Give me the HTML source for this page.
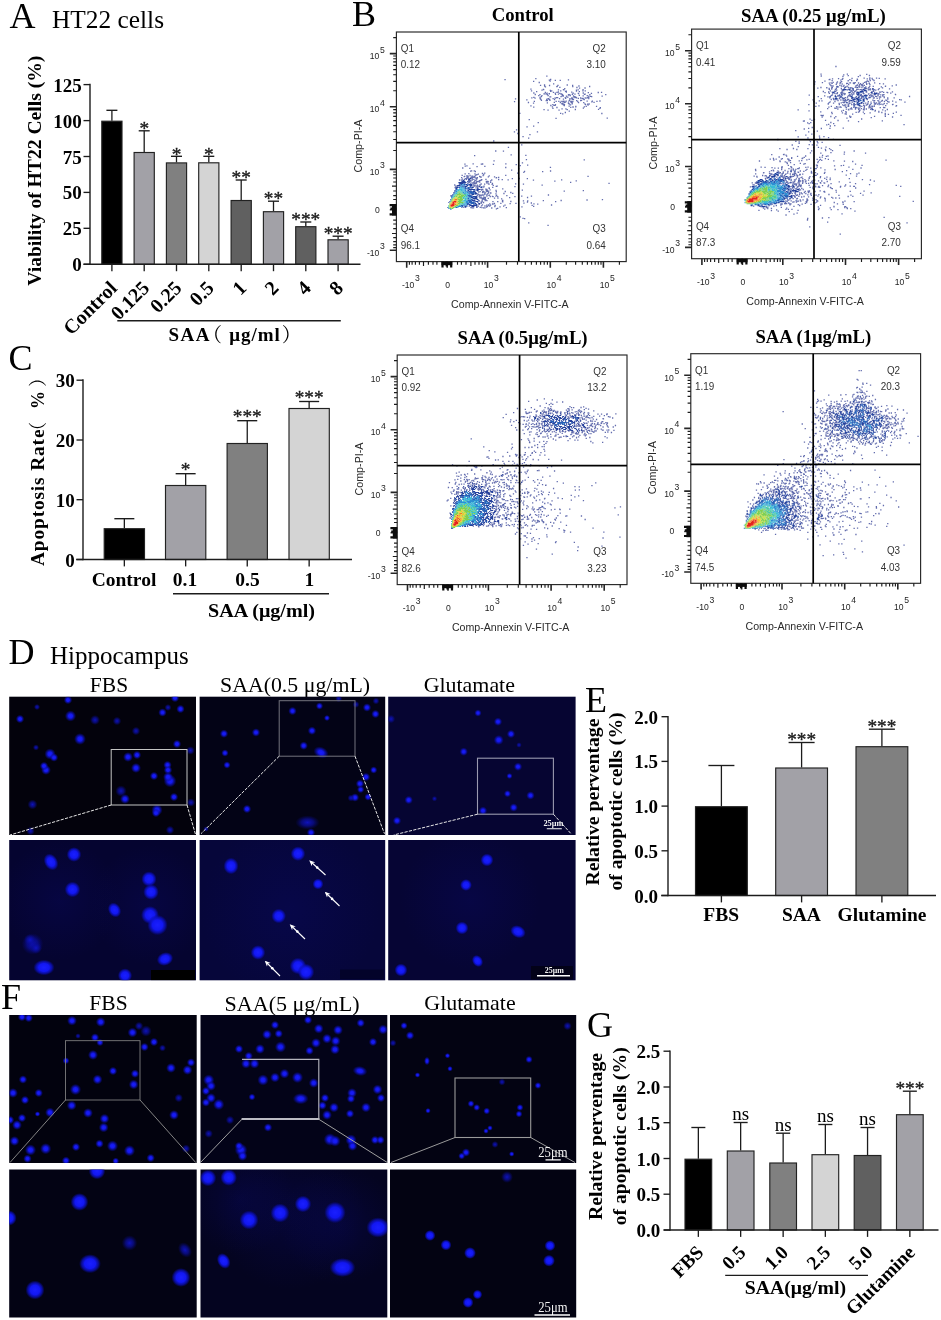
<!DOCTYPE html>
<html lang="en"><head><meta charset="utf-8"><title>Figure</title>
<style>
html,body{margin:0;padding:0;background:#fff;}
svg{display:block}
text{white-space:pre}
.r{font-family:'Liberation Serif','Noto Serif CJK SC','DejaVu Serif',serif;}
.b{font-family:'Liberation Serif','Noto Serif CJK SC','DejaVu Serif',serif;font-weight:bold;}
.a{font-family:'Liberation Sans','DejaVu Sans',sans-serif;}
</style></head><body>
<svg width="941" height="1320" viewBox="0 0 941 1320">
<defs>
<radialGradient id="cg"><stop offset="0" stop-color="#1a1fff"/><stop offset="0.5" stop-color="#1217f2"/><stop offset="0.76" stop-color="#0c10c4" stop-opacity="0.72"/><stop offset="1" stop-color="#0808a0" stop-opacity="0"/></radialGradient>
<radialGradient id="cs"><stop offset="0" stop-color="#1a1efc"/><stop offset="0.36" stop-color="#1418ea"/><stop offset="0.68" stop-color="#0c0fb4" stop-opacity="0.62"/><stop offset="1" stop-color="#070788" stop-opacity="0"/></radialGradient>
<radialGradient id="cd"><stop offset="0" stop-color="#0f13c4" stop-opacity="0.95"/><stop offset="0.5" stop-color="#0b0ea0" stop-opacity="0.7"/><stop offset="1" stop-color="#080880" stop-opacity="0"/></radialGradient>
<radialGradient id="hz"><stop offset="0" stop-color="#0a0a70" stop-opacity="0.28"/><stop offset="1" stop-color="#0a0a70" stop-opacity="0"/></radialGradient>
<marker id="ah" viewBox="0 0 10 10" refX="7" refY="5" markerWidth="5.4" markerHeight="5.4" orient="auto"><path d="M10 5L0 0.5L3.2 5L0 9.5z" fill="#fff"/></marker>
</defs>
<rect width="941" height="1320" fill="#fff"/>
<text class="r" font-size="36" x="9.5" y="27.5">A</text>
<text class="r" font-size="25" textLength="112" lengthAdjust="spacingAndGlyphs" x="52" y="27.5">HT22 cells</text>
<line x1="111.89999999999999" y1="120.7" x2="111.89999999999999" y2="110.3" stroke="#1c1c1c" stroke-width="1.3"/>
<line x1="106.39999999999999" y1="110.3" x2="117.39999999999999" y2="110.3" stroke="#1c1c1c" stroke-width="1.35"/>
<rect x="101.8" y="121.2" width="20.2" height="143.10000000000002" fill="#000000" stroke="#222" stroke-width="1.15"/>
<line x1="111.89999999999999" y1="264.3" x2="111.89999999999999" y2="271.2" stroke="#1c1c1c" stroke-width="1.35"/>
<line x1="144.2" y1="152" x2="144.2" y2="130.8" stroke="#1c1c1c" stroke-width="1.3"/>
<line x1="138.7" y1="130.8" x2="149.7" y2="130.8" stroke="#1c1c1c" stroke-width="1.35"/>
<rect x="134.1" y="152.5" width="20.2" height="111.80000000000001" fill="#a2a1a7" stroke="#222" stroke-width="1.15"/>
<line x1="144.2" y1="264.3" x2="144.2" y2="271.2" stroke="#1c1c1c" stroke-width="1.35"/>
<text class="r" font-size="19.3" text-anchor="middle" fill="#1c1c1c" x="144.2" y="135.0" stroke="#1c1c1c" stroke-width="0.35">*</text>
<line x1="176.5" y1="162.4" x2="176.5" y2="156.3" stroke="#1c1c1c" stroke-width="1.3"/>
<line x1="171.0" y1="156.3" x2="182.0" y2="156.3" stroke="#1c1c1c" stroke-width="1.35"/>
<rect x="166.4" y="162.9" width="20.2" height="101.4" fill="#808080" stroke="#222" stroke-width="1.15"/>
<line x1="176.5" y1="264.3" x2="176.5" y2="271.2" stroke="#1c1c1c" stroke-width="1.35"/>
<text class="r" font-size="19.3" text-anchor="middle" fill="#1c1c1c" x="176.5" y="160.5" stroke="#1c1c1c" stroke-width="0.35">*</text>
<line x1="208.79999999999998" y1="162.3" x2="208.79999999999998" y2="156.3" stroke="#1c1c1c" stroke-width="1.3"/>
<line x1="203.29999999999998" y1="156.3" x2="214.29999999999998" y2="156.3" stroke="#1c1c1c" stroke-width="1.35"/>
<rect x="198.7" y="162.8" width="20.2" height="101.5" fill="#d4d4d4" stroke="#222" stroke-width="1.15"/>
<line x1="208.79999999999998" y1="264.3" x2="208.79999999999998" y2="271.2" stroke="#1c1c1c" stroke-width="1.35"/>
<text class="r" font-size="19.3" text-anchor="middle" fill="#1c1c1c" x="208.79999999999998" y="160.5" stroke="#1c1c1c" stroke-width="0.35">*</text>
<line x1="241.2" y1="200" x2="241.2" y2="180" stroke="#1c1c1c" stroke-width="1.3"/>
<line x1="235.7" y1="180" x2="246.7" y2="180" stroke="#1c1c1c" stroke-width="1.35"/>
<rect x="231.1" y="200.5" width="20.2" height="63.80000000000001" fill="#606060" stroke="#222" stroke-width="1.15"/>
<line x1="241.2" y1="264.3" x2="241.2" y2="271.2" stroke="#1c1c1c" stroke-width="1.35"/>
<text class="r" font-size="19.3" text-anchor="middle" fill="#1c1c1c" x="241.2" y="184.2" stroke="#1c1c1c" stroke-width="0.35">**</text>
<line x1="273.5" y1="211.2" x2="273.5" y2="201.2" stroke="#1c1c1c" stroke-width="1.3"/>
<line x1="268.0" y1="201.2" x2="279.0" y2="201.2" stroke="#1c1c1c" stroke-width="1.35"/>
<rect x="263.4" y="211.7" width="20.2" height="52.60000000000002" fill="#a2a1a7" stroke="#222" stroke-width="1.15"/>
<line x1="273.5" y1="264.3" x2="273.5" y2="271.2" stroke="#1c1c1c" stroke-width="1.35"/>
<text class="r" font-size="19.3" text-anchor="middle" fill="#1c1c1c" x="273.5" y="205.39999999999998" stroke="#1c1c1c" stroke-width="0.35">**</text>
<line x1="305.8" y1="226.2" x2="305.8" y2="222" stroke="#1c1c1c" stroke-width="1.3"/>
<line x1="300.3" y1="222" x2="311.3" y2="222" stroke="#1c1c1c" stroke-width="1.35"/>
<rect x="295.7" y="226.7" width="20.2" height="37.60000000000002" fill="#606060" stroke="#222" stroke-width="1.15"/>
<line x1="305.8" y1="264.3" x2="305.8" y2="271.2" stroke="#1c1c1c" stroke-width="1.35"/>
<text class="r" font-size="19.3" text-anchor="middle" fill="#1c1c1c" x="305.8" y="226.2" stroke="#1c1c1c" stroke-width="0.35">***</text>
<line x1="338.1" y1="239.3" x2="338.1" y2="236.2" stroke="#1c1c1c" stroke-width="1.3"/>
<line x1="332.6" y1="236.2" x2="343.6" y2="236.2" stroke="#1c1c1c" stroke-width="1.35"/>
<rect x="328.0" y="239.8" width="20.2" height="24.5" fill="#a2a1a7" stroke="#222" stroke-width="1.15"/>
<line x1="338.1" y1="264.3" x2="338.1" y2="271.2" stroke="#1c1c1c" stroke-width="1.35"/>
<text class="r" font-size="19.3" text-anchor="middle" fill="#1c1c1c" x="338.1" y="240.39999999999998" stroke="#1c1c1c" stroke-width="0.35">***</text>
<line x1="90" y1="83.8" x2="90" y2="265.0" stroke="#1c1c1c" stroke-width="1.4"/>
<line x1="83.5" y1="264.3" x2="360.5" y2="264.3" stroke="#1c1c1c" stroke-width="1.4"/>
<line x1="83.5" y1="264.3" x2="90" y2="264.3" stroke="#1c1c1c" stroke-width="1.35"/>
<text class="b" font-size="19" text-anchor="end" x="81.8" y="271.3">0</text>
<line x1="83.5" y1="228.3" x2="90" y2="228.3" stroke="#1c1c1c" stroke-width="1.35"/>
<text class="b" font-size="19" text-anchor="end" x="81.8" y="235.3">25</text>
<line x1="83.5" y1="192.4" x2="90" y2="192.4" stroke="#1c1c1c" stroke-width="1.35"/>
<text class="b" font-size="19" text-anchor="end" x="81.8" y="199.4">50</text>
<line x1="83.5" y1="156.5" x2="90" y2="156.5" stroke="#1c1c1c" stroke-width="1.35"/>
<text class="b" font-size="19" text-anchor="end" x="81.8" y="163.5">75</text>
<line x1="83.5" y1="120.6" x2="90" y2="120.6" stroke="#1c1c1c" stroke-width="1.35"/>
<text class="b" font-size="19" text-anchor="end" x="81.8" y="127.6">100</text>
<line x1="83.5" y1="84.6" x2="90" y2="84.6" stroke="#1c1c1c" stroke-width="1.35"/>
<text class="b" font-size="19" text-anchor="end" x="81.8" y="91.6">125</text>
<text class="b" font-size="19.5" text-anchor="middle" textLength="230" lengthAdjust="spacingAndGlyphs" transform="translate(41.2 170.7) rotate(-90)">Viability of HT22 Cells (%)</text>
<text class="b" font-size="20" text-anchor="end" transform="translate(118.19999999999999 289.2) rotate(-45)">Control</text>
<text class="b" font-size="20" text-anchor="end" transform="translate(150.5 289.2) rotate(-45)">0.125</text>
<text class="b" font-size="20" text-anchor="end" transform="translate(182.8 289.2) rotate(-45)">0.25</text>
<text class="b" font-size="20" text-anchor="end" transform="translate(215.1 289.2) rotate(-45)">0.5</text>
<text class="b" font-size="20" text-anchor="end" transform="translate(247.5 289.2) rotate(-45)">1</text>
<text class="b" font-size="20" text-anchor="end" transform="translate(279.8 289.2) rotate(-45)">2</text>
<text class="b" font-size="20" text-anchor="end" transform="translate(312.1 289.2) rotate(-45)">4</text>
<text class="b" font-size="20" text-anchor="end" transform="translate(344.40000000000003 289.2) rotate(-45)">8</text>
<line x1="117.3" y1="320.7" x2="340.8" y2="320.7" stroke="#1c1c1c" stroke-width="1.35"/>
<text class="b" font-size="19" textLength="41.2" lengthAdjust="spacing" x="168.4" y="341.2">SAA</text>
<text class="r" font-size="19.5" x="202.4" y="341.8">（</text>
<text class="b" font-size="19" textLength="50.6" lengthAdjust="spacing" x="229.2" y="341.2">μg/ml</text>
<text class="r" font-size="19.5" x="281.8" y="341.8">）</text>
<text class="r" font-size="36" x="8.5" y="370">C</text>
<line x1="124.35" y1="528.2" x2="124.35" y2="518.7" stroke="#1c1c1c" stroke-width="1.3"/>
<line x1="114.35" y1="518.7" x2="134.35" y2="518.7" stroke="#1c1c1c" stroke-width="1.35"/>
<rect x="104.2" y="528.7" width="40.3" height="30.799999999999955" fill="#000000" stroke="#222" stroke-width="1.15"/>
<line x1="124.35" y1="559.5" x2="124.35" y2="566.4" stroke="#1c1c1c" stroke-width="1.35"/>
<line x1="185.65" y1="485" x2="185.65" y2="473.7" stroke="#1c1c1c" stroke-width="1.3"/>
<line x1="175.65" y1="473.7" x2="195.65" y2="473.7" stroke="#1c1c1c" stroke-width="1.35"/>
<rect x="165.5" y="485.5" width="40.3" height="74.0" fill="#a2a1a7" stroke="#222" stroke-width="1.15"/>
<line x1="185.65" y1="559.5" x2="185.65" y2="566.4" stroke="#1c1c1c" stroke-width="1.35"/>
<text class="r" font-size="19.3" text-anchor="middle" fill="#1c1c1c" x="185.65" y="476.3" stroke="#1c1c1c" stroke-width="0.35">*</text>
<line x1="247.25" y1="443" x2="247.25" y2="420.7" stroke="#1c1c1c" stroke-width="1.3"/>
<line x1="237.25" y1="420.7" x2="257.25" y2="420.7" stroke="#1c1c1c" stroke-width="1.35"/>
<rect x="227.1" y="443.5" width="40.3" height="116.0" fill="#808080" stroke="#222" stroke-width="1.15"/>
<line x1="247.25" y1="559.5" x2="247.25" y2="566.4" stroke="#1c1c1c" stroke-width="1.35"/>
<text class="r" font-size="19.3" text-anchor="middle" fill="#1c1c1c" x="247.25" y="423.3" stroke="#1c1c1c" stroke-width="0.35">***</text>
<line x1="309.15" y1="408" x2="309.15" y2="401.5" stroke="#1c1c1c" stroke-width="1.3"/>
<line x1="299.15" y1="401.5" x2="319.15" y2="401.5" stroke="#1c1c1c" stroke-width="1.35"/>
<rect x="289.0" y="408.5" width="40.3" height="151.0" fill="#d4d4d4" stroke="#222" stroke-width="1.15"/>
<line x1="309.15" y1="559.5" x2="309.15" y2="566.4" stroke="#1c1c1c" stroke-width="1.35"/>
<text class="r" font-size="19.3" text-anchor="middle" fill="#1c1c1c" x="309.15" y="404.1" stroke="#1c1c1c" stroke-width="0.35">***</text>
<line x1="83" y1="379.3" x2="83" y2="560.2" stroke="#1c1c1c" stroke-width="1.4"/>
<line x1="76.2" y1="559.5" x2="352" y2="559.5" stroke="#1c1c1c" stroke-width="1.4"/>
<line x1="76.5" y1="559.5" x2="83" y2="559.5" stroke="#1c1c1c" stroke-width="1.35"/>
<text class="b" font-size="19" text-anchor="end" x="74.8" y="566.5">0</text>
<line x1="76.5" y1="499.7" x2="83" y2="499.7" stroke="#1c1c1c" stroke-width="1.35"/>
<text class="b" font-size="19" text-anchor="end" x="74.8" y="506.7">10</text>
<line x1="76.5" y1="440" x2="83" y2="440" stroke="#1c1c1c" stroke-width="1.35"/>
<text class="b" font-size="19" text-anchor="end" x="74.8" y="447.0">20</text>
<line x1="76.5" y1="380.2" x2="83" y2="380.2" stroke="#1c1c1c" stroke-width="1.35"/>
<text class="b" font-size="19" text-anchor="end" x="74.8" y="387.2">30</text>
<text class="b" font-size="19.4" textLength="136.5" lengthAdjust="spacing" transform="translate(43.5 566) rotate(-90)">Apoptosis Rate</text>
<text class="r" font-size="18.5" transform="translate(43.6 440.2) rotate(-90)">（</text>
<text class="b" font-size="19.5" textLength="18" lengthAdjust="spacingAndGlyphs" transform="translate(43.5 409) rotate(-90)">%</text>
<text class="r" font-size="18.5" transform="translate(43.6 387.0) rotate(-90)">）</text>
<text class="b" font-size="19.5" text-anchor="middle" x="124" y="586.2">Control</text>
<text class="b" font-size="19.5" text-anchor="middle" x="185" y="586.2">0.1</text>
<text class="b" font-size="19.5" text-anchor="middle" x="247.5" y="586.2">0.5</text>
<text class="b" font-size="19.5" text-anchor="middle" x="309.3" y="586.2">1</text>
<line x1="173" y1="593.7" x2="329" y2="593.7" stroke="#1c1c1c" stroke-width="1.35"/>
<text class="b" font-size="19.5" text-anchor="middle" textLength="107" lengthAdjust="spacingAndGlyphs" x="261.5" y="617">SAA (μg/ml)</text>
<text class="r" font-size="36" x="8.5" y="663.7">D</text>
<text class="r" font-size="25" textLength="138.7" lengthAdjust="spacingAndGlyphs" x="50" y="663.7">Hippocampus</text>
<text class="r" font-size="21.5" text-anchor="middle" x="109" y="692.3">FBS</text>
<text class="r" font-size="21.5" text-anchor="middle" textLength="150" lengthAdjust="spacingAndGlyphs" x="295" y="692.3">SAA(0.5 μg/mL)</text>
<text class="r" font-size="21.5" text-anchor="middle" textLength="91.3" lengthAdjust="spacingAndGlyphs" x="469.3" y="692.3">Glutamate</text>
<text class="r" font-size="36" x="1" y="1008.7">F</text>
<text class="r" font-size="21.5" text-anchor="middle" x="108.5" y="1010">FBS</text>
<text class="r" font-size="21.5" text-anchor="middle" textLength="135" lengthAdjust="spacingAndGlyphs" x="292" y="1010.5">SAA(5 μg/mL)</text>
<text class="r" font-size="21.5" text-anchor="middle" textLength="91.3" lengthAdjust="spacingAndGlyphs" x="470" y="1010">Glutamate</text>
<text class="r" font-size="36" x="585" y="712">E</text>
<line x1="721.4" y1="806.2" x2="721.4" y2="765.5" stroke="#1c1c1c" stroke-width="1.3"/>
<line x1="708.4" y1="765.5" x2="734.4" y2="765.5" stroke="#1c1c1c" stroke-width="1.35"/>
<rect x="695.5" y="806.7" width="51.8" height="88.79999999999995" fill="#000000" stroke="#222" stroke-width="1.15"/>
<line x1="721.4" y1="895.5" x2="721.4" y2="902.4" stroke="#1c1c1c" stroke-width="1.35"/>
<line x1="801.6" y1="767.5" x2="801.6" y2="742.5" stroke="#1c1c1c" stroke-width="1.3"/>
<line x1="788.6" y1="742.5" x2="814.6" y2="742.5" stroke="#1c1c1c" stroke-width="1.35"/>
<rect x="775.7" y="768.0" width="51.8" height="127.5" fill="#a2a1a7" stroke="#222" stroke-width="1.15"/>
<line x1="801.6" y1="895.5" x2="801.6" y2="902.4" stroke="#1c1c1c" stroke-width="1.35"/>
<text class="r" font-size="19.3" text-anchor="middle" fill="#1c1c1c" x="801.6" y="746.0" stroke="#1c1c1c" stroke-width="0.35">***</text>
<line x1="881.9" y1="746.2" x2="881.9" y2="729.2" stroke="#1c1c1c" stroke-width="1.3"/>
<line x1="868.9" y1="729.2" x2="894.9" y2="729.2" stroke="#1c1c1c" stroke-width="1.35"/>
<rect x="856.0" y="746.7" width="51.8" height="148.79999999999995" fill="#808080" stroke="#222" stroke-width="1.15"/>
<line x1="881.9" y1="895.5" x2="881.9" y2="902.4" stroke="#1c1c1c" stroke-width="1.35"/>
<text class="r" font-size="19.3" text-anchor="middle" fill="#1c1c1c" x="881.9" y="732.7" stroke="#1c1c1c" stroke-width="0.35">***</text>
<line x1="668" y1="716.0" x2="668" y2="896.2" stroke="#1c1c1c" stroke-width="1.4"/>
<line x1="661.2" y1="895.5" x2="936" y2="895.5" stroke="#1c1c1c" stroke-width="1.4"/>
<line x1="661.5" y1="895.5" x2="668" y2="895.5" stroke="#1c1c1c" stroke-width="1.35"/>
<text class="b" font-size="19" text-anchor="end" x="658.0" y="902.5">0.0</text>
<line x1="661.5" y1="850.8" x2="668" y2="850.8" stroke="#1c1c1c" stroke-width="1.35"/>
<text class="b" font-size="19" text-anchor="end" x="658.0" y="857.8">0.5</text>
<line x1="661.5" y1="806.1" x2="668" y2="806.1" stroke="#1c1c1c" stroke-width="1.35"/>
<text class="b" font-size="19" text-anchor="end" x="658.0" y="813.1">1.0</text>
<line x1="661.5" y1="761.4" x2="668" y2="761.4" stroke="#1c1c1c" stroke-width="1.35"/>
<text class="b" font-size="19" text-anchor="end" x="658.0" y="768.4">1.5</text>
<line x1="661.5" y1="716.7" x2="668" y2="716.7" stroke="#1c1c1c" stroke-width="1.35"/>
<text class="b" font-size="19" text-anchor="end" x="658.0" y="723.7">2.0</text>
<text class="b" font-size="19.5" text-anchor="middle" textLength="166.8" lengthAdjust="spacingAndGlyphs" transform="translate(599.3 802) rotate(-90)">Relative perventage</text>
<text class="b" font-size="19.5" text-anchor="middle" textLength="178" lengthAdjust="spacingAndGlyphs" transform="translate(622 801.5) rotate(-90)">of apoptotic cells (%)</text>
<text class="b" font-size="19.5" text-anchor="middle" x="721.2" y="921.2">FBS</text>
<text class="b" font-size="19.5" text-anchor="middle" x="801.4" y="921.2">SAA</text>
<text class="b" font-size="19.5" text-anchor="middle" textLength="88.8" lengthAdjust="spacingAndGlyphs" x="882" y="921.2">Glutamine</text>
<text class="r" font-size="36" x="587" y="1037">G</text>
<line x1="698.35" y1="1158.7" x2="698.35" y2="1127.5" stroke="#1c1c1c" stroke-width="1.3"/>
<line x1="691.35" y1="1127.5" x2="705.35" y2="1127.5" stroke="#1c1c1c" stroke-width="1.35"/>
<rect x="685.0" y="1159.2" width="26.7" height="70.79999999999995" fill="#000000" stroke="#222" stroke-width="1.15"/>
<line x1="698.35" y1="1230" x2="698.35" y2="1236.9" stroke="#1c1c1c" stroke-width="1.35"/>
<line x1="740.65" y1="1150.5" x2="740.65" y2="1122.5" stroke="#1c1c1c" stroke-width="1.3"/>
<line x1="733.65" y1="1122.5" x2="747.65" y2="1122.5" stroke="#1c1c1c" stroke-width="1.35"/>
<rect x="727.3" y="1151.0" width="26.7" height="79.0" fill="#a2a1a7" stroke="#222" stroke-width="1.15"/>
<line x1="740.65" y1="1230" x2="740.65" y2="1236.9" stroke="#1c1c1c" stroke-width="1.35"/>
<text class="r" font-size="19" text-anchor="middle" x="740.65" y="1119.9">ns</text>
<line x1="783.15" y1="1162.5" x2="783.15" y2="1133.2" stroke="#1c1c1c" stroke-width="1.3"/>
<line x1="776.15" y1="1133.2" x2="790.15" y2="1133.2" stroke="#1c1c1c" stroke-width="1.35"/>
<rect x="769.8" y="1163.0" width="26.7" height="67.0" fill="#808080" stroke="#222" stroke-width="1.15"/>
<line x1="783.15" y1="1230" x2="783.15" y2="1236.9" stroke="#1c1c1c" stroke-width="1.35"/>
<text class="r" font-size="19" text-anchor="middle" x="783.15" y="1130.6000000000001">ns</text>
<line x1="825.35" y1="1154.2" x2="825.35" y2="1124.5" stroke="#1c1c1c" stroke-width="1.3"/>
<line x1="818.35" y1="1124.5" x2="832.35" y2="1124.5" stroke="#1c1c1c" stroke-width="1.35"/>
<rect x="812.0" y="1154.7" width="26.7" height="75.29999999999995" fill="#d4d4d4" stroke="#222" stroke-width="1.15"/>
<line x1="825.35" y1="1230" x2="825.35" y2="1236.9" stroke="#1c1c1c" stroke-width="1.35"/>
<text class="r" font-size="19" text-anchor="middle" x="825.35" y="1121.9">ns</text>
<line x1="867.5500000000001" y1="1155" x2="867.5500000000001" y2="1127.5" stroke="#1c1c1c" stroke-width="1.3"/>
<line x1="860.5500000000001" y1="1127.5" x2="874.5500000000001" y2="1127.5" stroke="#1c1c1c" stroke-width="1.35"/>
<rect x="854.2" y="1155.5" width="26.7" height="74.5" fill="#606060" stroke="#222" stroke-width="1.15"/>
<line x1="867.5500000000001" y1="1230" x2="867.5500000000001" y2="1236.9" stroke="#1c1c1c" stroke-width="1.35"/>
<text class="r" font-size="19" text-anchor="middle" x="867.5500000000001" y="1124.9">ns</text>
<line x1="909.85" y1="1114.2" x2="909.85" y2="1091.2" stroke="#1c1c1c" stroke-width="1.3"/>
<line x1="902.85" y1="1091.2" x2="916.85" y2="1091.2" stroke="#1c1c1c" stroke-width="1.35"/>
<rect x="896.5" y="1114.7" width="26.7" height="115.29999999999995" fill="#a2a1a7" stroke="#222" stroke-width="1.15"/>
<line x1="909.85" y1="1230" x2="909.85" y2="1236.9" stroke="#1c1c1c" stroke-width="1.35"/>
<text class="r" font-size="19.3" text-anchor="middle" fill="#1c1c1c" x="909.85" y="1094.7" stroke="#1c1c1c" stroke-width="0.35">***</text>
<line x1="670" y1="1050.5" x2="670" y2="1230.7" stroke="#1c1c1c" stroke-width="1.4"/>
<line x1="663.7" y1="1230" x2="938.5" y2="1230" stroke="#1c1c1c" stroke-width="1.4"/>
<line x1="663.5" y1="1230" x2="670" y2="1230" stroke="#1c1c1c" stroke-width="1.35"/>
<text class="b" font-size="19" text-anchor="end" x="660.3" y="1237.0">0.0</text>
<line x1="663.5" y1="1194.2" x2="670" y2="1194.2" stroke="#1c1c1c" stroke-width="1.35"/>
<text class="b" font-size="19" text-anchor="end" x="660.3" y="1201.2">0.5</text>
<line x1="663.5" y1="1158.5" x2="670" y2="1158.5" stroke="#1c1c1c" stroke-width="1.35"/>
<text class="b" font-size="19" text-anchor="end" x="660.3" y="1165.5">1.0</text>
<line x1="663.5" y1="1122.7" x2="670" y2="1122.7" stroke="#1c1c1c" stroke-width="1.35"/>
<text class="b" font-size="19" text-anchor="end" x="660.3" y="1129.7">1.5</text>
<line x1="663.5" y1="1087" x2="670" y2="1087" stroke="#1c1c1c" stroke-width="1.35"/>
<text class="b" font-size="19" text-anchor="end" x="660.3" y="1094.0">2.0</text>
<line x1="663.5" y1="1051.2" x2="670" y2="1051.2" stroke="#1c1c1c" stroke-width="1.35"/>
<text class="b" font-size="19" text-anchor="end" x="660.3" y="1058.2">2.5</text>
<text class="b" font-size="19.5" text-anchor="middle" textLength="167" lengthAdjust="spacingAndGlyphs" transform="translate(602 1136.5) rotate(-90)">Relative perventage</text>
<text class="b" font-size="19.5" text-anchor="middle" textLength="178" lengthAdjust="spacingAndGlyphs" transform="translate(625.6 1136.3) rotate(-90)">of apoptotic cells (%)</text>
<text class="b" font-size="19.4" text-anchor="end" transform="translate(704.5500000000001 1253.6) rotate(-45)">FBS</text>
<text class="b" font-size="19.4" text-anchor="end" transform="translate(746.85 1253.6) rotate(-45)">0.5</text>
<text class="b" font-size="19.4" text-anchor="end" transform="translate(789.35 1253.6) rotate(-45)">1.0</text>
<text class="b" font-size="19.4" text-anchor="end" transform="translate(831.5500000000001 1253.6) rotate(-45)">2.5</text>
<text class="b" font-size="19.4" text-anchor="end" transform="translate(873.7500000000001 1253.6) rotate(-45)">5.0</text>
<text class="b" font-size="19.4" text-anchor="end" transform="translate(916.0500000000001 1253.6) rotate(-45)">Glutamine</text>
<line x1="725.2" y1="1275.3" x2="868" y2="1275.3" stroke="#1c1c1c" stroke-width="1.35"/>
<text class="b" font-size="19.5" textLength="101.3" lengthAdjust="spacingAndGlyphs" x="744.7" y="1294.2">SAA(μg/ml)</text>
<text class="r" font-size="36" x="352" y="26.3">B</text>
<g transform="translate(396.4 32)" fill="none">
<path stroke="#27348f" stroke-width="1.3" opacity="0.72" d="M54.6 165.2h1.3M69.9 133.9h1.3M75.8 154.9h1.3M70.0 144.0h1.3M74.9 145.5h1.3M87.8 134.4h1.3M70.9 145.0h1.3M53.7 167.6h1.3M74.6 138.8h1.3M64.6 145.7h1.3M70.8 149.9h1.3M79.9 146.9h1.3M72.8 136.3h1.3M85.6 132.0h1.3M78.4 151.1h1.3M77.5 144.6h1.3M75.7 150.9h1.3M71.5 145.1h1.3M68.2 134.1h1.3M74.9 144.2h1.3M71.7 147.1h1.3M64.4 148.2h1.3M69.3 147.4h1.3M57.7 153.0h1.3M62.5 148.0h1.3M60.4 153.6h1.3M73.2 154.6h1.3M82.6 144.5h1.3M58.9 154.1h1.3M79.4 151.0h1.3M75.9 145.7h1.3M71.1 146.7h1.3M71.5 148.4h1.3M58.1 155.5h1.3M69.6 146.2h1.3M67.2 144.7h1.3M77.9 148.6h1.3M68.1 141.8h1.3M67.9 132.1h1.3M65.7 136.0h1.3M80.6 149.6h1.3M53.7 163.9h1.3M68.2 146.6h1.3M77.2 138.8h1.3M67.3 147.6h1.3M87.7 141.1h1.3M62.2 151.8h1.3M76.5 145.1h1.3M75.1 148.0h1.3M65.4 147.1h1.3M71.8 150.1h1.3M59.4 155.4h1.3M69.7 144.0h1.3M73.0 143.5h1.3M77.1 149.9h1.3M72.2 150.5h1.3M67.6 144.3h1.3M70.9 143.9h1.3M71.4 150.1h1.3M78.3 139.5h1.3M93.6 150.3h1.3M81.1 162.2h1.3M93.5 173.2h1.3M90.9 158.8h1.3M91.0 159.4h1.3M88.9 147.3h1.3M83.6 145.0h1.3M74.0 150.1h1.3M75.1 146.8h1.3M91.7 159.8h1.3M77.9 153.5h1.3M82.5 148.7h1.3M71.9 147.1h1.3M89.3 149.5h1.3M90.3 158.3h1.3M96.4 132.4h1.3M86.1 143.6h1.3M80.9 162.4h1.3M80.7 155.5h1.3M79.1 146.5h1.3M81.7 160.1h1.3M77.9 145.6h1.3M85.4 141.5h1.3M81.3 142.1h1.3M76.3 155.0h1.3M80.9 159.0h1.3M88.3 167.0h1.3M83.9 164.2h1.3M84.1 145.1h1.3M88.8 157.2h1.3M85.3 157.6h1.3M89.2 168.1h1.3M114.6 138.2h1.3M100.9 166.2h1.3M89.8 162.8h1.3M62.6 151.9h1.3M79.9 142.7h1.3M84.1 152.0h1.3M90.4 161.9h1.3M85.8 160.6h1.3M82.3 154.7h1.3M77.6 149.8h1.3M84.7 147.7h1.3M73.6 139.1h1.3M80.8 154.3h1.3M75.7 144.1h1.3M85.4 172.9h1.3M85.6 163.0h1.3M79.4 146.1h1.3M91.2 166.3h1.3M84.4 171.2h1.3M99.0 158.5h1.3M72.3 148.6h1.3M77.5 151.6h1.3M80.0 134.7h1.3M80.4 153.2h1.3M99.5 145.6h1.3M70.3 145.6h1.3M91.7 173.7h1.3M95.4 151.3h1.3M78.9 143.2h1.3M94.7 148.0h1.3M83.1 159.7h1.3M78.1 143.8h1.3M68.2 146.6h1.3M97.0 128.9h1.3M75.2 147.2h1.3M82.8 152.9h1.3M76.5 153.0h1.3M105.2 147.6h1.3M80.3 145.7h1.3M77.6 154.1h1.3M85.1 169.5h1.3M92.2 143.9h1.3M85.7 159.6h1.3M104.6 166.9h1.3M78.6 151.6h1.3M83.3 148.3h1.3M86.6 165.2h1.3M96.2 153.4h1.3M79.7 149.7h1.3M84.3 166.2h1.3M79.1 148.1h1.3M71.8 141.6h1.3M89.9 168.7h1.3M79.3 154.1h1.3M95.5 172.0h1.3M77.6 123.7h1.3M87.3 165.4h1.3M86.7 142.5h1.3M82.4 172.3h1.3M76.1 131.9h1.3M73.9 145.4h1.3M89.7 173.2h1.3M68.6 175.3h1.3M82.7 150.0h1.3M84.5 157.5h1.3M84.5 158.1h1.3M84.3 132.2h1.3M80.5 155.1h1.3M89.7 157.4h1.3M84.4 148.0h1.3M101.6 147.6h1.3M78.6 151.4h1.3M83.0 153.3h1.3M73.6 148.7h1.3M76.9 150.6h1.3M92.6 163.2h1.3M89.3 149.9h1.3M73.8 154.8h1.3M91.3 144.9h1.3M80.8 153.9h1.3M76.0 151.3h1.3M97.5 144.9h1.3M81.2 149.5h1.3M91.4 151.9h1.3M82.9 165.9h1.3M77.9 141.8h1.3M72.2 174.1h1.3M65.1 143.4h1.3M80.7 156.1h1.3M89.8 157.4h1.3M79.0 155.8h1.3M98.1 173.5h1.3M75.2 175.8h1.3M115.7 161.3h1.3M100.6 176.3h1.3M100.7 164.6h1.3M105.4 169.0h1.3M76.5 175.9h1.3M96.0 164.6h1.3M86.6 175.9h1.3M91.9 163.4h1.3M91.5 161.0h1.3M105.7 168.5h1.3M99.3 159.9h1.3M87.9 174.0h1.3M85.2 166.1h1.3M105.7 169.9h1.3M92.7 174.2h1.3M87.4 167.3h1.3M95.1 152.4h1.3M89.6 175.0h1.3M99.4 176.8h1.3M87.0 154.1h1.3M109.3 175.6h1.3M94.7 176.0h1.3M89.2 158.5h1.3M101.6 145.5h1.3M85.1 168.2h1.3M86.6 163.2h1.3M99.6 163.4h1.3M83.9 163.6h1.3M87.6 152.1h1.3M113.1 171.7h1.3M93.0 157.8h1.3M93.6 148.9h1.3M88.0 175.8h1.3M86.9 159.9h1.3M119.2 132.7h1.3M81.4 168.3h1.3M82.3 168.8h1.3M108.7 143.4h1.3M84.9 175.7h1.3M108.0 173.2h1.3M86.5 170.5h1.3M84.0 165.7h1.3M80.5 156.6h1.3M100.1 154.2h1.3M108.2 159.5h1.3M88.1 165.9h1.3M130.7 168.9h1.3M84.0 170.2h1.3M99.2 154.4h1.3M113.8 169.5h1.3M90.6 149.5h1.3M145.6 139.7h1.3M117.9 164.7h1.3M86.7 155.2h1.3M92.7 171.8h1.3M85.5 160.4h1.3M95.4 164.4h1.3M80.2 163.4h1.3M92.0 152.1h1.3M88.4 165.4h1.3M84.5 173.9h1.3M130.4 170.1h1.3M86.7 165.1h1.3M86.3 159.5h1.3M98.9 164.1h1.3M111.1 147.8h1.3M85.5 167.2h1.3M95.7 155.4h1.3M88.1 160.5h1.3M83.2 175.4h1.3M106.6 174.2h1.3M82.2 164.5h1.3M89.7 159.5h1.3M95.9 169.7h1.3M112.6 165.6h1.3M97.5 166.2h1.3M82.2 163.0h1.3M92.0 156.0h1.3M80.0 174.9h1.3M97.4 171.5h1.3M113.8 160.5h1.3M86.4 167.0h1.3M89.9 164.0h1.3M84.4 163.2h1.3M103.8 171.4h1.3M117.9 154.6h1.3M84.4 170.3h1.3M73.9 175.5h1.3M81.8 172.0h1.3M79.5 174.6h1.3M124.7 164.2h1.3M126.8 140.4h1.3M105.7 156.8h1.3M99.2 145.8h1.3M81.3 174.2h1.3M90.3 174.3h1.3M103.0 174.9h1.3M92.3 156.3h1.3M95.9 172.0h1.3M115.3 146.7h1.3M106.9 161.5h1.3M125.3 158.1h1.3M83.1 163.2h1.3M100.7 169.7h1.3M97.8 174.5h1.3M91.4 172.9h1.3M98.9 161.9h1.3M93.2 164.6h1.3M93.8 161.0h1.3M126.4 152.2h1.3M85.7 157.5h1.3M109.8 163.6h1.3M93.5 161.0h1.3M88.1 168.5h1.3M89.9 151.0h1.3M84.1 157.4h1.3M147.6 54.0h1.3M187.2 67.7h1.3M160.2 54.3h1.3M201.2 60.5h1.3M156.1 66.7h1.3M152.3 61.6h1.3M180.7 69.5h1.3M143.0 66.1h1.3M167.3 73.5h1.3M171.4 63.0h1.3M181.5 61.6h1.3M202.9 76.3h1.3M165.0 76.8h1.3M181.5 70.6h1.3M189.2 74.3h1.3M155.8 72.7h1.3M165.9 71.7h1.3M188.5 72.6h1.3M167.4 70.6h1.3M175.4 62.1h1.3M192.8 62.7h1.3M150.3 68.6h1.3M147.0 77.7h1.3M203.3 75.6h1.3M174.7 66.0h1.3M186.0 57.6h1.3M187.9 71.9h1.3M182.3 59.7h1.3M178.7 74.9h1.3M148.4 54.9h1.3M172.2 72.0h1.3M137.3 69.4h1.3M151.7 67.0h1.3M210.2 86.1h1.3M152.3 48.1h1.3M187.3 74.8h1.3M174.0 66.8h1.3M164.0 62.1h1.3M176.4 67.6h1.3M191.9 64.2h1.3M150.3 62.6h1.3M181.1 57.8h1.3M166.9 57.9h1.3M162.0 78.2h1.3M170.2 77.6h1.3M191.8 65.0h1.3M179.6 68.6h1.3M192.6 54.5h1.3M173.7 75.3h1.3M188.2 58.9h1.3M185.1 66.4h1.3M155.9 76.3h1.3M159.9 60.4h1.3M163.3 70.7h1.3M169.3 59.1h1.3M197.0 70.4h1.3M170.8 65.2h1.3M173.5 72.8h1.3M190.6 72.1h1.3M153.6 64.8h1.3M176.9 64.9h1.3M152.9 68.3h1.3M175.1 70.5h1.3M158.3 48.4h1.3M129.8 67.8h1.3M156.6 51.8h1.3M166.8 69.7h1.3M177.9 64.6h1.3M134.5 58.9h1.3M134.8 65.9h1.3M176.2 61.2h1.3M173.2 63.5h1.3M144.9 63.6h1.3M182.5 56.1h1.3M199.9 69.4h1.3M178.8 74.5h1.3M165.2 63.8h1.3M186.4 67.1h1.3M138.0 66.1h1.3M169.1 69.2h1.3M186.1 63.9h1.3M184.5 68.4h1.3M172.2 79.2h1.3M156.4 60.4h1.3M182.3 63.4h1.3M161.4 57.8h1.3M172.6 66.8h1.3M136.5 71.1h1.3M168.3 80.5h1.3M168.5 59.4h1.3M163.7 58.9h1.3M153.3 58.4h1.3M183.6 66.0h1.3M191.0 73.2h1.3M179.4 59.0h1.3M159.5 65.7h1.3M138.2 62.5h1.3M174.7 60.2h1.3M164.0 64.6h1.3M149.7 67.7h1.3M171.8 69.2h1.3M142.9 62.7h1.3M202.9 69.0h1.3M108.0 47.6h1.3M175.7 54.6h1.3M195.3 69.2h1.3M177.9 65.7h1.3M165.7 69.5h1.3M192.1 72.0h1.3M146.4 57.3h1.3M143.9 67.4h1.3M160.9 53.4h1.3M153.6 59.3h1.3M161.4 62.2h1.3M166.9 69.1h1.3M136.6 49.4h1.3M157.3 70.4h1.3M181.9 54.0h1.3M205.1 64.2h1.3M190.9 65.4h1.3M159.0 86.4h1.3M185.9 58.8h1.3M157.5 67.6h1.3M131.4 70.5h1.3M181.3 66.4h1.3M162.8 55.3h1.3M169.4 64.2h1.3M168.2 65.7h1.3M141.7 63.7h1.3M173.7 69.7h1.3M188.0 56.0h1.3M171.4 47.9h1.3M158.1 73.4h1.3M138.8 46.6h1.3M162.5 66.7h1.3M157.9 66.1h1.3M165.3 62.6h1.3M161.3 60.0h1.3M158.2 61.2h1.3M166.2 64.2h1.3M145.0 58.2h1.3M136.8 61.0h1.3M155.4 74.9h1.3M147.9 61.9h1.3M172.1 74.1h1.3M186.7 70.7h1.3M175.9 75.0h1.3M159.1 69.3h1.3M159.9 75.5h1.3M175.2 71.9h1.3M175.3 62.4h1.3M179.5 65.9h1.3M151.0 78.1h1.3M177.9 62.1h1.3M204.8 81.5h1.3M188.1 62.1h1.3M183.6 68.5h1.3M165.7 81.8h1.3M161.8 69.3h1.3M171.8 62.7h1.3M153.1 49.1h1.3M149.2 68.7h1.3M175.7 66.1h1.3M133.9 73.8h1.3M169.3 60.2h1.3M186.0 66.5h1.3M150.0 67.2h1.3M164.8 71.4h1.3M153.6 47.5h1.3M199.5 74.3h1.3M166.2 69.8h1.3M181.3 61.3h1.3M152.9 64.8h1.3M167.7 56.6h1.3M147.5 53.0h1.3M156.9 73.4h1.3M146.6 57.7h1.3M144.4 68.3h1.3M176.4 63.8h1.3M175.8 69.7h1.3M164.6 61.9h1.3M168.9 76.8h1.3M170.2 53.0h1.3M174.2 70.5h1.3M136.7 75.1h1.3M179.4 58.2h1.3M152.5 53.5h1.3M166.4 72.8h1.3M190.1 69.2h1.3M147.0 61.9h1.3M201.5 77.3h1.3M158.4 66.1h1.3M150.3 70.8h1.3M191.7 66.5h1.3M149.4 61.8h1.3M174.4 69.5h1.3M139.6 59.7h1.3M178.3 77.5h1.3M144.3 64.6h1.3M148.3 60.3h1.3M208.7 62.6h1.3M142.2 50.5h1.3M171.4 71.0h1.3M190.2 63.7h1.3M170.1 65.2h1.3M168.6 66.3h1.3M117.5 69.6h1.3M160.6 65.7h1.3M194.4 61.4h1.3M133.9 57.1h1.3M151.1 63.6h1.3M191.3 60.6h1.3M186.3 76.1h1.3M154.7 58.9h1.3M166.4 57.7h1.3M158.5 62.3h1.3M172.6 68.3h1.3M168.5 70.2h1.3M179.9 55.5h1.3M167.7 70.1h1.3M171.5 71.4h1.3M188.2 66.0h1.3M175.5 67.5h1.3M143.3 66.8h1.3M149.8 44.1h1.3M158.4 72.6h1.3M194.8 69.9h1.3M150.1 61.2h1.3M166.4 67.2h1.3M118.5 66.8h1.3M152.6 67.5h1.3M172.7 62.8h1.3M189.9 66.0h1.3M186.2 61.0h1.3M153.8 73.5h1.3M204.5 60.3h1.3M164.1 69.4h1.3M187.4 62.4h1.3M159.8 54.7h1.3M194.6 64.7h1.3M179.0 65.3h1.3M165.1 72.0h1.3M176.1 75.1h1.3M143.5 53.3h1.3M175.6 53.4h1.3M151.3 66.7h1.3M162.8 61.3h1.3M193.6 64.4h1.3M166.2 63.4h1.3M152.1 61.8h1.3M126.0 104.7h1.3M114.1 122.8h1.3M98.7 119.0h1.3M96.7 109.0h1.3M167.4 72.7h1.3M130.0 94.9h1.3M128.8 123.3h1.3M163.6 81.3h1.3M136.8 65.4h1.3M124.7 112.9h1.3M91.4 149.9h1.3M108.7 135.5h1.3M111.4 115.3h1.3M108.8 131.9h1.3M143.0 65.5h1.3M141.2 90.7h1.3M129.4 127.7h1.3M119.5 97.8h1.3M117.4 99.8h1.3M131.6 106.1h1.3M122.8 81.3h1.3M132.9 102.6h1.3M106.4 119.1h1.3M140.4 99.9h1.3M163.2 48.4h1.3M120.8 101.5h1.3M132.2 87.7h1.3M136.6 94.1h1.3M157.8 149.1h1.3M123.2 184.8h1.3M126.4 168.8h1.3M120.6 141.2h1.3M158.6 169.6h1.3M136.6 174.4h1.3M136.9 171.9h1.3M205.4 167.6h1.3M118.9 171.4h1.3M127.5 139.4h1.3M191.0 144.3h1.3M173.6 150.3h1.3M130.5 165.5h1.3M151.0 193.3h1.3M130.3 146.7h1.3M126.0 186.4h1.3M151.4 163.0h1.3M153.5 139.0h1.3M131.7 190.8h1.3M212.0 151.3h1.3M190.0 168.0h1.3M153.4 135.4h1.3M145.1 153.2h1.3M167.2 159.1h1.3M186.3 158.6h1.3M134.3 171.0h1.3M136.4 148.2h1.3M140.7 172.2h1.3M123.2 133.6h1.3M126.9 171.1h1.3M146.3 168.7h1.3M135.1 173.3h1.3M164.1 168.5h1.3M124.9 174.9h1.3M179.2 148.8h1.3M122.2 146.5h1.3M118.6 151.8h1.3M130.6 133.1h1.3M127.6 186.7h1.3M121.6 136.6h1.3M154.5 173.0h1.3M187.2 127.8h1.3M125.4 130.9h1.3M164.6 147.9h1.3M134.4 164.2h1.3"/>
<path stroke="#24409c" stroke-width="1.15" d="M73 146.5h2M72 147.5h2M77 147.5h1M66 148.5h2M65 149.5h4M71 149.5h1M73 149.5h1M62 150.5h8M63 151.5h4M68 151.5h1M71 151.5h1M74 151.5h1M63 152.5h1M69 152.5h2M72 152.5h4M61 153.5h3M70 153.5h2M73 153.5h3M61 154.5h1M66 154.5h1M68 154.5h3M83 154.5h1M85 154.5h1M60 155.5h2M73 155.5h1M75 155.5h2M84 155.5h2M59 156.5h2M70 156.5h1M73 156.5h1M75 156.5h1M81 156.5h1M72 157.5h7M80 157.5h4M58 158.5h1M71 158.5h2M74 158.5h1M78 158.5h1M80 158.5h2M58 159.5h1M71 159.5h1M76 159.5h3M57 160.5h1M72 160.5h1M78 160.5h2M73 161.5h1M78 161.5h3M88 161.5h1M56 162.5h1M73 162.5h1M75 162.5h3M79 162.5h1M88 162.5h1M55 163.5h1M75 163.5h1M76 164.5h5M74 165.5h3M78 165.5h3M76 166.5h5M87 166.5h1M76 167.5h1M78 167.5h1M80 167.5h2M75 168.5h4M53 169.5h1M77 169.5h1M79 169.5h3M52 170.5h1M78 170.5h1M81 170.5h1M78 171.5h2M82 171.5h2M72 172.5h2M77 172.5h1M79 172.5h2M70 173.5h1M73 173.5h8M68 174.5h2M75 174.5h3M51 175.5h1M65 175.5h1M67 175.5h1M80 175.5h1"/>
<path stroke="#2860b8" stroke-width="1.15" d="M67 151.5h1M64 152.5h2M67 152.5h2M71 152.5h1M64 153.5h1M66 153.5h1M68 153.5h1M63 154.5h1M65 154.5h1M67 154.5h1M74 154.5h1M62 155.5h2M66 155.5h1M68 155.5h2M71 155.5h2M74 155.5h1M68 156.5h2M71 156.5h2M59 157.5h2M69 157.5h1M71 157.5h1M59 158.5h1M77 158.5h1M69 159.5h1M72 159.5h4M58 160.5h1M73 160.5h5M57 161.5h1M68 161.5h1M72 161.5h1M74 161.5h4M56 163.5h1M71 163.5h4M55 164.5h1M72 164.5h4M72 165.5h1M77 165.5h1M71 166.5h2M74 166.5h1M72 167.5h1M74 167.5h2M71 168.5h4M72 169.5h4M78 169.5h1M72 170.5h6M70 171.5h3M74 171.5h4M67 172.5h1M70 172.5h2M74 172.5h1M78 172.5h1M64 173.5h3M68 173.5h1M65 174.5h2M70 174.5h1M59 175.5h2M52 176.5h1M54 177.5h1"/>
<path stroke="#2c8fd2" stroke-width="1.15" d="M66 152.5h1M65 153.5h1M67 153.5h1M64 154.5h1M67 155.5h1M63 156.5h1M65 156.5h1M67 156.5h1M61 157.5h1M66 157.5h1M68 157.5h1M60 158.5h1M66 158.5h1M68 158.5h2M59 159.5h2M66 159.5h1M68 159.5h1M70 159.5h1M60 160.5h1M66 160.5h2M70 160.5h2M58 161.5h1M67 161.5h1M69 161.5h1M71 161.5h1M57 162.5h1M72 162.5h1M70 163.5h1M56 164.5h1M71 164.5h1M55 165.5h1M71 165.5h1M73 165.5h1M55 166.5h1M70 166.5h1M71 167.5h1M73 167.5h1M70 168.5h1M69 169.5h3M69 170.5h3M67 171.5h1M69 171.5h1M68 172.5h1M67 173.5h1M69 173.5h1M61 174.5h4M61 175.5h1"/>
<path stroke="#38bcd6" stroke-width="1.15" d="M64 155.5h2M64 156.5h1M66 156.5h1M62 157.5h4M67 157.5h1M61 158.5h2M64 158.5h2M67 158.5h1M61 159.5h1M64 159.5h1M67 159.5h1M59 160.5h1M64 160.5h1M68 160.5h2M59 161.5h2M66 161.5h1M70 161.5h1M59 162.5h1M70 162.5h2M57 163.5h1M69 164.5h2M56 165.5h1M66 165.5h2M69 165.5h1M68 166.5h2M73 166.5h1M68 167.5h2M54 168.5h1M67 168.5h3M66 169.5h1M68 169.5h1M68 170.5h1M64 171.5h1M68 171.5h1M64 172.5h1M66 172.5h1M69 172.5h1M62 173.5h2M60 174.5h1M52 175.5h1"/>
<path stroke="#4cc9a0" stroke-width="1.15" d="M63 158.5h1M63 159.5h1M65 159.5h1M62 160.5h1M65 160.5h1M61 161.5h1M64 161.5h1M58 162.5h1M65 162.5h1M67 162.5h3M58 163.5h1M60 163.5h1M68 163.5h2M57 164.5h2M67 164.5h2M57 165.5h1M68 165.5h1M70 165.5h1M66 166.5h2M55 167.5h1M70 167.5h1M66 168.5h1M54 169.5h1M65 169.5h1M67 169.5h1M67 170.5h1M65 171.5h2M63 172.5h1M65 172.5h1M52 173.5h1M52 174.5h1M58 175.5h1M53 176.5h2"/>
<path stroke="#7fcf52" stroke-width="1.15" d="M62 159.5h1M61 160.5h1M63 160.5h1M62 161.5h2M65 161.5h1M60 162.5h5M66 162.5h1M59 163.5h1M61 163.5h1M64 163.5h4M59 164.5h2M62 164.5h5M61 165.5h5M56 166.5h1M58 166.5h1M63 166.5h3M56 167.5h1M61 167.5h6M55 168.5h1M62 168.5h4M55 169.5h1M61 169.5h4M54 170.5h1M62 170.5h5M53 171.5h1M61 171.5h3M53 172.5h1M62 172.5h1M59 173.5h3M58 174.5h2M56 175.5h2M55 176.5h2"/>
<path stroke="#c4dc3a" stroke-width="1.15" d="M62 163.5h2M61 164.5h1M58 165.5h1M60 165.5h1M57 166.5h1M60 166.5h3M56 168.5h1M61 168.5h1M54 171.5h1M60 171.5h1M60 172.5h2M53 173.5h1M58 173.5h1M53 174.5h1M57 174.5h1M53 175.5h2"/>
<path stroke="#f5c42c" stroke-width="1.15" d="M59 165.5h1M59 166.5h1M57 167.5h1M57 168.5h2M60 168.5h1M60 169.5h1M55 170.5h1M60 170.5h2M59 171.5h1M55 175.5h1"/>
<path stroke="#f37a25" stroke-width="1.15" d="M58 167.5h3M59 168.5h1M56 169.5h1M58 170.5h2M55 171.5h1M58 171.5h1M54 172.5h1M58 172.5h2M54 174.5h1M56 174.5h1"/>
<path stroke="#e4241c" stroke-width="1.15" d="M57 169.5h3M56 170.5h2M56 171.5h2M55 172.5h3M54 173.5h4M55 174.5h1"/>
</g>
<rect x="396.4" y="32" width="229.8" height="229.6" fill="none" stroke="#262626" stroke-width="1.15"/>
<line x1="518.8" y1="32" x2="518.8" y2="261.6" stroke="#000" stroke-width="1.7"/>
<line x1="396.4" y1="142.6" x2="626.2" y2="142.6" stroke="#000" stroke-width="1.7"/>
<path d="M389.8 250.3H396.4M406.7 261.6V267.8" stroke="#262626" stroke-width="1.6" fill="none"/>
<path d="M389.8 209.8H396.4M447.2 261.6V267.8" stroke="#262626" stroke-width="1.6" fill="none"/>
<path d="M389.8 169.4H396.4M487.6 261.6V267.8" stroke="#262626" stroke-width="1.6" fill="none"/>
<path d="M389.8 106.7H396.4M550.3 261.6V267.8" stroke="#262626" stroke-width="1.6" fill="none"/>
<path d="M389.8 53.6H396.4M603.4 261.6V267.8" stroke="#262626" stroke-width="1.6" fill="none"/>
<path d="M393.2 150.5H396.4M506.5 261.6V264.8M393.2 139.5H396.4M517.5 261.6V264.8M393.2 131.7H396.4M525.3 261.6V264.8M393.2 125.6H396.4M531.4 261.6V264.8M393.2 120.6H396.4M536.4 261.6V264.8M393.2 116.4H396.4M540.6 261.6V264.8M393.2 112.8H396.4M544.2 261.6V264.8M393.2 109.6H396.4M547.4 261.6V264.8M393.2 90.7H396.4M566.3 261.6V264.8M393.2 81.4H396.4M575.6 261.6V264.8M393.2 74.7H396.4M582.3 261.6V264.8M393.2 69.6H396.4M587.4 261.6V264.8M393.2 65.4H396.4M591.6 261.6V264.8M393.2 61.8H396.4M595.2 261.6V264.8M393.2 58.7H396.4M598.3 261.6V264.8M393.2 56.0H396.4M601.0 261.6V264.8M393.2 37.6H396.4M619.4 261.6V264.8M393.2 199.5H396.4M457.5 261.6V264.8M393.2 220.1H396.4M436.9 261.6V264.8M393.2 195.6H396.4M461.4 261.6V264.8M393.2 224.0H396.4M433.0 261.6V264.8M393.2 191.0H396.4M466.0 261.6V264.8M393.2 228.6H396.4M428.4 261.6V264.8M392.0 186.1H396.4M470.9 261.6V266.0M392.0 233.5H396.4M423.5 261.6V266.0M393.2 182.0H396.4M475.0 261.6V264.8M393.2 237.6H396.4M419.4 261.6V264.8M393.2 178.0H396.4M479.0 261.6V264.8M393.2 241.6H396.4M415.4 261.6V264.8M393.2 174.7H396.4M482.3 261.6V264.8M393.2 244.9H396.4M412.1 261.6V264.8M393.2 172.0H396.4M485.0 261.6V264.8M393.2 247.6H396.4M409.4 261.6V264.8" stroke="#1c1c1c" stroke-width="1.15" fill="none"/>
<rect x="392.0" y="204.1" width="4.4" height="11.4" fill="#0c0c0c"/>
<path d="M389.6 205.2H396.4M390.4 208.6H396.4M389.6 214.3H396.4" stroke="#0c0c0c" stroke-width="2.2" fill="none"/>
<rect x="441.5" y="261.6" width="10.8" height="3.6" fill="#0c0c0c"/>
<path d="M442.5 261.6V267.4M446.7 261.6V266.6M451.2 261.6V267.4" stroke="#0c0c0c" stroke-width="2.2" fill="none"/>
<text class="a" font-size="8.6" text-anchor="end" fill="#1e1e1e" x="379.4" y="255.7">-10</text>
<text class="a" font-size="8.6" fill="#1e1e1e" x="380.1" y="249.3">3</text>
<text class="a" font-size="8.6" text-anchor="end" fill="#1e1e1e" x="414.3" y="288.2">-10</text>
<text class="a" font-size="8.6" fill="#1e1e1e" x="415.0" y="281.4">3</text>
<text class="a" font-size="8.6" text-anchor="end" fill="#1e1e1e" x="379.8" y="212.7">0</text>
<text class="a" font-size="8.6" text-anchor="middle" fill="#1e1e1e" x="447.6" y="288.2">0</text>
<text class="a" font-size="8.6" text-anchor="end" fill="#1e1e1e" x="379.4" y="174.8">10</text>
<text class="a" font-size="8.6" fill="#1e1e1e" x="380.1" y="168.4">3</text>
<text class="a" font-size="8.6" text-anchor="end" fill="#1e1e1e" x="493.4" y="288.2">10</text>
<text class="a" font-size="8.6" fill="#1e1e1e" x="494.1" y="281.4">3</text>
<text class="a" font-size="8.6" text-anchor="end" fill="#1e1e1e" x="379.4" y="112.1">10</text>
<text class="a" font-size="8.6" fill="#1e1e1e" x="380.1" y="105.7">4</text>
<text class="a" font-size="8.6" text-anchor="end" fill="#1e1e1e" x="556.1" y="288.2">10</text>
<text class="a" font-size="8.6" fill="#1e1e1e" x="556.8" y="281.4">4</text>
<text class="a" font-size="8.6" text-anchor="end" fill="#1e1e1e" x="379.4" y="59.0">10</text>
<text class="a" font-size="8.6" fill="#1e1e1e" x="380.1" y="52.6">5</text>
<text class="a" font-size="8.6" text-anchor="end" fill="#1e1e1e" x="609.2" y="288.2">10</text>
<text class="a" font-size="8.6" fill="#1e1e1e" x="609.9" y="281.4">5</text>
<text class="a" font-size="10.5" fill="#2a2a2a" textLength="117.5" lengthAdjust="spacingAndGlyphs" x="451.1" y="307.8">Comp-Annexin V-FITC-A</text>
<text class="a" font-size="10.5" text-anchor="middle" fill="#2a2a2a" textLength="53" lengthAdjust="spacingAndGlyphs" transform="translate(361.8 146) rotate(-90)">Comp-PI-A</text>
<text class="a" font-size="11.2" fill="#333" textLength="13.2" lengthAdjust="spacingAndGlyphs" x="400.7" y="51.8">Q1</text>
<text class="a" font-size="11.2" fill="#333" textLength="19.3" lengthAdjust="spacingAndGlyphs" x="400.7" y="68.4">0.12</text>
<text class="a" font-size="11.2" text-anchor="end" fill="#333" textLength="13.2" lengthAdjust="spacingAndGlyphs" x="605.7" y="51.8">Q2</text>
<text class="a" font-size="11.2" text-anchor="end" fill="#333" textLength="19.3" lengthAdjust="spacingAndGlyphs" x="605.7" y="68.4">3.10</text>
<text class="a" font-size="11.2" text-anchor="end" fill="#333" textLength="13.2" lengthAdjust="spacingAndGlyphs" x="605.7" y="232.4">Q3</text>
<text class="a" font-size="11.2" text-anchor="end" fill="#333" textLength="19.3" lengthAdjust="spacingAndGlyphs" x="605.7" y="248.8">0.64</text>
<text class="a" font-size="11.2" fill="#333" textLength="13.2" lengthAdjust="spacingAndGlyphs" x="400.7" y="232.4">Q4</text>
<text class="a" font-size="11.2" fill="#333" textLength="19.3" lengthAdjust="spacingAndGlyphs" x="400.7" y="248.8">96.1</text>
<text class="b" font-size="19" textLength="62.0" lengthAdjust="spacingAndGlyphs" x="491.7" y="21.2">Control</text>
<g transform="translate(691.6 29.1)" fill="none">
<path stroke="#27348f" stroke-width="1.3" opacity="0.72" d="M101.2 119.4h1.3M75.3 149.0h1.3M79.2 181.6h1.3M79.2 141.6h1.3M74.5 147.8h1.3M99.4 129.3h1.3M72.5 180.1h1.3M79.8 138.6h1.3M68.9 138.0h1.3M84.1 176.5h1.3M93.8 185.9h1.3M63.3 140.3h1.3M93.2 148.1h1.3M103.9 156.4h1.3M105.5 146.6h1.3M74.2 178.6h1.3M58.2 157.7h1.3M63.2 153.9h1.3M77.3 142.8h1.3M106.9 155.5h1.3M64.3 152.7h1.3M99.7 180.2h1.3M86.0 182.1h1.3M67.5 177.3h1.3M85.6 110.4h1.3M94.6 133.4h1.3M100.0 115.9h1.3M98.2 148.1h1.3M101.7 177.2h1.3M95.4 143.7h1.3M88.6 146.3h1.3M81.6 130.9h1.3M96.1 180.2h1.3M72.8 138.2h1.3M66.7 181.2h1.3M101.1 141.0h1.3M94.8 120.4h1.3M71.3 143.7h1.3M109.1 163.9h1.3M91.3 125.5h1.3M79.2 179.4h1.3M75.5 179.4h1.3M79.5 125.6h1.3M64.8 148.1h1.3M61.9 155.9h1.3M61.9 147.1h1.3M105.3 157.8h1.3M116.3 151.1h1.3M98.7 174.8h1.3M87.9 132.6h1.3M95.6 153.6h1.3M88.6 176.0h1.3M63.5 141.4h1.3M81.0 141.1h1.3M71.6 143.5h1.3M70.4 146.4h1.3M92.8 141.4h1.3M101.7 185.0h1.3M64.6 147.2h1.3M67.2 131.9h1.3M72.8 146.7h1.3M97.6 169.8h1.3M81.2 141.7h1.3M90.1 129.6h1.3M100.0 164.6h1.3M85.6 146.3h1.3M77.4 146.6h1.3M81.2 129.4h1.3M94.4 127.1h1.3M94.5 179.1h1.3M71.2 178.9h1.3M88.1 143.7h1.3M89.4 140.6h1.3M64.5 154.3h1.3M89.1 178.2h1.3M106.0 157.6h1.3M98.7 142.4h1.3M97.0 182.6h1.3M107.4 176.4h1.3M64.7 153.5h1.3M91.8 125.4h1.3M93.7 180.2h1.3M63.4 144.7h1.3M103.2 144.1h1.3M99.7 147.5h1.3M73.8 146.6h1.3M79.3 147.6h1.3M104.9 184.1h1.3M75.6 178.1h1.3M82.6 139.0h1.3M120.4 158.8h1.3M73.2 149.3h1.3M60.0 153.8h1.3M106.7 149.2h1.3M114.9 170.1h1.3M95.7 148.4h1.3M94.4 174.6h1.3M81.8 145.7h1.3M89.4 147.6h1.3M83.9 130.0h1.3M84.4 180.8h1.3M74.1 177.3h1.3M104.3 166.3h1.3M68.8 177.4h1.3M61.4 177.0h1.3M73.4 149.9h1.3M65.7 152.7h1.3M84.9 143.2h1.3M105.8 181.2h1.3M93.8 126.0h1.3M60.7 155.7h1.3M81.4 141.8h1.3M89.6 138.9h1.3M78.9 144.8h1.3M78.0 130.1h1.3M107.4 145.7h1.3M81.6 177.0h1.3M90.1 137.7h1.3M80.1 175.0h1.3M93.0 132.8h1.3M86.9 127.9h1.3M95.5 144.1h1.3M91.0 142.9h1.3M93.3 173.4h1.3M77.3 144.5h1.3M87.6 119.5h1.3M79.5 144.9h1.3M110.6 153.4h1.3M101.4 166.5h1.3M90.9 143.9h1.3M97.6 174.9h1.3M90.5 147.9h1.3M100.8 145.1h1.3M117.2 161.8h1.3M86.1 139.0h1.3M78.3 144.9h1.3M118.5 139.0h1.3M105.5 139.5h1.3M100.9 152.7h1.3M118.2 123.8h1.3M79.8 145.7h1.3M98.9 142.0h1.3M93.7 171.7h1.3M108.0 170.8h1.3M108.8 148.6h1.3M115.9 162.0h1.3M124.4 173.0h1.3M107.2 154.9h1.3M113.9 172.6h1.3M103.3 165.0h1.3M106.0 117.5h1.3M114.1 154.2h1.3M105.3 166.1h1.3M100.9 139.8h1.3M104.0 154.9h1.3M107.3 152.9h1.3M94.3 152.8h1.3M109.9 175.1h1.3M102.9 150.9h1.3M102.8 164.2h1.3M100.4 145.4h1.3M105.3 127.3h1.3M102.4 167.8h1.3M98.3 153.4h1.3M93.1 145.6h1.3M103.6 140.3h1.3M86.5 142.7h1.3M117.0 149.2h1.3M127.5 158.3h1.3M119.5 143.9h1.3M116.9 162.7h1.3M122.5 151.1h1.3M102.0 135.5h1.3M106.5 151.3h1.3M98.1 144.9h1.3M99.0 140.1h1.3M100.7 154.0h1.3M96.7 139.6h1.3M114.7 171.3h1.3M101.8 172.8h1.3M137.9 150.5h1.3M113.7 151.9h1.3M101.7 154.0h1.3M110.0 164.8h1.3M104.5 145.9h1.3M102.2 150.9h1.3M121.0 157.3h1.3M87.1 144.1h1.3M102.4 146.4h1.3M93.8 144.8h1.3M98.4 147.0h1.3M143.6 168.9h1.3M91.1 144.1h1.3M102.2 144.4h1.3M100.6 173.1h1.3M120.8 151.6h1.3M89.6 137.7h1.3M118.3 153.7h1.3M85.8 149.6h1.3M84.6 148.1h1.3M102.4 152.6h1.3M85.7 141.7h1.3M99.1 138.0h1.3M89.4 138.9h1.3M129.5 151.9h1.3M108.5 172.0h1.3M103.0 154.9h1.3M92.1 146.6h1.3M105.8 143.0h1.3M110.8 151.9h1.3M87.7 131.9h1.3M109.0 156.1h1.3M122.6 146.3h1.3M115.7 119.5h1.3M103.1 168.0h1.3M109.9 129.4h1.3M105.0 147.9h1.3M79.3 147.8h1.3M103.0 159.7h1.3M108.1 134.2h1.3M95.7 142.2h1.3M114.4 173.4h1.3M110.5 151.3h1.3M98.2 163.7h1.3M96.8 131.8h1.3M119.1 143.8h1.3M118.7 164.4h1.3M95.5 149.3h1.3M117.7 147.6h1.3M91.2 149.3h1.3M133.0 171.8h1.3M111.6 142.2h1.3M108.1 141.9h1.3M95.4 170.9h1.3M99.6 157.2h1.3M106.5 139.5h1.3M113.6 138.2h1.3M115.4 171.2h1.3M127.9 161.8h1.3M151.3 136.2h1.3M104.8 158.7h1.3M110.5 145.1h1.3M99.5 128.6h1.3M113.6 164.4h1.3M99.8 159.2h1.3M118.3 165.1h1.3M110.3 151.8h1.3M108.3 151.9h1.3M95.3 152.8h1.3M75.1 148.9h1.3M106.0 175.5h1.3M96.7 130.4h1.3M121.7 160.2h1.3M104.6 120.4h1.3M104.1 149.8h1.3M121.7 147.7h1.3M101.1 147.2h1.3M113.6 141.2h1.3M106.3 143.2h1.3M96.1 136.2h1.3M105.3 165.9h1.3M98.3 133.6h1.3M88.1 143.6h1.3M126.0 132.2h1.3M110.5 129.0h1.3M91.9 148.1h1.3M101.1 160.3h1.3M108.7 157.4h1.3M96.7 131.8h1.3M98.5 148.7h1.3M106.6 167.3h1.3M123.9 146.2h1.3M104.3 159.7h1.3M101.3 140.7h1.3M102.1 142.8h1.3M100.9 169.5h1.3M106.3 152.5h1.3M107.4 165.4h1.3M106.7 156.4h1.3M95.1 134.4h1.3M121.0 159.8h1.3M123.9 166.1h1.3M88.7 174.9h1.3M113.1 174.3h1.3M96.7 150.1h1.3M97.8 175.7h1.3M129.5 131.3h1.3M104.2 172.9h1.3M109.8 148.1h1.3M133.0 169.9h1.3M104.0 155.4h1.3M110.8 170.8h1.3M138.0 149.0h1.3M105.8 153.9h1.3M112.1 163.4h1.3M126.6 165.6h1.3M126.3 151.8h1.3M111.6 135.1h1.3M107.0 149.2h1.3M147.2 169.0h1.3M107.0 156.2h1.3M98.9 171.8h1.3M119.5 152.2h1.3M104.4 155.7h1.3M107.4 163.8h1.3M96.5 173.9h1.3M92.6 174.4h1.3M100.4 158.3h1.3M111.8 167.4h1.3M110.3 154.2h1.3M119.1 166.2h1.3M124.9 130.2h1.3M108.0 157.2h1.3M100.4 155.9h1.3M109.5 159.3h1.3M96.4 174.1h1.3M128.6 138.8h1.3M97.6 153.8h1.3M123.3 157.0h1.3M89.9 174.9h1.3M115.8 138.0h1.3M114.8 171.9h1.3M106.3 172.1h1.3M108.4 156.4h1.3M111.0 160.4h1.3M123.3 143.5h1.3M108.0 145.4h1.3M96.6 148.2h1.3M115.8 162.0h1.3M122.3 141.2h1.3M117.9 158.2h1.3M96.5 171.1h1.3M109.4 167.9h1.3M108.3 160.8h1.3M127.5 128.2h1.3M115.6 165.7h1.3M110.5 149.5h1.3M115.4 170.7h1.3M105.5 172.0h1.3M104.3 169.8h1.3M112.7 150.5h1.3M113.0 162.2h1.3M104.3 172.7h1.3M103.5 144.6h1.3M114.8 169.9h1.3M120.7 153.4h1.3M170.8 166.1h1.3M107.6 145.3h1.3M105.2 169.4h1.3M113.2 152.7h1.3M140.3 121.6h1.3M102.4 167.8h1.3M136.1 130.3h1.3M102.5 166.9h1.3M116.2 163.4h1.3M176.7 64.7h1.3M144.6 70.5h1.3M192.0 74.6h1.3M187.3 69.7h1.3M175.0 70.5h1.3M177.9 83.8h1.3M166.3 92.5h1.3M195.3 72.4h1.3M169.1 79.5h1.3M193.1 81.8h1.3M180.3 59.6h1.3M190.4 65.7h1.3M139.4 58.7h1.3M148.8 78.2h1.3M166.4 80.4h1.3M154.4 73.4h1.3M150.0 50.2h1.3M173.6 65.7h1.3M189.1 57.7h1.3M172.1 77.7h1.3M139.9 51.5h1.3M152.4 73.4h1.3M186.7 64.9h1.3M138.6 87.4h1.3M186.7 73.8h1.3M117.0 66.0h1.3M149.1 59.4h1.3M187.2 67.9h1.3M169.6 60.7h1.3M186.9 59.6h1.3M161.8 76.0h1.3M171.9 58.9h1.3M197.3 59.8h1.3M203.3 65.6h1.3M187.3 63.0h1.3M175.0 49.7h1.3M149.4 52.6h1.3M164.1 67.5h1.3M208.8 86.3h1.3M141.3 74.0h1.3M131.1 62.4h1.3M201.1 84.2h1.3M194.7 74.5h1.3M188.6 75.3h1.3M142.5 79.0h1.3M171.9 79.0h1.3M176.7 78.8h1.3M180.0 79.3h1.3M122.8 52.7h1.3M190.7 75.4h1.3M187.0 49.3h1.3M186.5 64.6h1.3M170.9 57.0h1.3M158.5 71.6h1.3M169.4 74.2h1.3M156.4 77.3h1.3M204.0 55.9h1.3M152.7 58.1h1.3M156.3 76.2h1.3M170.2 55.8h1.3M123.6 77.3h1.3M156.5 66.2h1.3M173.6 57.7h1.3M158.2 53.7h1.3M181.0 57.3h1.3M203.2 65.3h1.3M165.2 50.5h1.3M140.8 56.9h1.3M194.3 71.3h1.3M168.3 60.6h1.3M128.7 58.4h1.3M200.0 56.8h1.3M171.4 74.6h1.3M195.4 63.6h1.3M155.2 60.8h1.3M178.5 80.2h1.3M143.7 37.4h1.3M132.8 63.5h1.3M194.8 63.3h1.3M171.9 49.1h1.3M156.9 72.9h1.3M203.8 77.0h1.3M174.5 54.6h1.3M158.3 79.7h1.3M183.1 74.9h1.3M180.3 77.4h1.3M128.8 45.0h1.3M159.5 61.2h1.3M157.9 67.2h1.3M157.5 65.5h1.3M173.5 74.0h1.3M161.7 74.7h1.3M183.5 61.0h1.3M144.1 59.4h1.3M185.1 75.1h1.3M135.7 67.7h1.3M145.2 63.5h1.3M169.6 56.5h1.3M160.4 85.1h1.3M137.6 50.4h1.3M212.7 73.1h1.3M151.7 56.3h1.3M188.3 63.1h1.3M149.7 62.8h1.3M149.9 60.8h1.3M204.3 76.6h1.3M151.4 73.4h1.3M137.5 68.8h1.3M164.5 60.4h1.3M144.6 64.6h1.3M151.2 81.3h1.3M190.1 71.4h1.3M167.7 81.1h1.3M184.4 67.5h1.3M132.7 52.0h1.3M164.4 72.1h1.3M193.4 76.6h1.3M156.4 60.0h1.3M182.6 65.1h1.3M171.0 54.4h1.3M187.5 54.5h1.3M136.9 59.2h1.3M185.7 71.5h1.3M137.2 60.2h1.3M177.7 55.5h1.3M158.4 71.3h1.3M152.1 69.5h1.3M164.6 63.9h1.3M179.7 77.1h1.3M155.1 45.0h1.3M161.0 70.6h1.3M144.6 53.9h1.3M174.2 75.7h1.3M155.7 77.1h1.3M141.1 69.3h1.3M138.7 56.4h1.3M139.6 57.1h1.3M179.9 49.4h1.3M152.0 65.6h1.3M165.7 78.7h1.3M128.5 82.7h1.3M182.1 68.8h1.3M184.9 69.2h1.3M166.3 53.9h1.3M176.5 64.8h1.3M153.2 70.5h1.3M169.5 77.2h1.3M148.0 53.4h1.3M173.9 53.6h1.3M171.9 80.2h1.3M157.2 71.4h1.3M177.9 60.8h1.3M182.3 87.2h1.3M167.2 55.9h1.3M132.4 66.7h1.3M159.2 78.7h1.3M177.3 66.5h1.3M136.6 78.0h1.3M166.7 57.1h1.3M159.5 75.6h1.3M179.0 88.5h1.3M169.4 89.9h1.3M176.2 58.8h1.3M158.1 79.7h1.3M174.4 55.2h1.3M164.0 67.9h1.3M188.4 67.9h1.3M142.7 61.9h1.3M140.3 49.8h1.3M177.2 77.9h1.3M144.3 77.5h1.3M176.1 60.8h1.3M153.2 77.7h1.3M165.9 60.3h1.3M145.8 66.9h1.3M138.8 53.8h1.3M174.5 45.2h1.3M179.7 66.6h1.3M189.3 72.1h1.3M105.9 80.7h1.3M182.2 74.9h1.3M174.1 75.9h1.3M162.9 62.1h1.3M159.1 58.7h1.3M137.9 72.8h1.3M167.9 46.4h1.3M171.1 64.2h1.3M156.0 51.5h1.3M196.2 85.2h1.3M148.5 53.1h1.3M169.7 58.4h1.3M147.2 65.9h1.3M160.3 59.0h1.3M207.4 70.5h1.3M189.9 62.5h1.3M193.3 57.1h1.3M160.3 62.9h1.3M121.6 72.6h1.3M143.6 87.6h1.3M152.8 68.7h1.3M153.1 64.8h1.3M156.2 80.4h1.3M156.5 80.7h1.3M159.4 51.4h1.3M182.0 77.2h1.3M193.0 84.4h1.3M190.3 58.7h1.3M176.8 54.1h1.3M181.8 51.4h1.3M151.7 76.5h1.3M177.5 57.3h1.3M150.4 63.9h1.3M195.1 80.4h1.3M161.6 78.3h1.3M174.1 59.4h1.3M169.2 66.7h1.3M158.1 66.0h1.3M170.6 67.5h1.3M140.9 53.2h1.3M134.5 58.6h1.3M181.2 69.1h1.3M146.3 49.5h1.3M159.8 49.2h1.3M182.4 71.5h1.3M150.7 73.3h1.3M175.4 75.2h1.3M129.0 69.5h1.3M158.8 74.0h1.3M140.4 63.9h1.3M137.1 54.1h1.3M182.4 53.8h1.3M190.1 91.7h1.3M169.4 69.4h1.3M172.1 56.3h1.3M145.8 71.4h1.3M163.0 53.5h1.3M164.4 51.5h1.3M174.4 76.1h1.3M145.6 79.9h1.3M200.3 75.5h1.3M186.1 60.6h1.3M160.7 59.7h1.3M163.9 83.3h1.3M165.2 75.2h1.3M163.2 80.1h1.3M145.0 64.4h1.3M163.5 75.6h1.3M137.9 67.7h1.3M178.4 65.9h1.3M189.6 83.4h1.3M151.8 64.3h1.3M162.4 62.6h1.3M201.9 68.7h1.3M177.2 54.4h1.3M177.4 76.5h1.3M166.7 57.9h1.3M127.1 71.8h1.3M178.8 73.1h1.3M177.6 48.9h1.3M161.1 54.1h1.3M139.9 54.3h1.3M151.5 45.8h1.3M169.2 55.6h1.3M187.9 73.1h1.3M163.5 78.4h1.3M140.1 58.6h1.3M155.2 70.9h1.3M184.2 73.7h1.3M150.4 75.8h1.3M146.9 74.4h1.3M180.9 67.4h1.3M193.2 57.2h1.3M200.2 62.8h1.3M179.7 66.0h1.3M140.0 63.1h1.3M138.9 66.5h1.3M176.8 58.4h1.3M139.4 66.2h1.3M181.2 62.2h1.3M168.3 54.6h1.3M144.5 61.0h1.3M143.5 62.3h1.3M160.3 73.1h1.3M161.4 71.5h1.3M167.4 81.5h1.3M129.7 71.7h1.3M136.4 62.9h1.3M179.7 62.6h1.3M137.0 50.5h1.3M130.2 53.6h1.3M148.4 68.5h1.3M164.6 64.3h1.3M209.0 70.8h1.3M200.4 72.0h1.3M139.5 60.1h1.3M159.6 68.9h1.3M161.6 63.9h1.3M158.7 87.8h1.3M142.7 64.2h1.3M167.8 60.6h1.3M156.1 58.3h1.3M182.9 74.2h1.3M168.7 60.5h1.3M173.8 52.5h1.3M157.0 66.6h1.3M171.9 80.7h1.3M211.8 95.5h1.3M186.6 83.0h1.3M157.2 74.5h1.3M174.0 63.0h1.3M146.2 57.7h1.3M159.5 69.3h1.3M154.2 78.3h1.3M152.8 71.3h1.3M180.2 60.5h1.3M204.1 83.0h1.3M145.4 66.8h1.3M161.2 61.3h1.3M159.7 80.1h1.3M181.5 61.0h1.3M149.9 54.9h1.3M144.8 57.2h1.3M174.5 59.6h1.3M154.1 80.0h1.3M144.0 55.3h1.3M166.2 83.0h1.3M155.6 67.4h1.3M148.9 64.2h1.3M164.9 58.2h1.3M196.7 72.9h1.3M152.0 59.3h1.3M174.1 79.9h1.3M171.8 64.7h1.3M167.6 55.6h1.3M177.6 50.3h1.3M155.4 70.5h1.3M120.8 70.7h1.3M147.8 68.2h1.3M185.7 65.9h1.3M203.7 73.1h1.3M165.0 50.1h1.3M191.7 65.6h1.3M147.8 54.6h1.3M200.7 75.3h1.3M191.4 63.3h1.3M193.6 71.1h1.3M182.8 82.0h1.3M186.5 72.1h1.3M143.1 60.2h1.3M148.6 51.1h1.3M171.1 83.0h1.3M193.1 87.2h1.3M129.0 46.9h1.3M143.1 66.3h1.3M136.9 60.1h1.3M188.0 78.5h1.3M188.8 75.0h1.3M190.6 67.1h1.3M176.1 72.5h1.3M176.9 77.2h1.3M156.0 46.6h1.3M192.0 68.5h1.3M172.3 53.3h1.3M165.6 62.8h1.3M150.2 61.8h1.3M170.0 66.9h1.3M151.7 71.4h1.3M195.5 68.7h1.3M175.0 51.9h1.3M163.3 79.1h1.3M195.6 70.1h1.3M149.0 73.7h1.3M169.2 68.1h1.3M148.6 70.9h1.3M144.8 58.0h1.3M176.6 60.4h1.3M158.1 88.2h1.3M153.5 75.9h1.3M178.5 78.0h1.3M137.7 55.6h1.3M156.3 70.3h1.3M186.6 82.3h1.3M174.4 62.9h1.3M217.3 67.4h1.3M147.1 75.4h1.3M154.4 54.4h1.3M141.4 70.5h1.3M172.9 59.8h1.3M180.6 50.5h1.3M200.3 87.9h1.3M174.1 62.2h1.3M150.6 49.4h1.3M192.9 49.7h1.3M155.9 51.8h1.3M176.3 52.3h1.3M190.5 80.7h1.3M157.0 72.8h1.3M164.8 56.2h1.3M157.6 50.5h1.3M125.6 59.0h1.3M180.6 67.1h1.3M153.9 83.4h1.3M144.9 78.1h1.3M159.6 64.5h1.3M137.1 64.3h1.3M192.5 78.5h1.3M167.9 77.7h1.3M122.4 55.1h1.3M191.2 54.8h1.3M184.5 63.7h1.3M162.1 53.7h1.3M161.5 65.1h1.3M134.6 58.7h1.3M150.7 47.3h1.3M183.3 67.3h1.3M151.5 61.5h1.3M191.3 78.4h1.3M177.0 68.3h1.3M165.2 55.8h1.3M182.0 65.6h1.3M163.0 58.3h1.3M164.5 64.5h1.3M198.5 64.0h1.3M154.7 89.0h1.3M155.9 75.0h1.3M172.3 76.7h1.3M177.2 46.4h1.3M178.0 51.6h1.3M147.6 56.2h1.3M155.5 54.2h1.3M156.9 63.5h1.3M156.4 55.5h1.3M171.2 80.4h1.3M166.1 47.6h1.3M188.5 65.7h1.3M147.7 67.8h1.3M152.8 72.5h1.3M182.5 63.3h1.3M153.1 68.6h1.3M149.4 82.0h1.3M148.6 66.9h1.3M181.7 71.8h1.3M192.0 67.8h1.3M184.3 49.1h1.3M166.9 79.2h1.3M153.7 57.8h1.3M163.7 56.9h1.3M193.0 85.7h1.3M176.6 68.8h1.3M145.2 52.8h1.3M172.2 84.5h1.3M151.0 57.2h1.3M171.4 76.2h1.3M192.2 72.4h1.3M178.1 59.9h1.3M176.2 65.0h1.3M149.2 56.9h1.3M185.8 66.5h1.3M182.1 76.8h1.3M179.8 64.2h1.3M149.2 65.2h1.3M157.6 53.7h1.3M150.2 83.8h1.3M175.7 74.0h1.3M179.0 79.2h1.3M183.1 81.2h1.3M181.9 73.3h1.3M180.6 71.0h1.3M168.7 65.9h1.3M126.0 67.6h1.3M155.0 57.1h1.3M167.1 82.6h1.3M140.2 65.8h1.3M163.7 61.9h1.3M167.5 57.9h1.3M138.1 61.7h1.3M165.8 76.1h1.3M161.5 53.8h1.3M145.8 91.4h1.3M118.2 112.6h1.3M155.0 68.7h1.3M126.7 76.7h1.3M112.0 128.2h1.3M125.1 102.1h1.3M139.9 84.5h1.3M106.9 112.8h1.3M137.7 99.2h1.3M124.7 116.1h1.3M138.1 96.9h1.3M121.7 109.3h1.3M146.8 78.1h1.3M121.9 102.5h1.3M157.4 87.1h1.3M95.6 129.9h1.3M142.3 88.9h1.3M141.2 110.3h1.3M129.1 99.4h1.3M121.4 118.5h1.3M112.9 134.5h1.3M125.6 113.8h1.3M124.0 74.0h1.3M129.7 86.6h1.3M115.4 93.7h1.3M129.9 113.3h1.3M112.0 91.9h1.3M150.8 70.9h1.3M126.2 118.2h1.3M129.9 88.0h1.3M151.0 99.1h1.3M142.5 96.5h1.3M128.9 86.2h1.3M118.5 93.5h1.3M135.4 79.6h1.3M105.9 107.7h1.3M113.4 126.9h1.3M116.4 102.8h1.3M107.1 138.8h1.3M117.3 110.7h1.3M139.5 83.3h1.3M115.7 108.9h1.3M116.4 99.2h1.3M143.8 79.3h1.3M139.1 77.3h1.3M114.6 130.8h1.3M119.6 105.1h1.3M131.7 107.5h1.3M120.1 115.7h1.3M116.6 75.6h1.3M116.9 94.5h1.3M142.7 72.4h1.3M112.0 99.9h1.3M141.4 94.6h1.3M111.2 92.0h1.3M153.6 82.6h1.3M106.0 107.7h1.3M150.8 69.1h1.3M117.8 90.0h1.3M120.0 98.4h1.3M103.6 112.2h1.3M107.0 131.7h1.3M113.6 106.0h1.3M136.0 74.5h1.3M122.2 90.2h1.3M138.7 120.5h1.3M117.0 115.5h1.3M125.0 112.6h1.3M139.0 70.4h1.3M109.5 131.6h1.3M103.5 101.6h1.3M99.4 138.2h1.3M136.4 95.3h1.3M154.0 85.1h1.3M127.4 108.9h1.3M98.2 131.5h1.3M130.3 126.2h1.3M119.7 91.2h1.3M138.6 93.4h1.3M116.8 81.8h1.3M89.1 130.0h1.3M152.6 75.9h1.3M127.2 107.0h1.3M148.3 77.7h1.3M98.6 137.5h1.3M134.5 95.8h1.3M136.0 74.9h1.3M106.9 114.2h1.3M133.3 91.2h1.3M152.9 84.7h1.3M156.2 91.7h1.3M114.7 140.3h1.3M130.9 86.4h1.3M147.1 69.4h1.3M122.3 166.0h1.3M128.3 176.2h1.3M131.7 162.5h1.3M132.2 162.2h1.3M169.8 136.3h1.3M126.3 180.6h1.3M136.3 156.0h1.3M178.9 163.7h1.3M130.3 156.6h1.3M142.0 173.4h1.3M120.3 154.2h1.3M138.9 159.0h1.3M123.4 154.8h1.3M136.7 165.4h1.3M136.6 188.6h1.3M173.3 124.1h1.3M125.0 154.8h1.3M193.8 131.0h1.3M120.4 169.1h1.3M153.4 155.8h1.3M161.5 157.2h1.3M145.7 180.5h1.3M154.0 146.0h1.3M135.7 126.9h1.3M138.0 178.8h1.3M122.9 173.8h1.3M128.5 154.1h1.3M124.9 171.6h1.3M164.7 144.9h1.3M133.8 118.1h1.3M144.1 163.1h1.3M117.5 197.8h1.3M158.0 157.1h1.3M122.8 162.4h1.3M121.4 173.2h1.3M221.0 172.2h1.3M150.1 142.5h1.3M128.5 167.7h1.3M152.6 157.1h1.3M147.8 116.3h1.3M132.6 143.2h1.3M124.9 137.9h1.3M160.6 140.3h1.3M160.6 167.3h1.3M128.3 147.6h1.3M161.9 121.9h1.3M128.1 148.5h1.3M118.8 175.2h1.3M133.4 121.6h1.3M132.4 154.0h1.3M142.9 140.4h1.3M132.7 140.8h1.3M207.5 167.2h1.3M139.5 168.3h1.3M204.0 156.2h1.3M152.7 172.1h1.3M123.8 170.6h1.3M132.5 149.3h1.3M140.6 169.0h1.3M126.1 177.7h1.3M130.2 188.9h1.3M149.8 184.7h1.3M162.7 182.1h1.3M156.7 138.0h1.3M158.7 166.0h1.3M136.3 108.6h1.3M155.1 179.4h1.3M128.2 130.3h1.3M121.6 170.1h1.3M138.8 154.6h1.3M164.3 147.0h1.3M135.0 152.4h1.3M170.2 150.6h1.3M151.0 175.2h1.3M152.2 132.0h1.3M177.3 155.5h1.3M166.7 144.1h1.3M168.3 164.3h1.3M115.5 189.4h1.3M182.0 152.1h1.3M142.3 136.7h1.3M157.1 149.6h1.3M149.0 136.5h1.3M163.4 158.9h1.3M125.1 136.3h1.3M135.4 193.1h1.3M152.5 178.4h1.3M121.3 167.3h1.3M157.8 153.2h1.3M148.2 157.9h1.3M116.9 148.9h1.3M163.3 135.1h1.3M121.0 151.4h1.3M123.5 157.8h1.3M158.0 162.3h1.3M148.4 157.2h1.3M141.6 131.7h1.3M120.4 171.1h1.3M163.3 154.5h1.3M162.2 157.3h1.3M125.7 167.1h1.3M128.1 153.6h1.3M152.0 125.1h1.3M119.9 153.6h1.3M134.1 127.3h1.3M146.7 166.3h1.3M154.6 178.6h1.3M158.5 179.5h1.3M214.8 193.7h1.3M150.6 172.9h1.3M132.2 144.2h1.3M145.2 174.7h1.3M124.2 136.0h1.3M140.1 159.6h1.3M153.4 177.5h1.3M125.5 172.0h1.3M152.6 177.6h1.3M152.2 123.0h1.3M115.2 190.9h1.3M148.0 205.1h1.3M134.7 148.1h1.3M119.2 142.4h1.3M131.8 153.7h1.3M120.9 147.6h1.3M126.1 158.1h1.3M171.8 162.0h1.3M127.3 131.0h1.3M129.2 119.1h1.3M132.4 169.1h1.3M155.9 167.4h1.3M124.0 139.5h1.3M121.7 146.0h1.3M119.4 121.8h1.3M125.6 133.5h1.3M139.0 180.6h1.3M116.9 130.2h1.3M178.2 150.9h1.3M133.2 129.6h1.3M141.8 177.8h1.3M161.9 172.6h1.3M134.3 150.2h1.3M191.9 188.3h1.3M135.8 157.4h1.3M126.5 157.8h1.3M116.3 154.2h1.3M128.1 168.8h1.3M122.5 154.8h1.3M143.8 161.3h1.3M141.7 177.4h1.3M125.2 144.9h1.3M208.5 157.2h1.3M132.5 163.1h1.3M158.3 144.5h1.3M147.0 152.7h1.3M138.2 158.3h1.3M168.8 138.9h1.3M128.6 124.1h1.3M160.5 132.4h1.3M126.7 157.2h1.3M137.3 119.5h1.3M126.8 179.4h1.3M116.9 156.3h1.3M133.2 120.2h1.3M116.3 167.8h1.3M138.7 123.5h1.3M130.0 128.1h1.3M154.4 141.6h1.3M150.8 173.5h1.3"/>
<path stroke="#24409c" stroke-width="1.15" d="M162 54.5h1M145 57.5h1M153 58.5h1M158 58.5h1M165 58.5h1M173 58.5h1M158 59.5h1M161 59.5h1M173 59.5h1M181 59.5h1M151 60.5h4M157 60.5h2M161 60.5h1M171 60.5h2M182 60.5h1M158 61.5h1M170 61.5h1M172 61.5h3M142 62.5h1M159 62.5h1M168 62.5h4M141 63.5h2M149 63.5h1M157 63.5h2M165 63.5h3M169 63.5h1M171 63.5h1M179 63.5h2M166 64.5h2M182 64.5h4M150 65.5h1M160 65.5h1M165 65.5h3M169 65.5h1M183 65.5h1M147 66.5h1M150 66.5h1M160 66.5h1M166 66.5h1M168 66.5h1M172 66.5h4M138 67.5h1M143 67.5h2M149 67.5h1M159 67.5h2M167 67.5h1M171 67.5h1M174 67.5h1M179 67.5h1M144 68.5h1M150 68.5h1M160 68.5h2M163 68.5h1M166 68.5h2M171 68.5h1M174 68.5h1M178 68.5h1M143 69.5h3M151 69.5h1M160 69.5h1M162 69.5h1M164 69.5h3M168 69.5h1M172 69.5h1M174 69.5h2M143 70.5h1M161 70.5h3M165 70.5h3M171 70.5h2M154 71.5h1M159 71.5h2M166 71.5h2M171 71.5h2M162 72.5h2M166 72.5h2M172 72.5h1M137 73.5h1M155 73.5h1M165 73.5h2M169 73.5h2M162 74.5h1M165 74.5h1M167 74.5h2M179 74.5h1M187 74.5h1M162 75.5h1M166 75.5h2M178 75.5h1M187 75.5h1M162 76.5h1M167 76.5h2M162 77.5h1M164 78.5h1M180 80.5h2M123 139.5h1M99 141.5h1M103 141.5h1M99 142.5h1M103 142.5h1M85 143.5h2M83 144.5h2M90 144.5h1M82 145.5h1M84 145.5h3M90 145.5h1M102 145.5h1M78 146.5h1M82 146.5h2M86 146.5h1M90 146.5h1M77 147.5h1M80 147.5h4M88 147.5h1M94 147.5h2M98 147.5h1M76 148.5h2M80 148.5h1M78 149.5h2M83 149.5h1M93 149.5h2M97 149.5h1M68 150.5h3M80 150.5h1M84 150.5h2M88 150.5h4M93 150.5h1M97 150.5h1M99 150.5h1M107 150.5h1M66 151.5h3M70 151.5h2M74 151.5h2M80 151.5h2M91 151.5h2M94 151.5h1M99 151.5h1M107 151.5h1M68 152.5h3M73 152.5h2M76 152.5h1M87 152.5h1M92 152.5h1M65 153.5h3M70 153.5h1M76 153.5h1M81 153.5h1M88 153.5h1M94 153.5h1M99 153.5h1M66 154.5h1M68 154.5h1M85 154.5h1M89 154.5h1M91 154.5h1M93 154.5h1M96 154.5h1M66 155.5h2M94 155.5h2M102 155.5h1M64 156.5h1M92 156.5h1M96 156.5h2M101 156.5h1M60 157.5h3M96 157.5h3M101 157.5h2M61 158.5h1M93 158.5h1M96 158.5h1M102 158.5h1M95 159.5h2M98 159.5h1M107 159.5h1M60 160.5h2M96 160.5h2M99 160.5h1M105 160.5h3M59 161.5h1M96 161.5h1M98 161.5h1M100 161.5h5M107 161.5h1M58 162.5h1M94 162.5h2M98 162.5h2M101 162.5h1M103 162.5h4M93 163.5h1M97 163.5h1M99 163.5h1M103 163.5h1M57 164.5h1M97 164.5h2M97 165.5h1M99 166.5h2M97 167.5h4M94 168.5h1M99 168.5h2M92 169.5h2M95 169.5h1M98 169.5h1M92 170.5h1M104 171.5h1M88 172.5h5M95 172.5h1M86 173.5h2M79 174.5h1M82 174.5h3M93 174.5h1M65 175.5h1M70 175.5h1M72 175.5h1M76 175.5h2M79 175.5h1M59 176.5h2M66 176.5h2M70 176.5h1M77 176.5h1M70 177.5h4"/>
<path stroke="#2860b8" stroke-width="1.15" d="M168 63.5h1M173 67.5h1M173 68.5h1M168 70.5h1M168 71.5h2M171 72.5h1M166 74.5h1M86 144.5h1M83 145.5h1M82 148.5h1M87 148.5h2M82 149.5h1M88 149.5h1M77 150.5h3M82 150.5h2M86 150.5h2M78 151.5h1M83 151.5h2M86 151.5h5M66 152.5h2M71 152.5h2M75 152.5h1M78 152.5h3M82 152.5h2M88 152.5h3M71 153.5h5M77 153.5h2M82 153.5h2M86 153.5h1M91 153.5h1M69 154.5h2M76 154.5h1M78 154.5h1M87 154.5h2M68 155.5h3M78 155.5h1M86 155.5h1M91 155.5h1M93 155.5h1M67 156.5h2M76 156.5h1M94 156.5h2M63 157.5h1M66 157.5h3M92 157.5h2M95 157.5h1M62 158.5h1M65 158.5h2M84 158.5h1M87 158.5h1M92 158.5h1M94 158.5h1M97 158.5h1M61 159.5h2M64 159.5h1M85 159.5h1M91 159.5h4M87 160.5h1M90 160.5h2M94 160.5h1M91 161.5h3M92 162.5h1M96 162.5h1M58 163.5h2M95 163.5h2M87 164.5h2M90 164.5h3M96 164.5h1M57 165.5h1M87 165.5h1M90 165.5h1M92 165.5h1M96 165.5h1M88 166.5h3M92 166.5h5M88 167.5h1M90 167.5h2M93 167.5h4M87 168.5h1M91 168.5h2M95 168.5h1M89 169.5h1M91 169.5h1M53 170.5h1M86 170.5h3M90 170.5h2M85 171.5h3M89 171.5h1M91 171.5h1M82 172.5h1M84 172.5h1M87 172.5h1M77 173.5h1M79 173.5h1M81 173.5h1M84 173.5h2M71 174.5h1M78 174.5h1M60 175.5h1M63 175.5h2M66 175.5h2M73 175.5h2M78 175.5h1M69 176.5h1"/>
<path stroke="#2c8fd2" stroke-width="1.15" d="M87 149.5h1M76 151.5h1M85 151.5h1M81 152.5h1M84 152.5h3M91 152.5h1M79 153.5h2M84 153.5h2M87 153.5h1M92 153.5h1M71 154.5h5M77 154.5h1M79 154.5h6M86 154.5h1M71 155.5h2M74 155.5h3M80 155.5h4M85 155.5h1M87 155.5h1M70 156.5h2M80 156.5h1M82 156.5h1M85 156.5h2M88 156.5h1M90 156.5h2M93 156.5h1M64 157.5h1M71 157.5h2M85 157.5h3M89 157.5h2M64 158.5h1M69 158.5h1M86 158.5h1M88 158.5h4M63 159.5h1M65 159.5h2M81 159.5h1M83 159.5h1M86 159.5h5M62 160.5h2M88 160.5h2M92 160.5h2M61 161.5h2M85 161.5h5M59 162.5h2M85 162.5h7M84 163.5h1M86 163.5h1M88 163.5h5M58 164.5h1M85 164.5h1M89 164.5h1M93 164.5h3M58 165.5h1M85 165.5h2M88 165.5h2M93 165.5h3M86 166.5h1M91 166.5h1M56 167.5h1M86 167.5h1M89 167.5h1M55 168.5h1M85 168.5h1M88 168.5h2M86 169.5h3M90 169.5h1M80 170.5h2M83 170.5h1M85 170.5h1M89 170.5h1M80 171.5h1M83 171.5h2M77 172.5h3M81 172.5h1M83 172.5h1M86 172.5h1M53 173.5h1M70 173.5h1M76 173.5h1M78 173.5h1M80 173.5h1M82 173.5h2M66 174.5h1M68 174.5h2M72 174.5h5M59 175.5h1M69 175.5h1M75 175.5h1"/>
<path stroke="#38bcd6" stroke-width="1.15" d="M73 155.5h1M77 155.5h1M79 155.5h1M84 155.5h1M69 156.5h1M73 156.5h2M78 156.5h2M81 156.5h1M83 156.5h2M87 156.5h1M69 157.5h1M76 157.5h1M78 157.5h6M88 157.5h1M68 158.5h1M79 158.5h5M85 158.5h1M67 159.5h1M78 159.5h1M80 159.5h1M82 159.5h1M84 159.5h1M64 160.5h3M76 160.5h3M80 160.5h2M84 160.5h2M76 161.5h1M80 161.5h4M61 162.5h1M83 162.5h2M85 163.5h1M82 164.5h3M86 164.5h1M84 165.5h1M57 166.5h1M82 166.5h1M85 166.5h1M87 166.5h1M85 167.5h1M81 168.5h1M86 168.5h1M75 169.5h1M83 169.5h1M85 169.5h1M82 170.5h1M53 171.5h1M78 171.5h1M81 171.5h2M70 172.5h7M65 173.5h1M67 173.5h2M72 173.5h4M61 174.5h1M63 174.5h2"/>
<path stroke="#4cc9a0" stroke-width="1.15" d="M72 156.5h1M75 156.5h1M70 157.5h1M73 157.5h1M75 157.5h1M77 157.5h1M84 157.5h1M70 158.5h1M72 158.5h2M76 158.5h3M70 159.5h2M76 159.5h2M79 159.5h1M68 160.5h1M70 160.5h1M79 160.5h1M82 160.5h2M63 161.5h1M65 161.5h2M70 161.5h1M72 161.5h1M77 161.5h2M84 161.5h1M62 162.5h2M76 162.5h1M82 162.5h1M60 163.5h2M74 163.5h1M77 163.5h1M80 163.5h1M82 163.5h2M59 164.5h2M80 164.5h1M59 165.5h1M77 165.5h2M80 165.5h1M82 165.5h2M58 166.5h1M81 166.5h1M84 166.5h1M57 167.5h1M80 167.5h5M56 168.5h1M77 168.5h4M82 168.5h3M77 169.5h5M84 169.5h1M75 170.5h1M77 170.5h1M79 170.5h1M70 171.5h2M74 171.5h1M76 171.5h2M79 171.5h1M66 173.5h1M69 173.5h1M71 173.5h1M55 174.5h1M57 174.5h1M59 174.5h1M62 174.5h1M65 174.5h1"/>
<path stroke="#7fcf52" stroke-width="1.15" d="M74 157.5h1M71 158.5h1M74 158.5h2M68 159.5h2M72 159.5h4M67 160.5h1M69 160.5h1M71 160.5h5M64 161.5h1M67 161.5h3M71 161.5h1M73 161.5h3M79 161.5h1M64 162.5h5M70 162.5h6M77 162.5h5M62 163.5h3M68 163.5h1M71 163.5h3M75 163.5h2M78 163.5h2M81 163.5h1M61 164.5h2M72 164.5h3M76 164.5h4M81 164.5h1M60 165.5h2M68 165.5h1M70 165.5h1M73 165.5h1M75 165.5h2M79 165.5h1M81 165.5h1M59 166.5h1M73 166.5h1M76 166.5h5M83 166.5h1M58 167.5h1M75 167.5h5M71 168.5h6M55 169.5h2M70 169.5h5M76 169.5h1M82 169.5h1M54 170.5h1M69 170.5h1M73 170.5h2M76 170.5h1M78 170.5h1M54 171.5h1M68 171.5h2M72 171.5h2M75 171.5h1M66 172.5h4M60 173.5h1M62 173.5h3M56 174.5h1M58 174.5h1M60 174.5h1"/>
<path stroke="#c4dc3a" stroke-width="1.15" d="M69 162.5h1M65 163.5h3M70 163.5h1M65 164.5h1M67 164.5h3M71 164.5h1M75 164.5h1M65 165.5h1M71 165.5h2M74 165.5h1M60 166.5h1M63 166.5h1M69 166.5h1M71 166.5h2M75 166.5h1M68 167.5h1M70 167.5h5M57 168.5h2M67 169.5h1M69 169.5h1M55 170.5h1M70 170.5h3M67 171.5h1M54 172.5h1M64 172.5h2M54 173.5h2M59 173.5h1M61 173.5h1"/>
<path stroke="#f5c42c" stroke-width="1.15" d="M69 163.5h1M63 164.5h2M66 164.5h1M70 164.5h1M62 165.5h1M64 165.5h1M66 165.5h1M61 166.5h2M65 166.5h2M68 166.5h1M70 166.5h1M74 166.5h1M59 167.5h2M67 167.5h1M69 167.5h1M59 168.5h1M66 168.5h2M69 168.5h2M66 169.5h1M66 170.5h1M68 170.5h1M63 171.5h1M65 171.5h1M62 172.5h2M56 173.5h1M58 173.5h1"/>
<path stroke="#f37a25" stroke-width="1.15" d="M63 165.5h1M67 165.5h1M69 165.5h1M64 166.5h1M67 166.5h1M61 167.5h5M60 168.5h1M62 168.5h2M68 168.5h1M57 169.5h1M59 169.5h1M68 169.5h1M56 170.5h1M62 170.5h1M64 170.5h2M67 170.5h1M55 171.5h2M62 171.5h1M64 171.5h1M66 171.5h1M55 172.5h1M57 173.5h1"/>
<path stroke="#e4241c" stroke-width="1.15" d="M66 167.5h1M61 168.5h1M64 168.5h2M58 169.5h1M60 169.5h6M57 170.5h5M63 170.5h1M57 171.5h5M56 172.5h6"/>
</g>
<rect x="691.6" y="29.1" width="229.8" height="229.6" fill="none" stroke="#262626" stroke-width="1.15"/>
<line x1="814.0" y1="29.1" x2="814.0" y2="258.7" stroke="#000" stroke-width="1.7"/>
<line x1="691.6" y1="139.7" x2="921.4000000000001" y2="139.7" stroke="#000" stroke-width="1.7"/>
<path d="M685.0 247.4H691.6M701.9 258.7V264.9" stroke="#262626" stroke-width="1.6" fill="none"/>
<path d="M685.0 206.9H691.6M742.4 258.7V264.9" stroke="#262626" stroke-width="1.6" fill="none"/>
<path d="M685.0 166.5H691.6M782.8 258.7V264.9" stroke="#262626" stroke-width="1.6" fill="none"/>
<path d="M685.0 103.8H691.6M845.5 258.7V264.9" stroke="#262626" stroke-width="1.6" fill="none"/>
<path d="M685.0 50.7H691.6M898.6 258.7V264.9" stroke="#262626" stroke-width="1.6" fill="none"/>
<path d="M688.4 147.6H691.6M801.7 258.7V261.9M688.4 136.6H691.6M812.7 258.7V261.9M688.4 128.8H691.6M820.5 258.7V261.9M688.4 122.7H691.6M826.6 258.7V261.9M688.4 117.7H691.6M831.6 258.7V261.9M688.4 113.5H691.6M835.8 258.7V261.9M688.4 109.9H691.6M839.4 258.7V261.9M688.4 106.7H691.6M842.6 258.7V261.9M688.4 87.8H691.6M861.5 258.7V261.9M688.4 78.5H691.6M870.8 258.7V261.9M688.4 71.8H691.6M877.5 258.7V261.9M688.4 66.7H691.6M882.6 258.7V261.9M688.4 62.5H691.6M886.8 258.7V261.9M688.4 58.9H691.6M890.4 258.7V261.9M688.4 55.8H691.6M893.5 258.7V261.9M688.4 53.1H691.6M896.2 258.7V261.9M688.4 34.7H691.6M914.6 258.7V261.9M688.4 196.6H691.6M752.7 258.7V261.9M688.4 217.2H691.6M732.1 258.7V261.9M688.4 192.7H691.6M756.6 258.7V261.9M688.4 221.1H691.6M728.2 258.7V261.9M688.4 188.1H691.6M761.2 258.7V261.9M688.4 225.7H691.6M723.6 258.7V261.9M687.2 183.2H691.6M766.1 258.7V263.1M687.2 230.6H691.6M718.7 258.7V263.1M688.4 179.1H691.6M770.2 258.7V261.9M688.4 234.7H691.6M714.6 258.7V261.9M688.4 175.1H691.6M774.2 258.7V261.9M688.4 238.7H691.6M710.6 258.7V261.9M688.4 171.8H691.6M777.5 258.7V261.9M688.4 242.0H691.6M707.3 258.7V261.9M688.4 169.1H691.6M780.2 258.7V261.9M688.4 244.7H691.6M704.6 258.7V261.9" stroke="#1c1c1c" stroke-width="1.15" fill="none"/>
<rect x="687.2" y="201.2" width="4.4" height="11.4" fill="#0c0c0c"/>
<path d="M684.8 202.3H691.6M685.6 205.7H691.6M684.8 211.4H691.6" stroke="#0c0c0c" stroke-width="2.2" fill="none"/>
<rect x="736.7" y="258.7" width="10.8" height="3.6" fill="#0c0c0c"/>
<path d="M737.7 258.7V264.5M741.9 258.7V263.7M746.4 258.7V264.5" stroke="#0c0c0c" stroke-width="2.2" fill="none"/>
<text class="a" font-size="8.6" text-anchor="end" fill="#1e1e1e" x="674.6" y="252.8">-10</text>
<text class="a" font-size="8.6" fill="#1e1e1e" x="675.3" y="246.4">3</text>
<text class="a" font-size="8.6" text-anchor="end" fill="#1e1e1e" x="709.5" y="285.3">-10</text>
<text class="a" font-size="8.6" fill="#1e1e1e" x="710.2" y="278.5">3</text>
<text class="a" font-size="8.6" text-anchor="end" fill="#1e1e1e" x="675.0" y="209.8">0</text>
<text class="a" font-size="8.6" text-anchor="middle" fill="#1e1e1e" x="742.8" y="285.3">0</text>
<text class="a" font-size="8.6" text-anchor="end" fill="#1e1e1e" x="674.6" y="171.9">10</text>
<text class="a" font-size="8.6" fill="#1e1e1e" x="675.3" y="165.5">3</text>
<text class="a" font-size="8.6" text-anchor="end" fill="#1e1e1e" x="788.6" y="285.3">10</text>
<text class="a" font-size="8.6" fill="#1e1e1e" x="789.3" y="278.5">3</text>
<text class="a" font-size="8.6" text-anchor="end" fill="#1e1e1e" x="674.6" y="109.2">10</text>
<text class="a" font-size="8.6" fill="#1e1e1e" x="675.3" y="102.8">4</text>
<text class="a" font-size="8.6" text-anchor="end" fill="#1e1e1e" x="851.3" y="285.3">10</text>
<text class="a" font-size="8.6" fill="#1e1e1e" x="852.0" y="278.5">4</text>
<text class="a" font-size="8.6" text-anchor="end" fill="#1e1e1e" x="674.6" y="56.1">10</text>
<text class="a" font-size="8.6" fill="#1e1e1e" x="675.3" y="49.7">5</text>
<text class="a" font-size="8.6" text-anchor="end" fill="#1e1e1e" x="904.4" y="285.3">10</text>
<text class="a" font-size="8.6" fill="#1e1e1e" x="905.1" y="278.5">5</text>
<text class="a" font-size="10.5" fill="#2a2a2a" textLength="117.5" lengthAdjust="spacingAndGlyphs" x="746.3" y="304.9">Comp-Annexin V-FITC-A</text>
<text class="a" font-size="10.5" text-anchor="middle" fill="#2a2a2a" textLength="53" lengthAdjust="spacingAndGlyphs" transform="translate(657.0 143.1) rotate(-90)">Comp-PI-A</text>
<text class="a" font-size="11.2" fill="#333" textLength="13.2" lengthAdjust="spacingAndGlyphs" x="695.9" y="48.9">Q1</text>
<text class="a" font-size="11.2" fill="#333" textLength="19.3" lengthAdjust="spacingAndGlyphs" x="695.9" y="65.5">0.41</text>
<text class="a" font-size="11.2" text-anchor="end" fill="#333" textLength="13.2" lengthAdjust="spacingAndGlyphs" x="900.9" y="48.9">Q2</text>
<text class="a" font-size="11.2" text-anchor="end" fill="#333" textLength="19.3" lengthAdjust="spacingAndGlyphs" x="900.9" y="65.5">9.59</text>
<text class="a" font-size="11.2" text-anchor="end" fill="#333" textLength="13.2" lengthAdjust="spacingAndGlyphs" x="900.9" y="229.5">Q3</text>
<text class="a" font-size="11.2" text-anchor="end" fill="#333" textLength="19.3" lengthAdjust="spacingAndGlyphs" x="900.9" y="245.9">2.70</text>
<text class="a" font-size="11.2" fill="#333" textLength="13.2" lengthAdjust="spacingAndGlyphs" x="695.9" y="229.5">Q4</text>
<text class="a" font-size="11.2" fill="#333" textLength="19.3" lengthAdjust="spacingAndGlyphs" x="695.9" y="245.9">87.3</text>
<text class="b" font-size="19" textLength="144.7" lengthAdjust="spacingAndGlyphs" x="741" y="21.5">SAA (0.25 μg/mL)</text>
<g transform="translate(397.2 355)" fill="none">
<path stroke="#27348f" stroke-width="1.3" opacity="0.72" d="M53.0 150.9h1.3M71.3 106.4h1.3M58.9 136.7h1.3M56.9 144.7h1.3M58.6 118.1h1.3M63.7 129.2h1.3M69.0 110.7h1.3M92.3 125.7h1.3M62.9 123.2h1.3M54.4 132.7h1.3M56.4 145.8h1.3M76.7 128.6h1.3M61.3 129.5h1.3M99.7 126.3h1.3M75.3 125.3h1.3M63.0 137.4h1.3M53.3 163.2h1.3M55.5 136.4h1.3M103.4 120.5h1.3M58.7 137.5h1.3M56.5 144.8h1.3M106.1 124.7h1.3M66.2 129.2h1.3M81.6 127.4h1.3M82.2 131.5h1.3M78.6 129.4h1.3M97.3 122.2h1.3M66.8 134.4h1.3M55.8 151.6h1.3M112.1 117.0h1.3M60.2 134.0h1.3M66.7 134.6h1.3M53.1 160.9h1.3M59.1 121.1h1.3M84.6 122.8h1.3M66.5 124.6h1.3M91.2 128.3h1.3M77.0 129.0h1.3M72.6 127.4h1.3M92.5 135.3h1.3M59.2 131.4h1.3M65.7 133.4h1.3M69.6 126.1h1.3M57.1 124.8h1.3M87.0 140.7h1.3M116.0 131.1h1.3M55.7 150.8h1.3M67.5 132.7h1.3M54.7 110.0h1.3M74.0 115.1h1.3M61.3 117.2h1.3M75.1 131.5h1.3M60.8 133.8h1.3M59.2 137.4h1.3M71.3 124.6h1.3M60.4 138.8h1.3M64.8 136.8h1.3M69.1 124.6h1.3M52.2 158.1h1.3M76.0 126.2h1.3M59.3 137.6h1.3M80.1 123.4h1.3M61.1 137.4h1.3M100.7 129.2h1.3M93.4 117.1h1.3M77.6 123.0h1.3M57.4 129.0h1.3M73.4 83.8h1.3M61.0 144.8h1.3M51.6 127.7h1.3M54.0 138.7h1.3M87.0 136.7h1.3M55.7 148.1h1.3M63.5 135.1h1.3M60.9 121.4h1.3M90.3 124.0h1.3M84.1 122.7h1.3M57.0 139.3h1.3M89.0 135.7h1.3M66.8 136.1h1.3M58.7 139.0h1.3M58.0 127.5h1.3M63.3 120.0h1.3M74.6 131.8h1.3M69.7 125.2h1.3M52.3 163.0h1.3M73.9 125.9h1.3M68.7 121.6h1.3M92.7 119.1h1.3M78.7 123.6h1.3M91.4 95.6h1.3M92.0 137.4h1.3M69.1 134.6h1.3M77.4 112.0h1.3M88.1 127.8h1.3M59.4 134.0h1.3M93.8 142.9h1.3M56.1 134.8h1.3M53.2 137.1h1.3M56.7 150.6h1.3M78.3 112.7h1.3M50.6 132.5h1.3M69.9 128.3h1.3M67.8 126.3h1.3M59.1 110.8h1.3M60.6 136.9h1.3M50.2 145.0h1.3M63.0 126.0h1.3M81.8 134.7h1.3M71.9 133.7h1.3M52.9 143.3h1.3M56.2 135.5h1.3M49.3 145.9h1.3M89.7 125.4h1.3M59.9 124.3h1.3M98.4 141.3h1.3M70.5 131.2h1.3M81.0 171.9h1.3M86.1 131.9h1.3M100.4 145.8h1.3M103.3 171.6h1.3M88.7 138.4h1.3M101.6 135.3h1.3M111.8 133.6h1.3M105.4 150.0h1.3M84.0 111.1h1.3M99.1 149.0h1.3M81.5 133.1h1.3M76.8 119.0h1.3M66.7 119.4h1.3M91.7 141.1h1.3M106.5 132.5h1.3M97.5 151.3h1.3M91.6 131.6h1.3M110.0 156.5h1.3M94.4 119.5h1.3M90.3 132.8h1.3M121.2 160.1h1.3M85.6 170.6h1.3M106.2 160.2h1.3M86.3 169.1h1.3M108.1 145.6h1.3M112.4 159.7h1.3M91.2 122.3h1.3M111.4 132.1h1.3M102.6 135.7h1.3M113.6 134.1h1.3M71.9 135.3h1.3M112.0 140.5h1.3M99.0 142.8h1.3M96.8 127.9h1.3M97.7 105.0h1.3M113.2 159.3h1.3M99.8 139.7h1.3M69.9 131.0h1.3M105.2 117.1h1.3M113.2 133.8h1.3M117.9 127.6h1.3M96.8 156.0h1.3M105.1 101.5h1.3M102.4 160.6h1.3M110.4 159.4h1.3M92.4 131.9h1.3M147.0 143.4h1.3M98.1 155.6h1.3M89.1 128.9h1.3M104.4 150.8h1.3M76.2 128.8h1.3M63.4 137.9h1.3M139.0 160.3h1.3M67.5 127.2h1.3M105.1 127.7h1.3M77.1 124.1h1.3M79.0 112.1h1.3M101.5 137.4h1.3M99.0 147.3h1.3M88.1 122.5h1.3M87.5 130.0h1.3M67.4 120.1h1.3M94.8 170.9h1.3M80.7 135.2h1.3M115.1 158.3h1.3M97.7 137.9h1.3M83.7 131.6h1.3M121.2 102.5h1.3M83.6 135.8h1.3M106.6 155.4h1.3M78.6 111.4h1.3M98.6 159.5h1.3M91.6 124.5h1.3M119.0 125.6h1.3M92.3 169.7h1.3M99.4 140.7h1.3M107.1 163.2h1.3M96.7 168.3h1.3M75.0 129.2h1.3M100.3 142.2h1.3M85.9 124.6h1.3M108.1 158.0h1.3M94.8 153.4h1.3M114.6 123.7h1.3M94.8 134.6h1.3M99.1 145.8h1.3M89.0 117.8h1.3M108.4 164.5h1.3M84.9 120.9h1.3M105.7 152.4h1.3M72.0 131.4h1.3M112.9 160.8h1.3M80.9 134.4h1.3M87.8 127.3h1.3M113.0 125.7h1.3M104.8 149.9h1.3M83.0 114.9h1.3M113.0 141.3h1.3M96.1 131.4h1.3M86.3 132.0h1.3M84.8 126.5h1.3M84.2 124.2h1.3M97.8 162.2h1.3M85.1 134.3h1.3M94.5 169.7h1.3M115.6 146.4h1.3M69.7 118.9h1.3M104.3 143.8h1.3M97.0 96.9h1.3M85.1 124.6h1.3M129.7 136.8h1.3M74.4 127.6h1.3M115.6 138.9h1.3M93.0 161.9h1.3M78.1 170.2h1.3M110.7 154.5h1.3M93.2 140.2h1.3M100.0 162.1h1.3M73.2 130.2h1.3M92.4 161.9h1.3M89.1 139.5h1.3M74.0 114.3h1.3M85.9 91.9h1.3M101.3 147.5h1.3M107.7 151.6h1.3M109.2 130.2h1.3M99.7 158.9h1.3M109.9 145.7h1.3M82.5 134.4h1.3M97.9 126.3h1.3M65.2 132.7h1.3M94.5 122.7h1.3M104.8 164.0h1.3M86.0 136.4h1.3M80.7 133.1h1.3M94.7 128.0h1.3M102.3 113.7h1.3M98.3 170.8h1.3M113.4 152.7h1.3M118.8 121.9h1.3M123.8 127.1h1.3M93.0 134.9h1.3M100.2 157.1h1.3M122.7 166.6h1.3M87.5 125.1h1.3M109.3 133.3h1.3M93.4 139.6h1.3M91.1 103.4h1.3M108.8 164.0h1.3M109.9 152.5h1.3M88.4 129.9h1.3M68.9 124.5h1.3M113.1 165.8h1.3M115.3 133.8h1.3M79.7 126.7h1.3M88.8 138.3h1.3M101.9 142.2h1.3M83.8 129.4h1.3M98.6 146.2h1.3M81.3 130.3h1.3M106.1 150.9h1.3M99.5 166.7h1.3M122.4 136.9h1.3M87.1 132.8h1.3M96.4 127.1h1.3M101.6 121.3h1.3M80.9 130.0h1.3M88.1 126.2h1.3M91.9 115.9h1.3M106.4 144.6h1.3M67.4 133.3h1.3M64.5 138.3h1.3M89.1 117.6h1.3M105.9 141.5h1.3M88.1 162.6h1.3M73.7 115.4h1.3M67.0 122.5h1.3M91.8 124.6h1.3M98.6 152.0h1.3M95.2 153.6h1.3M101.6 127.2h1.3M106.4 129.7h1.3M71.8 135.2h1.3M112.7 144.5h1.3M101.5 154.7h1.3M76.4 111.3h1.3M106.3 108.3h1.3M114.7 110.2h1.3M100.3 156.9h1.3M78.9 128.5h1.3M104.3 124.9h1.3M105.1 144.5h1.3M100.9 170.1h1.3M96.8 162.5h1.3M71.8 128.5h1.3M102.1 160.9h1.3M110.1 130.8h1.3M102.0 140.7h1.3M102.8 151.0h1.3M106.4 161.1h1.3M100.2 139.8h1.3M90.2 101.9h1.3M118.1 146.8h1.3M126.6 167.9h1.3M102.5 137.1h1.3M135.6 125.7h1.3M71.4 131.8h1.3M79.9 134.1h1.3M111.7 170.7h1.3M96.2 142.0h1.3M102.6 139.2h1.3M98.5 154.6h1.3M70.5 128.9h1.3M96.5 144.2h1.3M105.9 139.7h1.3M103.0 147.9h1.3M87.2 121.5h1.3M100.6 150.4h1.3M109.1 160.0h1.3M98.3 127.1h1.3M123.2 170.6h1.3M113.3 150.4h1.3M110.4 169.9h1.3M97.6 147.8h1.3M88.7 171.1h1.3M141.0 157.2h1.3M121.9 160.0h1.3M122.3 147.2h1.3M95.0 157.8h1.3M116.1 146.7h1.3M109.4 153.8h1.3M88.1 131.0h1.3M120.5 166.4h1.3M99.5 135.2h1.3M107.0 153.4h1.3M98.0 144.4h1.3M116.1 171.2h1.3M96.1 169.4h1.3M128.8 153.5h1.3M95.0 171.5h1.3M104.2 169.1h1.3M90.2 171.2h1.3M114.4 157.1h1.3M86.3 136.1h1.3M102.3 142.0h1.3M127.3 125.2h1.3M95.4 140.3h1.3M117.6 166.3h1.3M103.7 152.5h1.3M147.8 130.3h1.3M101.1 152.1h1.3M88.6 162.8h1.3M98.9 154.0h1.3M78.8 170.0h1.3M119.7 147.0h1.3M120.2 148.5h1.3M105.0 159.8h1.3M113.5 153.1h1.3M134.6 166.1h1.3M94.0 170.2h1.3M114.3 158.3h1.3M109.1 160.9h1.3M75.5 171.2h1.3M111.7 164.1h1.3M97.0 151.2h1.3M155.9 168.0h1.3M120.3 127.6h1.3M114.5 144.7h1.3M99.2 166.6h1.3M96.8 166.2h1.3M90.9 143.8h1.3M100.2 161.5h1.3M96.1 168.6h1.3M94.1 168.0h1.3M90.7 170.4h1.3M104.3 163.8h1.3M114.4 169.6h1.3M95.7 125.2h1.3M101.5 162.5h1.3M103.0 151.9h1.3M103.8 170.8h1.3M108.6 170.4h1.3M101.6 155.7h1.3M93.3 152.2h1.3M95.3 135.5h1.3M105.1 136.0h1.3M106.6 148.6h1.3M108.5 128.9h1.3M100.1 161.9h1.3M113.4 158.9h1.3M116.5 169.3h1.3M96.8 165.7h1.3M108.4 167.9h1.3M107.3 148.3h1.3M106.0 135.6h1.3M90.7 134.6h1.3M110.9 163.7h1.3M97.9 154.4h1.3M110.7 124.8h1.3M128.4 169.7h1.3M167.9 161.2h1.3M96.1 167.2h1.3M112.4 148.7h1.3M99.2 124.1h1.3M106.5 127.5h1.3M108.6 131.2h1.3M96.8 164.3h1.3M104.3 121.3h1.3M100.9 168.3h1.3M98.0 147.8h1.3M102.2 170.5h1.3M124.6 138.3h1.3M112.9 152.7h1.3M114.1 146.6h1.3M93.2 157.3h1.3M129.9 138.5h1.3M96.3 133.6h1.3M91.6 131.1h1.3M99.5 145.4h1.3M99.0 137.2h1.3M105.2 120.1h1.3M80.7 171.3h1.3M171.2 54.6h1.3M179.7 70.8h1.3M188.6 61.6h1.3M193.5 70.9h1.3M177.6 60.0h1.3M131.2 68.2h1.3M130.9 58.2h1.3M108.3 59.3h1.3M130.4 70.1h1.3M186.6 57.4h1.3M152.7 53.7h1.3M124.0 61.7h1.3M144.8 60.9h1.3M168.6 60.1h1.3M179.6 68.5h1.3M155.9 55.8h1.3M144.5 59.2h1.3M145.2 61.4h1.3M210.6 61.7h1.3M198.7 64.5h1.3M163.1 59.3h1.3M189.4 76.2h1.3M148.1 60.5h1.3M180.6 71.2h1.3M148.5 48.3h1.3M167.3 77.1h1.3M149.3 74.5h1.3M186.8 61.2h1.3M182.7 57.5h1.3M184.5 76.9h1.3M208.0 67.7h1.3M153.1 70.6h1.3M189.9 73.4h1.3M168.2 81.0h1.3M209.3 59.0h1.3M182.0 71.4h1.3M182.3 64.8h1.3M158.7 58.1h1.3M139.2 74.7h1.3M185.8 51.8h1.3M135.0 66.1h1.3M129.1 66.2h1.3M127.5 54.3h1.3M184.3 77.5h1.3M193.5 74.2h1.3M186.0 67.7h1.3M125.5 61.9h1.3M116.0 66.6h1.3M170.1 53.7h1.3M146.5 43.9h1.3M157.9 57.4h1.3M190.6 75.4h1.3M173.9 57.7h1.3M143.3 61.2h1.3M210.9 75.0h1.3M132.2 61.2h1.3M168.9 71.0h1.3M189.3 60.7h1.3M167.8 76.3h1.3M200.0 68.4h1.3M181.3 70.1h1.3M185.9 58.4h1.3M173.8 77.1h1.3M141.1 65.2h1.3M150.8 69.4h1.3M152.8 75.1h1.3M128.3 58.1h1.3M168.4 81.6h1.3M185.6 75.9h1.3M196.9 73.5h1.3M166.8 58.0h1.3M190.3 58.0h1.3M146.9 60.2h1.3M161.8 76.1h1.3M187.5 80.9h1.3M188.1 79.9h1.3M149.7 65.8h1.3M129.9 74.7h1.3M138.8 61.1h1.3M150.4 71.2h1.3M190.5 62.7h1.3M196.0 77.4h1.3M189.2 76.5h1.3M142.8 63.4h1.3M115.8 57.6h1.3M183.0 55.9h1.3M209.6 68.0h1.3M172.0 59.0h1.3M131.6 71.9h1.3M148.5 76.4h1.3M172.3 60.6h1.3M150.0 80.9h1.3M181.2 67.6h1.3M186.5 64.0h1.3M153.2 48.5h1.3M194.0 76.2h1.3M176.5 69.2h1.3M131.8 62.9h1.3M188.6 74.5h1.3M151.5 49.7h1.3M141.1 68.1h1.3M155.7 74.4h1.3M183.8 56.7h1.3M173.7 52.7h1.3M138.1 79.1h1.3M195.1 76.6h1.3M164.8 47.0h1.3M118.5 65.3h1.3M181.1 73.7h1.3M209.3 68.3h1.3M141.9 74.8h1.3M210.0 77.0h1.3M156.4 76.5h1.3M142.3 51.0h1.3M187.0 78.5h1.3M125.3 69.3h1.3M197.0 76.0h1.3M151.1 55.7h1.3M204.8 87.3h1.3M180.6 55.4h1.3M188.3 68.2h1.3M193.9 74.6h1.3M151.6 76.2h1.3M174.5 77.6h1.3M212.1 62.0h1.3M149.4 67.5h1.3M195.4 64.2h1.3M209.6 71.0h1.3M181.5 54.9h1.3M161.3 73.8h1.3M182.4 70.6h1.3M182.0 80.4h1.3M205.2 63.7h1.3M145.5 58.9h1.3M159.9 56.4h1.3M140.7 61.8h1.3M187.3 73.8h1.3M146.1 55.2h1.3M183.5 60.4h1.3M150.9 76.5h1.3M154.8 64.3h1.3M145.2 63.2h1.3M158.9 58.1h1.3M139.3 56.0h1.3M169.9 56.4h1.3M145.8 57.4h1.3M117.8 72.7h1.3M152.4 58.5h1.3M158.3 75.4h1.3M141.9 62.3h1.3M169.3 57.4h1.3M178.7 82.8h1.3M194.8 71.5h1.3M183.2 52.5h1.3M178.7 82.5h1.3M172.3 68.7h1.3M145.4 70.9h1.3M183.7 75.3h1.3M197.6 72.5h1.3M186.5 54.6h1.3M191.9 76.0h1.3M172.4 62.1h1.3M157.9 56.3h1.3M161.8 74.0h1.3M180.9 59.8h1.3M168.4 60.5h1.3M105.4 62.6h1.3M150.3 52.8h1.3M203.7 59.2h1.3M127.5 72.0h1.3M126.4 65.5h1.3M130.8 46.3h1.3M217.6 70.5h1.3M206.2 68.7h1.3M131.3 68.1h1.3M129.5 58.4h1.3M188.4 83.4h1.3M176.2 80.8h1.3M182.2 62.8h1.3M190.4 66.9h1.3M168.9 81.1h1.3M181.2 76.2h1.3M154.6 64.9h1.3M148.8 60.0h1.3M208.9 69.7h1.3M158.1 79.9h1.3M178.7 77.6h1.3M135.7 71.9h1.3M144.0 66.4h1.3M164.4 76.3h1.3M155.3 69.7h1.3M118.9 75.0h1.3M128.9 58.6h1.3M146.5 73.4h1.3M142.7 78.5h1.3M198.4 75.8h1.3M146.9 56.7h1.3M141.3 70.1h1.3M150.7 56.7h1.3M201.1 69.6h1.3M120.8 67.7h1.3M159.7 57.7h1.3M176.8 60.0h1.3M195.0 87.8h1.3M152.7 74.5h1.3M185.1 75.6h1.3M165.9 81.3h1.3M141.5 72.3h1.3M171.5 75.0h1.3M156.4 76.3h1.3M152.6 53.7h1.3M169.8 59.0h1.3M194.2 62.5h1.3M175.9 76.8h1.3M143.6 68.9h1.3M193.3 69.9h1.3M157.9 85.1h1.3M190.6 59.7h1.3M131.5 57.4h1.3M147.5 76.8h1.3M154.5 44.8h1.3M122.0 68.8h1.3M188.2 53.4h1.3M186.4 76.0h1.3M152.3 68.8h1.3M209.3 82.8h1.3M128.3 71.4h1.3M180.0 85.2h1.3M194.7 66.1h1.3M195.9 61.3h1.3M180.8 68.8h1.3M159.2 60.5h1.3M177.1 85.1h1.3M178.3 71.5h1.3M112.9 64.9h1.3M138.9 65.4h1.3M153.1 70.3h1.3M158.4 74.3h1.3M189.1 68.4h1.3M161.9 71.6h1.3M179.5 75.9h1.3M200.1 59.1h1.3M139.4 45.0h1.3M178.1 78.8h1.3M201.8 61.2h1.3M174.7 81.8h1.3M181.8 70.1h1.3M138.5 56.3h1.3M149.5 81.1h1.3M191.0 78.7h1.3M166.6 71.8h1.3M175.2 77.8h1.3M142.3 60.3h1.3M167.4 57.8h1.3M143.5 78.1h1.3M196.6 69.1h1.3M193.4 69.1h1.3M144.2 69.8h1.3M149.0 69.9h1.3M172.2 83.6h1.3M210.4 72.1h1.3M176.7 60.6h1.3M150.9 64.4h1.3M140.9 73.2h1.3M214.8 63.0h1.3M191.3 72.5h1.3M204.9 66.7h1.3M163.7 73.8h1.3M144.5 56.1h1.3M173.7 79.1h1.3M179.3 79.0h1.3M159.2 57.3h1.3M138.8 71.3h1.3M204.6 75.1h1.3M136.7 54.4h1.3M153.1 81.9h1.3M133.3 57.3h1.3M153.7 72.2h1.3M191.4 75.3h1.3M207.5 77.4h1.3M138.2 59.8h1.3M206.5 60.6h1.3M137.2 72.2h1.3M186.1 59.2h1.3M148.2 63.9h1.3M203.4 74.1h1.3M199.6 73.9h1.3M205.2 72.0h1.3M153.1 51.7h1.3M158.2 77.5h1.3M150.5 76.5h1.3M184.3 77.5h1.3M167.3 76.9h1.3M162.4 77.1h1.3M171.3 55.8h1.3M146.3 75.4h1.3M163.3 82.1h1.3M154.4 70.4h1.3M180.4 57.9h1.3M153.7 54.4h1.3M144.4 68.2h1.3M150.7 64.8h1.3M207.2 81.7h1.3M162.6 82.2h1.3M215.4 72.0h1.3M162.1 75.2h1.3M154.4 58.2h1.3M119.6 53.5h1.3M184.0 62.2h1.3M199.6 69.3h1.3M184.0 73.1h1.3M164.4 78.4h1.3M216.1 75.4h1.3M144.6 76.6h1.3M163.0 56.8h1.3M125.5 61.6h1.3M174.3 54.8h1.3M186.1 61.1h1.3M208.9 59.5h1.3M129.6 62.4h1.3M159.1 47.1h1.3M146.5 62.8h1.3M174.6 76.4h1.3M171.1 76.1h1.3M144.1 66.3h1.3M179.0 56.6h1.3M190.7 54.1h1.3M184.5 63.4h1.3M155.0 55.9h1.3M203.7 68.4h1.3M138.5 56.9h1.3M163.1 57.4h1.3M155.6 74.0h1.3M177.4 65.8h1.3M205.6 63.8h1.3M181.6 59.8h1.3M175.2 63.2h1.3M178.8 58.9h1.3M152.7 55.7h1.3M136.6 65.8h1.3M183.9 68.6h1.3M158.0 80.8h1.3M138.7 71.8h1.3M200.1 67.6h1.3M168.6 55.1h1.3M197.2 66.4h1.3M198.2 70.1h1.3M150.8 74.4h1.3M180.6 78.8h1.3M192.3 70.6h1.3M177.6 78.4h1.3M144.2 59.1h1.3M160.3 79.4h1.3M134.1 65.0h1.3M193.0 86.5h1.3M134.3 71.6h1.3M193.1 66.3h1.3M172.1 51.7h1.3M205.3 75.2h1.3M141.5 76.2h1.3M180.8 81.8h1.3M188.1 62.6h1.3M130.7 65.2h1.3M170.2 85.6h1.3M133.5 52.7h1.3M153.5 55.3h1.3M177.4 56.9h1.3M145.5 66.8h1.3M218.0 58.9h1.3M142.9 58.0h1.3M184.4 70.2h1.3M175.9 71.6h1.3M191.0 58.1h1.3M213.6 77.5h1.3M185.6 72.1h1.3M173.0 79.6h1.3M169.6 57.0h1.3M175.0 58.2h1.3M146.6 76.2h1.3M175.2 58.1h1.3M188.4 79.8h1.3M178.5 74.5h1.3M185.0 64.3h1.3M170.6 62.8h1.3M151.7 54.5h1.3M194.5 68.5h1.3M180.8 60.3h1.3M148.6 56.8h1.3M139.8 66.5h1.3M133.8 73.6h1.3M151.6 72.5h1.3M188.3 65.1h1.3M162.6 57.9h1.3M181.3 56.3h1.3M149.6 64.0h1.3M180.6 59.1h1.3M204.0 66.8h1.3M151.7 64.5h1.3M174.5 60.6h1.3M146.6 57.0h1.3M169.9 75.1h1.3M125.1 75.1h1.3M141.0 64.1h1.3M174.1 62.6h1.3M197.4 71.5h1.3M128.1 56.8h1.3M126.8 61.9h1.3M136.6 69.7h1.3M167.4 59.9h1.3M189.6 70.3h1.3M175.7 80.9h1.3M147.2 63.3h1.3M148.3 58.1h1.3M189.6 62.1h1.3M174.3 73.6h1.3M192.0 82.5h1.3M202.8 70.5h1.3M135.1 68.7h1.3M156.3 55.4h1.3M183.6 72.3h1.3M113.7 70.4h1.3M141.7 68.7h1.3M178.4 69.9h1.3M195.9 55.9h1.3M146.6 65.8h1.3M175.8 52.6h1.3M192.9 65.5h1.3M150.5 59.1h1.3M189.6 73.0h1.3M171.3 63.5h1.3M184.7 64.1h1.3M138.1 61.4h1.3M186.3 79.9h1.3M136.7 62.5h1.3M170.2 61.6h1.3M138.7 69.4h1.3M142.7 72.3h1.3M209.2 75.1h1.3M203.2 68.2h1.3M112.5 66.8h1.3M193.1 78.7h1.3M182.7 66.4h1.3M165.3 76.4h1.3M122.1 62.1h1.3M178.0 64.3h1.3M150.3 53.8h1.3M147.2 52.6h1.3M154.5 76.9h1.3M154.9 49.4h1.3M150.9 57.0h1.3M157.1 81.1h1.3M155.6 59.3h1.3M171.1 53.9h1.3M147.5 57.4h1.3M192.0 63.0h1.3M196.7 68.6h1.3M171.7 58.2h1.3M149.2 78.8h1.3M152.7 58.2h1.3M149.3 71.1h1.3M121.9 108.4h1.3M139.6 115.6h1.3M118.3 113.1h1.3M132.7 100.4h1.3M133.2 76.9h1.3M146.4 89.7h1.3M101.8 130.6h1.3M130.0 101.8h1.3M133.8 92.1h1.3M130.5 122.4h1.3M131.0 92.5h1.3M131.7 77.2h1.3M107.1 138.6h1.3M109.0 122.6h1.3M147.0 100.2h1.3M113.0 119.6h1.3M100.7 131.7h1.3M93.5 123.8h1.3M117.4 135.8h1.3M109.5 117.9h1.3M139.2 77.6h1.3M120.2 110.5h1.3M139.8 92.5h1.3M139.6 79.7h1.3M107.6 119.0h1.3M100.4 104.9h1.3M149.1 86.7h1.3M97.2 136.4h1.3M146.2 94.4h1.3M121.1 111.2h1.3M125.7 112.1h1.3M138.7 68.5h1.3M130.2 83.8h1.3M134.5 97.6h1.3M126.4 78.7h1.3M123.3 117.4h1.3M111.0 106.4h1.3M128.7 103.7h1.3M136.5 96.2h1.3M133.6 69.3h1.3M141.1 115.5h1.3M127.5 97.6h1.3M141.5 110.6h1.3M144.9 71.2h1.3M124.3 101.9h1.3M141.5 81.2h1.3M118.9 121.3h1.3M125.1 104.4h1.3M134.3 92.2h1.3M138.4 69.3h1.3M131.0 85.3h1.3M104.5 112.2h1.3M111.5 131.1h1.3M128.3 118.5h1.3M143.1 97.7h1.3M103.1 124.6h1.3M141.7 87.2h1.3M106.9 109.9h1.3M116.8 116.2h1.3M111.9 101.0h1.3M145.2 82.0h1.3M116.6 121.4h1.3M109.1 118.5h1.3M127.8 105.2h1.3M95.3 109.6h1.3M145.9 86.3h1.3M105.0 120.1h1.3M137.8 97.4h1.3M134.2 98.4h1.3M132.0 79.9h1.3M114.4 122.0h1.3M145.7 57.1h1.3M114.2 89.1h1.3M98.2 121.1h1.3M116.6 108.1h1.3M103.6 132.0h1.3M114.6 92.4h1.3M85.7 135.1h1.3M150.9 104.3h1.3M110.7 121.0h1.3M127.2 92.5h1.3M137.0 90.5h1.3M147.2 82.0h1.3M142.1 100.2h1.3M150.6 83.1h1.3M144.3 91.7h1.3M140.4 81.7h1.3M120.9 117.8h1.3M122.7 100.1h1.3M152.8 79.4h1.3M113.1 127.6h1.3M115.1 106.4h1.3M136.3 86.2h1.3M110.0 114.7h1.3M135.3 104.5h1.3M131.9 87.6h1.3M140.6 104.8h1.3M128.2 69.3h1.3M123.6 84.7h1.3M99.0 151.2h1.3M148.1 88.3h1.3M105.1 106.4h1.3M146.3 91.6h1.3M136.3 83.5h1.3M140.2 71.1h1.3M118.5 101.2h1.3M118.6 121.3h1.3M128.4 68.9h1.3M109.3 115.2h1.3M117.7 99.5h1.3M109.9 124.3h1.3M155.5 84.0h1.3M89.1 102.2h1.3M97.0 135.9h1.3M131.7 87.0h1.3M113.2 120.0h1.3M111.1 134.6h1.3M161.3 82.5h1.3M130.6 73.7h1.3M139.7 89.7h1.3M118.4 125.2h1.3M119.3 109.3h1.3M146.8 96.1h1.3M109.7 97.3h1.3M126.5 100.0h1.3M127.2 99.7h1.3M119.2 100.0h1.3M116.7 116.5h1.3M140.0 71.6h1.3M117.1 119.9h1.3M92.7 118.9h1.3M113.7 93.8h1.3M118.7 100.4h1.3M152.8 167.3h1.3M124.5 161.0h1.3M144.1 152.3h1.3M179.8 195.7h1.3M136.7 185.2h1.3M140.3 188.6h1.3M138.8 141.1h1.3M145.4 137.1h1.3M119.6 161.3h1.3M153.8 111.6h1.3M131.8 160.4h1.3M159.4 126.6h1.3M222.1 182.1h1.3M136.3 154.0h1.3M116.8 158.6h1.3M141.4 183.7h1.3M156.8 138.2h1.3M217.1 152.8h1.3M142.5 152.6h1.3M125.8 149.8h1.3M168.6 170.3h1.3M120.3 158.2h1.3M119.7 151.3h1.3M123.5 145.9h1.3M138.4 145.5h1.3M134.3 171.0h1.3M129.1 202.6h1.3M136.8 156.9h1.3M150.4 160.4h1.3M144.0 165.1h1.3M135.6 182.6h1.3M157.0 154.3h1.3M173.4 140.4h1.3M140.8 154.5h1.3M142.8 154.9h1.3M180.3 192.0h1.3M129.4 116.5h1.3M122.7 169.4h1.3M134.3 153.9h1.3M130.2 115.1h1.3M136.0 142.2h1.3M146.8 172.9h1.3M148.8 161.3h1.3M156.7 116.0h1.3M183.6 161.0h1.3M137.7 159.6h1.3M177.5 135.1h1.3M206.0 177.1h1.3M123.7 172.8h1.3M132.6 178.4h1.3M149.8 173.5h1.3M118.0 166.2h1.3M118.6 143.7h1.3M119.9 169.6h1.3M195.2 173.1h1.3M136.6 135.9h1.3M171.9 154.2h1.3M143.5 159.5h1.3M127.6 181.0h1.3M145.9 167.1h1.3M117.3 164.2h1.3M137.1 133.3h1.3M205.2 183.0h1.3M127.2 117.2h1.3M129.0 182.6h1.3M157.7 187.7h1.3M124.8 154.3h1.3M161.3 173.7h1.3M152.1 121.1h1.3M119.7 172.9h1.3M144.8 122.1h1.3M138.3 167.8h1.3M148.3 169.5h1.3M135.7 165.0h1.3M169.0 160.8h1.3M121.4 166.5h1.3M153.5 154.8h1.3M127.3 186.8h1.3M122.3 143.5h1.3M140.0 166.9h1.3M124.0 164.7h1.3M204.1 191.1h1.3M123.8 160.7h1.3M143.7 138.7h1.3M139.6 167.2h1.3M166.3 177.2h1.3M130.8 164.1h1.3M124.8 125.8h1.3M143.6 136.2h1.3M118.1 137.1h1.3M134.1 184.0h1.3M139.0 134.2h1.3M194.1 130.7h1.3M133.1 139.9h1.3M136.7 143.2h1.3M122.8 128.8h1.3M162.4 158.2h1.3M126.3 180.8h1.3M126.6 107.7h1.3M222.6 151.8h1.3M125.3 148.0h1.3M114.8 133.2h1.3M151.4 137.4h1.3M181.4 131.8h1.3M116.4 149.4h1.3M197.9 127.8h1.3M141.5 166.5h1.3M134.9 152.1h1.3M144.2 164.8h1.3M132.5 140.9h1.3M140.9 159.9h1.3M122.1 144.1h1.3M132.6 159.5h1.3M154.4 171.0h1.3M133.9 162.5h1.3M158.2 186.7h1.3M126.9 162.1h1.3M154.2 145.8h1.3M149.6 112.7h1.3M139.9 124.6h1.3M125.3 172.5h1.3M139.9 130.3h1.3M145.4 166.6h1.3M161.8 154.1h1.3M134.8 147.8h1.3M153.4 149.8h1.3M125.3 164.1h1.3M129.7 170.9h1.3M157.0 164.3h1.3M162.9 167.1h1.3M126.0 141.9h1.3M155.7 133.5h1.3M160.2 143.0h1.3M164.5 143.6h1.3M129.8 162.9h1.3M144.8 147.1h1.3M162.3 154.7h1.3M152.5 149.1h1.3M124.3 134.8h1.3M119.0 177.3h1.3M126.7 142.3h1.3M172.7 177.1h1.3M163.7 105.2h1.3M138.7 174.4h1.3M139.6 165.4h1.3M123.4 178.7h1.3M187.3 164.5h1.3M130.3 151.8h1.3M130.9 137.3h1.3M146.7 143.9h1.3M132.3 110.8h1.3M122.9 140.5h1.3M126.9 137.5h1.3M150.7 139.7h1.3M145.9 152.9h1.3M134.1 186.4h1.3M165.9 175.2h1.3M124.6 108.6h1.3M130.2 189.2h1.3M139.4 154.7h1.3M181.5 134.9h1.3M136.9 127.1h1.3M134.6 170.4h1.3M141.4 153.0h1.3M129.2 150.7h1.3M145.6 167.6h1.3M125.8 160.1h1.3M165.5 128.1h1.3M180.8 140.8h1.3M126.7 162.3h1.3M141.9 144.9h1.3M138.6 194.2h1.3M120.1 143.6h1.3M146.2 160.2h1.3M116.3 120.6h1.3M144.5 156.7h1.3M128.6 133.9h1.3M127.4 170.4h1.3M129.6 178.0h1.3M136.2 170.4h1.3M143.3 125.3h1.3M144.5 166.2h1.3M126.0 146.1h1.3M129.4 141.8h1.3M154.4 199.2h1.3M137.2 166.0h1.3M160.0 160.7h1.3M157.6 165.0h1.3M116.7 152.2h1.3M173.5 145.1h1.3M177.1 131.6h1.3M132.9 109.7h1.3M148.1 130.1h1.3M127.0 138.4h1.3M117.6 179.0h1.3M146.9 148.5h1.3M117.9 152.8h1.3M121.9 159.6h1.3M166.9 175.7h1.3M177.0 141.8h1.3M128.3 109.8h1.3M158.5 163.0h1.3M148.9 179.8h1.3M129.5 161.5h1.3M133.2 174.2h1.3M135.6 155.0h1.3M122.4 167.4h1.3M140.7 161.9h1.3M140.6 137.1h1.3M144.7 129.7h1.3M120.7 173.9h1.3M141.5 128.2h1.3M176.5 187.4h1.3M142.9 162.0h1.3M125.6 190.4h1.3M144.1 151.5h1.3M144.5 139.7h1.3M119.5 163.5h1.3M147.3 153.6h1.3M122.8 183.8h1.3M185.6 145.6h1.3M140.3 165.7h1.3M129.4 164.3h1.3M149.2 181.9h1.3M220.4 159.9h1.3M141.0 139.6h1.3M150.1 147.8h1.3"/>
<path stroke="#24409c" stroke-width="1.15" d="M156 56.5h1M170 56.5h1M143 57.5h1M143 58.5h1M151 58.5h1M163 58.5h1M170 58.5h1M149 60.5h4M155 60.5h1M158 60.5h1M160 60.5h1M162 60.5h2M178 60.5h1M192 60.5h1M136 61.5h1M146 61.5h2M151 61.5h1M153 61.5h3M157 61.5h1M160 61.5h2M165 61.5h2M168 61.5h1M174 61.5h3M178 61.5h1M137 62.5h2M147 62.5h1M152 62.5h1M154 62.5h1M156 62.5h4M161 62.5h3M165 62.5h1M167 62.5h2M176 62.5h1M179 62.5h3M137 63.5h2M140 63.5h1M153 63.5h2M157 63.5h1M159 63.5h2M162 63.5h3M166 63.5h2M170 63.5h1M176 63.5h1M178 63.5h1M180 63.5h2M137 64.5h1M140 64.5h1M145 64.5h1M152 64.5h1M158 64.5h3M162 64.5h1M165 64.5h2M168 64.5h2M180 64.5h1M148 65.5h1M150 65.5h1M153 65.5h1M156 65.5h1M159 65.5h1M161 65.5h2M164 65.5h1M166 65.5h1M168 65.5h1M171 65.5h4M179 65.5h2M183 65.5h1M146 66.5h4M151 66.5h1M159 66.5h1M162 66.5h1M165 66.5h1M168 66.5h1M172 66.5h4M177 66.5h1M179 66.5h1M181 66.5h1M147 67.5h1M152 67.5h3M157 67.5h2M169 67.5h1M171 67.5h1M175 67.5h3M147 68.5h1M150 68.5h1M155 68.5h3M163 68.5h1M167 68.5h1M169 68.5h1M171 68.5h1M175 68.5h1M177 68.5h1M187 68.5h1M147 69.5h1M149 69.5h1M159 69.5h1M161 69.5h1M165 69.5h1M169 69.5h1M171 69.5h3M181 69.5h1M185 69.5h2M147 70.5h2M150 70.5h1M159 70.5h1M161 70.5h1M167 70.5h2M172 70.5h1M175 70.5h1M177 70.5h1M185 70.5h2M147 71.5h1M157 71.5h1M160 71.5h1M162 71.5h3M170 71.5h5M177 71.5h1M186 71.5h2M145 72.5h1M157 72.5h2M163 72.5h1M165 72.5h4M170 72.5h3M174 72.5h1M176 72.5h1M187 72.5h2M145 73.5h1M152 73.5h1M158 73.5h3M162 73.5h1M164 73.5h2M168 73.5h2M171 73.5h2M177 73.5h2M147 74.5h1M154 74.5h1M159 74.5h2M162 74.5h1M166 74.5h3M172 74.5h2M179 74.5h1M181 74.5h1M184 74.5h1M150 75.5h1M159 75.5h1M165 75.5h1M171 75.5h1M173 75.5h3M180 75.5h1M182 75.5h1M184 75.5h1M180 76.5h1M181 77.5h1M190 77.5h1M170 81.5h1M105 119.5h1M104 120.5h1M124 127.5h1M75 128.5h1M71 130.5h1M75 130.5h1M77 130.5h1M66 131.5h1M73 131.5h1M77 131.5h3M81 131.5h1M84 131.5h2M61 132.5h1M71 132.5h1M74 132.5h1M76 132.5h2M79 132.5h1M82 132.5h1M84 132.5h1M74 133.5h3M78 133.5h1M83 133.5h1M90 133.5h1M74 134.5h4M84 134.5h1M69 135.5h1M75 135.5h1M84 135.5h1M90 135.5h1M67 136.5h1M71 136.5h1M75 136.5h3M84 136.5h1M88 136.5h3M93 136.5h3M64 137.5h2M67 137.5h1M72 137.5h1M75 137.5h1M77 137.5h5M83 137.5h4M88 137.5h4M94 137.5h2M100 137.5h1M65 138.5h2M72 138.5h1M74 138.5h1M77 138.5h2M81 138.5h5M87 138.5h1M90 138.5h3M100 138.5h1M64 139.5h1M75 139.5h2M78 139.5h3M85 139.5h1M91 139.5h2M60 140.5h1M62 140.5h5M75 140.5h1M77 140.5h2M84 140.5h2M89 140.5h1M96 140.5h2M59 141.5h3M63 141.5h1M65 141.5h1M82 141.5h3M88 141.5h3M92 141.5h1M57 142.5h1M59 142.5h1M61 142.5h1M63 142.5h1M87 142.5h1M94 142.5h1M57 143.5h2M61 143.5h2M84 143.5h2M87 143.5h2M91 143.5h2M94 143.5h2M59 144.5h1M61 144.5h1M81 144.5h1M87 144.5h1M89 144.5h2M94 144.5h1M58 145.5h1M84 145.5h1M86 145.5h1M91 145.5h4M97 145.5h1M57 146.5h1M59 146.5h1M90 146.5h1M92 146.5h4M56 147.5h1M58 147.5h1M84 147.5h3M92 147.5h1M94 147.5h1M96 147.5h1M57 148.5h1M85 148.5h1M93 148.5h1M86 149.5h1M92 149.5h1M95 149.5h1M106 149.5h1M57 150.5h1M88 150.5h4M95 150.5h2M87 151.5h1M92 151.5h2M95 151.5h2M145 151.5h1M86 152.5h1M95 152.5h1M55 153.5h2M88 153.5h1M92 153.5h2M97 153.5h1M101 153.5h1M55 154.5h1M90 154.5h2M93 154.5h1M102 154.5h1M56 155.5h1M93 155.5h3M82 156.5h2M92 156.5h1M97 156.5h2M55 157.5h1M87 157.5h1M89 157.5h1M91 157.5h1M96 157.5h2M53 158.5h1M87 158.5h4M92 158.5h2M96 158.5h1M53 159.5h2M87 159.5h2M90 159.5h1M93 159.5h2M96 159.5h1M87 160.5h1M90 160.5h1M93 160.5h1M95 160.5h1M54 161.5h1M90 161.5h2M94 161.5h2M84 162.5h3M89 162.5h2M93 162.5h3M108 162.5h2M86 163.5h1M88 163.5h1M90 163.5h2M93 163.5h3M108 163.5h1M84 164.5h1M86 164.5h3M92 164.5h2M95 164.5h1M109 164.5h1M85 165.5h2M88 165.5h2M92 165.5h1M100 165.5h2M86 166.5h1M91 166.5h2M97 166.5h2M100 166.5h2M80 167.5h1M84 167.5h1M86 167.5h2M89 167.5h1M93 167.5h1M101 167.5h1M75 168.5h1M81 168.5h1M83 168.5h2M86 168.5h1M92 168.5h1M75 169.5h2M83 169.5h3M103 169.5h1M70 170.5h1M72 170.5h4M79 170.5h1M83 170.5h1M65 171.5h1M67 171.5h2M70 171.5h1M54 173.5h1"/>
<path stroke="#2860b8" stroke-width="1.15" d="M152 61.5h1M177 62.5h2M168 63.5h1M179 63.5h1M155 64.5h2M167 64.5h1M171 64.5h1M179 64.5h1M154 65.5h1M153 66.5h4M158 66.5h1M164 66.5h1M171 66.5h1M155 67.5h2M160 67.5h9M170 67.5h1M174 67.5h1M160 68.5h3M164 68.5h2M174 68.5h1M157 69.5h2M160 69.5h1M163 69.5h1M166 69.5h2M157 70.5h2M159 71.5h1M68 136.5h2M68 137.5h1M73 137.5h1M76 137.5h1M68 138.5h1M70 138.5h2M73 138.5h1M76 138.5h1M65 139.5h1M68 139.5h2M72 139.5h3M84 139.5h1M67 140.5h6M74 140.5h1M80 140.5h4M64 141.5h1M66 141.5h1M71 141.5h2M74 141.5h1M76 141.5h2M80 141.5h1M96 141.5h1M64 142.5h3M70 142.5h1M76 142.5h1M78 142.5h1M81 142.5h2M84 142.5h1M75 143.5h1M77 143.5h3M82 143.5h2M58 144.5h1M63 144.5h1M75 144.5h3M79 144.5h1M82 144.5h3M86 144.5h1M91 144.5h1M61 145.5h2M82 145.5h2M87 145.5h3M60 146.5h1M81 146.5h2M84 146.5h1M87 146.5h3M59 147.5h1M80 147.5h1M82 147.5h2M87 147.5h2M90 147.5h2M58 148.5h3M77 148.5h1M86 148.5h7M58 149.5h1M79 149.5h1M84 149.5h2M87 149.5h1M89 149.5h1M91 149.5h1M84 150.5h1M86 150.5h2M58 151.5h1M84 151.5h2M89 151.5h2M58 152.5h1M82 152.5h1M87 152.5h1M89 152.5h3M82 153.5h6M90 153.5h2M56 154.5h1M79 154.5h1M81 154.5h7M89 154.5h1M85 155.5h5M55 156.5h1M84 156.5h1M86 156.5h4M80 157.5h2M83 157.5h2M81 158.5h3M85 158.5h2M82 159.5h1M85 159.5h2M55 160.5h1M80 160.5h2M83 160.5h1M85 160.5h2M77 161.5h2M81 161.5h1M83 161.5h2M86 161.5h1M89 161.5h1M77 162.5h2M81 162.5h3M77 163.5h1M79 163.5h2M82 163.5h3M89 163.5h1M54 164.5h1M77 164.5h1M79 164.5h2M85 164.5h1M91 164.5h1M80 165.5h2M83 165.5h1M74 166.5h3M79 166.5h1M81 166.5h3M85 166.5h1M88 166.5h2M73 167.5h1M75 167.5h1M81 167.5h2M85 167.5h1M91 167.5h1M69 168.5h1M71 168.5h1M73 168.5h1M77 168.5h2M80 168.5h1M70 169.5h5M77 169.5h2M80 169.5h3M65 170.5h1M81 170.5h2M55 173.5h1"/>
<path stroke="#2c8fd2" stroke-width="1.15" d="M166 68.5h1M69 137.5h2M71 139.5h1M73 140.5h1M67 141.5h4M79 141.5h1M81 141.5h1M67 142.5h1M71 142.5h2M77 142.5h1M79 142.5h2M66 143.5h1M69 143.5h2M74 143.5h1M76 143.5h1M80 143.5h2M65 144.5h2M68 144.5h1M74 144.5h1M78 144.5h1M80 144.5h1M63 145.5h2M70 145.5h1M72 145.5h10M61 146.5h4M67 146.5h1M69 146.5h8M78 146.5h2M83 146.5h1M60 147.5h9M70 147.5h4M75 147.5h1M77 147.5h3M81 147.5h1M89 147.5h1M72 148.5h1M74 148.5h1M78 148.5h1M81 148.5h2M59 149.5h1M64 149.5h1M70 149.5h1M73 149.5h1M75 149.5h1M77 149.5h2M80 149.5h1M82 149.5h1M59 150.5h1M78 150.5h3M59 151.5h1M77 151.5h7M79 152.5h1M81 152.5h1M83 152.5h2M57 153.5h1M59 153.5h1M77 153.5h1M79 153.5h3M57 154.5h2M80 154.5h1M88 154.5h1M81 155.5h2M56 156.5h1M80 156.5h2M56 157.5h1M80 158.5h1M56 159.5h1M75 159.5h1M80 159.5h1M83 159.5h2M56 160.5h1M75 160.5h3M80 161.5h1M85 161.5h1M55 162.5h1M79 162.5h2M78 163.5h1M81 163.5h1M75 164.5h2M78 164.5h1M81 164.5h3M74 165.5h5M54 166.5h1M71 166.5h1M78 166.5h1M71 167.5h1M76 167.5h1M78 167.5h2M68 168.5h1M70 168.5h1M72 168.5h1M79 168.5h1M66 169.5h4M64 170.5h1M66 170.5h3M62 171.5h2M54 172.5h1"/>
<path stroke="#38bcd6" stroke-width="1.15" d="M68 142.5h1M73 142.5h2M65 143.5h1M67 143.5h2M71 143.5h3M67 144.5h1M69 144.5h5M67 145.5h3M71 145.5h1M65 146.5h2M77 146.5h1M80 146.5h1M69 147.5h1M74 147.5h1M76 147.5h1M61 148.5h2M64 148.5h1M66 148.5h4M73 148.5h1M75 148.5h2M80 148.5h1M60 149.5h2M63 149.5h1M66 149.5h2M71 149.5h2M74 149.5h1M76 149.5h1M81 149.5h1M83 149.5h1M60 150.5h1M70 150.5h2M73 150.5h5M81 150.5h3M61 151.5h1M72 151.5h1M74 151.5h3M59 152.5h1M73 152.5h2M80 152.5h1M58 153.5h1M75 153.5h1M78 153.5h1M76 154.5h2M57 155.5h1M74 155.5h1M76 155.5h1M79 155.5h1M57 156.5h1M77 156.5h1M79 156.5h1M58 157.5h1M74 157.5h5M56 158.5h1M70 158.5h1M78 158.5h2M84 158.5h1M76 159.5h1M78 159.5h2M56 161.5h1M72 161.5h5M79 161.5h1M73 162.5h1M75 162.5h2M55 163.5h1M72 163.5h1M75 163.5h2M55 164.5h1M74 164.5h1M71 165.5h3M82 165.5h1M68 166.5h3M72 166.5h1M77 166.5h1M67 167.5h2M70 167.5h1M72 167.5h1M77 167.5h1M54 168.5h1M67 168.5h1M65 169.5h1M63 170.5h1M61 171.5h1"/>
<path stroke="#4cc9a0" stroke-width="1.15" d="M66 145.5h1M68 146.5h1M63 148.5h1M65 148.5h1M70 148.5h2M62 149.5h1M65 149.5h1M69 149.5h1M61 150.5h5M68 150.5h2M72 150.5h1M60 151.5h1M62 151.5h4M67 151.5h2M70 151.5h2M73 151.5h1M60 152.5h3M65 152.5h1M68 152.5h1M70 152.5h1M75 152.5h4M60 153.5h1M70 153.5h1M73 153.5h2M76 153.5h1M60 154.5h1M69 154.5h1M72 154.5h1M74 154.5h2M78 154.5h1M58 155.5h1M71 155.5h3M75 155.5h1M77 155.5h2M58 156.5h1M73 156.5h3M78 156.5h1M57 157.5h1M70 157.5h1M73 157.5h1M79 157.5h1M57 158.5h1M71 158.5h2M74 158.5h2M70 159.5h2M74 159.5h1M77 159.5h1M71 160.5h1M74 160.5h1M71 161.5h1M56 162.5h1M72 162.5h1M74 162.5h1M71 163.5h1M73 163.5h2M73 164.5h1M68 165.5h3M67 166.5h1M65 167.5h2M69 167.5h1M63 168.5h1M65 168.5h2M54 169.5h1M64 169.5h1M62 170.5h1M54 171.5h1M60 171.5h1"/>
<path stroke="#7fcf52" stroke-width="1.15" d="M68 149.5h1M66 150.5h2M66 151.5h1M69 151.5h1M63 152.5h2M66 152.5h2M69 152.5h1M71 152.5h2M61 153.5h9M71 153.5h2M59 154.5h1M61 154.5h3M65 154.5h1M67 154.5h2M70 154.5h2M73 154.5h1M59 155.5h5M66 155.5h5M59 156.5h1M67 156.5h6M76 156.5h1M59 157.5h2M65 157.5h1M68 157.5h2M71 157.5h2M58 158.5h3M69 158.5h1M73 158.5h1M76 158.5h2M57 159.5h3M68 159.5h2M72 159.5h2M57 160.5h1M65 160.5h1M68 160.5h3M72 160.5h2M57 161.5h1M65 161.5h1M67 161.5h4M68 162.5h4M56 163.5h1M66 163.5h5M56 164.5h1M67 164.5h6M55 165.5h1M65 165.5h3M55 166.5h1M65 166.5h2M55 167.5h1M64 167.5h1M62 168.5h1M64 168.5h1M62 169.5h2M54 170.5h1M60 170.5h2M59 171.5h1M55 172.5h3"/>
<path stroke="#c4dc3a" stroke-width="1.15" d="M64 154.5h1M66 154.5h1M65 155.5h1M60 156.5h1M62 156.5h3M66 156.5h1M61 157.5h1M63 157.5h1M66 157.5h2M61 158.5h1M65 158.5h2M68 158.5h1M61 159.5h3M67 159.5h1M58 160.5h1M66 160.5h2M63 161.5h1M66 161.5h1M57 162.5h1M63 162.5h1M65 162.5h3M57 163.5h1M64 163.5h1M57 164.5h1M65 164.5h2M64 166.5h1M62 167.5h2M61 168.5h1M55 169.5h1M61 169.5h1M55 170.5h1M55 171.5h4"/>
<path stroke="#f5c42c" stroke-width="1.15" d="M64 155.5h1M61 156.5h1M65 156.5h1M62 157.5h1M64 157.5h1M67 158.5h1M60 159.5h1M64 159.5h3M59 160.5h1M61 160.5h1M63 160.5h2M59 161.5h4M64 161.5h1M58 162.5h1M61 162.5h2M64 162.5h1M58 163.5h1M62 163.5h1M65 163.5h1M61 164.5h1M63 164.5h2M56 165.5h1M62 165.5h1M64 165.5h1M56 166.5h1M63 166.5h1M56 167.5h1M61 167.5h1M55 168.5h1M60 169.5h1M59 170.5h1"/>
<path stroke="#f37a25" stroke-width="1.15" d="M62 158.5h3M62 160.5h1M58 161.5h1M59 162.5h2M59 163.5h2M63 163.5h1M59 164.5h2M59 165.5h3M63 165.5h1M57 166.5h1M60 166.5h3M56 168.5h1M59 169.5h1M56 170.5h1M58 170.5h1"/>
<path stroke="#e4241c" stroke-width="1.15" d="M60 160.5h1M61 163.5h1M58 164.5h1M62 164.5h1M57 165.5h2M58 166.5h2M57 167.5h4M57 168.5h4M56 169.5h3M57 170.5h1"/>
</g>
<rect x="397.2" y="355" width="229.8" height="229.6" fill="none" stroke="#262626" stroke-width="1.15"/>
<line x1="519.6" y1="355" x2="519.6" y2="584.6" stroke="#000" stroke-width="1.7"/>
<line x1="397.2" y1="465.6" x2="627.0" y2="465.6" stroke="#000" stroke-width="1.7"/>
<path d="M390.6 573.3H397.2M407.5 584.6V590.8" stroke="#262626" stroke-width="1.6" fill="none"/>
<path d="M390.6 532.8H397.2M448.0 584.6V590.8" stroke="#262626" stroke-width="1.6" fill="none"/>
<path d="M390.6 492.4H397.2M488.4 584.6V590.8" stroke="#262626" stroke-width="1.6" fill="none"/>
<path d="M390.6 429.7H397.2M551.1 584.6V590.8" stroke="#262626" stroke-width="1.6" fill="none"/>
<path d="M390.6 376.6H397.2M604.2 584.6V590.8" stroke="#262626" stroke-width="1.6" fill="none"/>
<path d="M394.0 473.5H397.2M507.3 584.6V587.8M394.0 462.5H397.2M518.3 584.6V587.8M394.0 454.7H397.2M526.1 584.6V587.8M394.0 448.6H397.2M532.2 584.6V587.8M394.0 443.6H397.2M537.2 584.6V587.8M394.0 439.4H397.2M541.4 584.6V587.8M394.0 435.8H397.2M545.0 584.6V587.8M394.0 432.6H397.2M548.2 584.6V587.8M394.0 413.7H397.2M567.1 584.6V587.8M394.0 404.4H397.2M576.4 584.6V587.8M394.0 397.7H397.2M583.1 584.6V587.8M394.0 392.6H397.2M588.2 584.6V587.8M394.0 388.4H397.2M592.4 584.6V587.8M394.0 384.8H397.2M596.0 584.6V587.8M394.0 381.7H397.2M599.1 584.6V587.8M394.0 379.0H397.2M601.8 584.6V587.8M394.0 360.6H397.2M620.2 584.6V587.8M394.0 522.5H397.2M458.3 584.6V587.8M394.0 543.1H397.2M437.7 584.6V587.8M394.0 518.6H397.2M462.2 584.6V587.8M394.0 547.0H397.2M433.8 584.6V587.8M394.0 514.0H397.2M466.8 584.6V587.8M394.0 551.6H397.2M429.2 584.6V587.8M392.8 509.1H397.2M471.7 584.6V589.0M392.8 556.5H397.2M424.3 584.6V589.0M394.0 505.0H397.2M475.8 584.6V587.8M394.0 560.6H397.2M420.2 584.6V587.8M394.0 501.0H397.2M479.8 584.6V587.8M394.0 564.6H397.2M416.2 584.6V587.8M394.0 497.7H397.2M483.1 584.6V587.8M394.0 567.9H397.2M412.9 584.6V587.8M394.0 495.0H397.2M485.8 584.6V587.8M394.0 570.6H397.2M410.2 584.6V587.8" stroke="#1c1c1c" stroke-width="1.15" fill="none"/>
<rect x="392.8" y="527.1" width="4.4" height="11.4" fill="#0c0c0c"/>
<path d="M390.4 528.2H397.2M391.2 531.6H397.2M390.4 537.3H397.2" stroke="#0c0c0c" stroke-width="2.2" fill="none"/>
<rect x="442.3" y="584.6" width="10.8" height="3.6" fill="#0c0c0c"/>
<path d="M443.3 584.6V590.4M447.5 584.6V589.6M452.0 584.6V590.4" stroke="#0c0c0c" stroke-width="2.2" fill="none"/>
<text class="a" font-size="8.6" text-anchor="end" fill="#1e1e1e" x="380.2" y="578.7">-10</text>
<text class="a" font-size="8.6" fill="#1e1e1e" x="380.9" y="572.3">3</text>
<text class="a" font-size="8.6" text-anchor="end" fill="#1e1e1e" x="415.1" y="611.2">-10</text>
<text class="a" font-size="8.6" fill="#1e1e1e" x="415.8" y="604.4">3</text>
<text class="a" font-size="8.6" text-anchor="end" fill="#1e1e1e" x="380.6" y="535.7">0</text>
<text class="a" font-size="8.6" text-anchor="middle" fill="#1e1e1e" x="448.4" y="611.2">0</text>
<text class="a" font-size="8.6" text-anchor="end" fill="#1e1e1e" x="380.2" y="497.8">10</text>
<text class="a" font-size="8.6" fill="#1e1e1e" x="380.9" y="491.4">3</text>
<text class="a" font-size="8.6" text-anchor="end" fill="#1e1e1e" x="494.2" y="611.2">10</text>
<text class="a" font-size="8.6" fill="#1e1e1e" x="494.9" y="604.4">3</text>
<text class="a" font-size="8.6" text-anchor="end" fill="#1e1e1e" x="380.2" y="435.1">10</text>
<text class="a" font-size="8.6" fill="#1e1e1e" x="380.9" y="428.7">4</text>
<text class="a" font-size="8.6" text-anchor="end" fill="#1e1e1e" x="556.9" y="611.2">10</text>
<text class="a" font-size="8.6" fill="#1e1e1e" x="557.6" y="604.4">4</text>
<text class="a" font-size="8.6" text-anchor="end" fill="#1e1e1e" x="380.2" y="382.0">10</text>
<text class="a" font-size="8.6" fill="#1e1e1e" x="380.9" y="375.6">5</text>
<text class="a" font-size="8.6" text-anchor="end" fill="#1e1e1e" x="610.0" y="611.2">10</text>
<text class="a" font-size="8.6" fill="#1e1e1e" x="610.7" y="604.4">5</text>
<text class="a" font-size="10.5" fill="#2a2a2a" textLength="117.5" lengthAdjust="spacingAndGlyphs" x="451.9" y="630.8">Comp-Annexin V-FITC-A</text>
<text class="a" font-size="10.5" text-anchor="middle" fill="#2a2a2a" textLength="53" lengthAdjust="spacingAndGlyphs" transform="translate(362.6 469) rotate(-90)">Comp-PI-A</text>
<text class="a" font-size="11.2" fill="#333" textLength="13.2" lengthAdjust="spacingAndGlyphs" x="401.5" y="374.8">Q1</text>
<text class="a" font-size="11.2" fill="#333" textLength="19.3" lengthAdjust="spacingAndGlyphs" x="401.5" y="391.4">0.92</text>
<text class="a" font-size="11.2" text-anchor="end" fill="#333" textLength="13.2" lengthAdjust="spacingAndGlyphs" x="606.5" y="374.8">Q2</text>
<text class="a" font-size="11.2" text-anchor="end" fill="#333" textLength="19.3" lengthAdjust="spacingAndGlyphs" x="606.5" y="391.4">13.2</text>
<text class="a" font-size="11.2" text-anchor="end" fill="#333" textLength="13.2" lengthAdjust="spacingAndGlyphs" x="606.5" y="555.4">Q3</text>
<text class="a" font-size="11.2" text-anchor="end" fill="#333" textLength="19.3" lengthAdjust="spacingAndGlyphs" x="606.5" y="571.8">3.23</text>
<text class="a" font-size="11.2" fill="#333" textLength="13.2" lengthAdjust="spacingAndGlyphs" x="401.5" y="555.4">Q4</text>
<text class="a" font-size="11.2" fill="#333" textLength="19.3" lengthAdjust="spacingAndGlyphs" x="401.5" y="571.8">82.6</text>
<text class="b" font-size="19" textLength="130.1" lengthAdjust="spacingAndGlyphs" x="457.5" y="343.7">SAA (0.5μg/mL)</text>
<g transform="translate(690.8 353.7)" fill="none">
<path stroke="#27348f" stroke-width="1.3" opacity="0.72" d="M67.3 176.1h1.3M84.1 180.6h1.3M86.3 111.7h1.3M90.5 140.0h1.3M82.3 136.4h1.3M55.4 160.5h1.3M97.8 149.2h1.3M101.6 144.7h1.3M68.9 140.8h1.3M54.4 162.4h1.3M100.7 162.6h1.3M99.9 144.7h1.3M57.0 153.4h1.3M61.5 152.4h1.3M72.7 129.3h1.3M70.0 135.9h1.3M55.7 157.2h1.3M71.5 133.5h1.3M72.6 121.2h1.3M67.2 144.6h1.3M70.1 178.6h1.3M103.7 167.6h1.3M76.5 176.7h1.3M97.2 162.0h1.3M61.2 152.3h1.3M68.7 142.0h1.3M71.8 140.7h1.3M69.6 129.2h1.3M101.7 140.4h1.3M86.4 127.2h1.3M63.0 143.8h1.3M94.2 139.0h1.3M91.8 143.4h1.3M59.7 154.1h1.3M71.7 176.9h1.3M76.0 134.7h1.3M108.0 157.1h1.3M65.6 147.8h1.3M87.7 138.0h1.3M67.0 130.3h1.3M74.3 176.7h1.3M115.7 129.7h1.3M76.5 174.7h1.3M84.0 140.3h1.3M63.8 175.3h1.3M99.6 137.4h1.3M91.8 109.9h1.3M61.4 146.3h1.3M116.4 123.2h1.3M82.1 139.2h1.3M85.7 141.5h1.3M89.9 138.7h1.3M110.0 146.4h1.3M105.3 157.7h1.3M104.6 149.1h1.3M79.5 137.4h1.3M84.3 126.7h1.3M65.0 136.4h1.3M59.0 150.2h1.3M55.1 163.1h1.3M67.3 143.8h1.3M75.7 132.5h1.3M62.1 150.5h1.3M113.6 131.9h1.3M76.6 133.6h1.3M83.1 133.0h1.3M79.2 129.0h1.3M106.0 148.3h1.3M74.9 176.2h1.3M102.1 143.8h1.3M69.0 127.9h1.3M78.5 137.2h1.3M66.7 139.7h1.3M56.5 148.1h1.3M72.6 174.8h1.3M65.2 130.2h1.3M96.6 124.1h1.3M76.1 138.6h1.3M99.4 152.5h1.3M122.8 154.1h1.3M123.4 127.8h1.3M127.4 137.2h1.3M86.6 132.5h1.3M136.3 167.0h1.3M113.7 144.6h1.3M119.8 145.2h1.3M112.0 151.9h1.3M79.3 135.4h1.3M102.9 124.3h1.3M126.6 143.8h1.3M109.2 162.0h1.3M109.3 155.3h1.3M105.5 135.5h1.3M120.7 134.8h1.3M100.3 164.3h1.3M134.1 132.3h1.3M110.2 135.4h1.3M86.7 133.4h1.3M77.7 130.7h1.3M119.0 153.5h1.3M106.8 156.0h1.3M80.2 138.1h1.3M112.7 140.2h1.3M99.0 122.9h1.3M108.4 170.8h1.3M97.6 130.2h1.3M91.9 144.3h1.3M85.9 134.4h1.3M127.4 162.8h1.3M74.5 141.1h1.3M83.2 136.2h1.3M112.4 165.1h1.3M106.7 166.5h1.3M136.6 140.2h1.3M117.1 90.4h1.3M121.0 159.3h1.3M114.0 156.3h1.3M80.1 137.7h1.3M107.1 144.1h1.3M118.5 141.8h1.3M97.7 121.4h1.3M109.0 155.1h1.3M80.9 128.3h1.3M126.4 156.4h1.3M77.4 138.1h1.3M92.5 106.0h1.3M102.5 119.1h1.3M83.0 133.3h1.3M105.4 158.1h1.3M116.6 158.8h1.3M113.1 140.3h1.3M73.7 139.2h1.3M101.2 159.5h1.3M90.0 135.1h1.3M104.1 173.2h1.3M128.3 139.5h1.3M90.6 127.0h1.3M122.0 146.5h1.3M86.2 124.5h1.3M97.7 135.7h1.3M109.2 143.4h1.3M101.1 137.8h1.3M103.0 168.9h1.3M108.8 159.2h1.3M106.7 142.4h1.3M107.1 173.0h1.3M81.6 136.5h1.3M109.0 165.5h1.3M94.0 124.7h1.3M89.0 132.7h1.3M136.8 130.4h1.3M134.5 172.9h1.3M104.1 153.6h1.3M102.2 145.1h1.3M93.9 135.5h1.3M110.2 163.0h1.3M71.1 141.8h1.3M91.0 141.6h1.3M103.1 139.6h1.3M112.4 144.2h1.3M101.4 138.5h1.3M130.2 145.0h1.3M108.8 133.2h1.3M119.0 158.5h1.3M110.6 169.8h1.3M97.9 126.8h1.3M96.5 134.0h1.3M104.7 136.9h1.3M96.2 173.0h1.3M106.6 124.9h1.3M92.6 134.9h1.3M84.6 118.2h1.3M100.4 135.3h1.3M105.7 135.4h1.3M86.4 138.4h1.3M113.2 147.7h1.3M114.2 151.2h1.3M100.7 141.2h1.3M85.8 141.5h1.3M93.5 137.9h1.3M82.6 129.0h1.3M126.6 147.9h1.3M123.1 131.5h1.3M100.4 161.0h1.3M89.3 135.6h1.3M93.5 119.4h1.3M95.8 145.6h1.3M122.6 156.2h1.3M93.6 126.3h1.3M99.9 174.6h1.3M140.8 138.5h1.3M84.6 142.1h1.3M92.3 173.6h1.3M129.2 150.3h1.3M139.9 152.6h1.3M112.1 134.7h1.3M103.5 156.5h1.3M109.6 152.5h1.3M120.0 131.8h1.3M115.5 163.3h1.3M102.1 155.2h1.3M103.4 155.7h1.3M143.5 109.6h1.3M82.3 137.8h1.3M121.1 161.9h1.3M115.0 152.3h1.3M108.4 132.9h1.3M77.0 140.0h1.3M130.9 137.1h1.3M111.3 158.6h1.3M102.9 142.4h1.3M89.4 132.5h1.3M108.0 150.1h1.3M83.8 138.5h1.3M75.6 131.7h1.3M105.4 166.4h1.3M101.0 165.9h1.3M108.7 117.8h1.3M101.4 152.6h1.3M101.3 147.2h1.3M120.8 153.6h1.3M109.9 162.6h1.3M98.7 173.1h1.3M102.2 147.9h1.3M124.3 155.1h1.3M131.3 153.9h1.3M116.5 164.8h1.3M102.0 139.8h1.3M112.2 129.4h1.3M127.6 132.9h1.3M114.5 167.4h1.3M101.8 147.6h1.3M105.9 139.4h1.3M104.7 128.8h1.3M112.9 101.9h1.3M104.9 172.4h1.3M109.1 119.0h1.3M96.4 175.3h1.3M125.9 150.1h1.3M87.3 175.4h1.3M109.2 154.0h1.3M106.1 164.3h1.3M92.5 137.6h1.3M111.5 161.9h1.3M137.0 107.7h1.3M101.9 159.5h1.3M124.2 128.4h1.3M97.8 172.7h1.3M119.2 139.7h1.3M117.7 136.8h1.3M108.7 176.6h1.3M123.1 118.4h1.3M112.3 157.9h1.3M105.8 175.7h1.3M106.8 150.8h1.3M115.5 125.5h1.3M129.8 145.1h1.3M82.1 141.8h1.3M119.5 157.0h1.3M148.4 175.7h1.3M103.6 117.2h1.3M114.0 158.8h1.3M99.5 123.5h1.3M97.8 176.0h1.3M122.3 168.2h1.3M102.3 174.7h1.3M89.1 174.0h1.3M110.2 169.0h1.3M104.2 158.2h1.3M98.9 144.7h1.3M95.9 134.8h1.3M137.2 167.0h1.3M106.0 150.0h1.3M109.9 172.8h1.3M121.2 147.8h1.3M100.4 133.6h1.3M104.5 166.5h1.3M124.2 176.4h1.3M120.1 166.9h1.3M100.9 174.2h1.3M103.1 144.6h1.3M111.3 166.4h1.3M110.5 107.9h1.3M97.2 141.8h1.3M101.7 132.8h1.3M108.1 173.2h1.3M104.3 128.0h1.3M97.1 145.5h1.3M97.8 135.3h1.3M114.4 118.3h1.3M95.4 174.3h1.3M120.0 168.8h1.3M110.2 174.4h1.3M106.4 149.3h1.3M95.4 137.9h1.3M102.4 127.5h1.3M116.9 140.3h1.3M90.7 134.6h1.3M91.8 175.1h1.3M134.3 165.4h1.3M104.8 154.5h1.3M111.9 123.5h1.3M112.0 174.5h1.3M100.8 157.6h1.3M102.5 161.9h1.3M135.2 140.6h1.3M105.1 146.5h1.3M104.2 160.4h1.3M102.1 139.0h1.3M103.0 122.7h1.3M106.3 169.6h1.3M127.8 154.8h1.3M104.6 170.3h1.3M111.3 174.5h1.3M106.4 139.6h1.3M94.1 175.3h1.3M107.1 128.0h1.3M100.2 143.5h1.3M98.2 129.4h1.3M106.2 143.1h1.3M97.4 170.8h1.3M100.8 149.9h1.3M100.8 142.8h1.3M94.7 129.6h1.3M120.6 142.8h1.3M119.3 175.5h1.3M92.2 144.5h1.3M103.1 176.2h1.3M105.5 175.2h1.3M102.7 158.1h1.3M114.3 164.5h1.3M87.1 133.6h1.3M99.8 134.3h1.3M96.4 176.1h1.3M100.8 138.8h1.3M108.8 168.2h1.3M90.4 174.1h1.3M96.4 171.7h1.3M118.0 136.3h1.3M103.4 125.1h1.3M106.9 160.0h1.3M107.9 153.3h1.3M152.1 146.0h1.3M120.0 135.1h1.3M123.7 167.9h1.3M109.3 125.0h1.3M124.7 135.0h1.3M96.7 133.0h1.3M188.2 123.7h1.3M102.6 167.3h1.3M88.9 134.4h1.3M108.2 154.7h1.3M89.5 131.7h1.3M95.9 174.6h1.3M121.0 113.6h1.3M158.7 49.4h1.3M159.1 48.3h1.3M194.2 57.4h1.3M145.3 52.4h1.3M194.7 74.4h1.3M151.5 80.3h1.3M199.6 70.9h1.3M91.7 58.0h1.3M162.1 82.1h1.3M200.5 52.4h1.3M123.0 59.7h1.3M144.6 57.6h1.3M138.3 81.5h1.3M122.6 70.3h1.3M139.7 50.0h1.3M134.0 70.9h1.3M127.0 62.2h1.3M135.2 57.5h1.3M210.7 72.7h1.3M226.6 82.6h1.3M199.1 91.8h1.3M139.3 72.4h1.3M162.5 40.7h1.3M146.0 80.2h1.3M125.1 49.4h1.3M145.5 50.5h1.3M178.4 83.6h1.3M127.2 66.8h1.3M154.8 52.0h1.3M193.2 67.6h1.3M145.3 68.4h1.3M129.4 92.2h1.3M188.1 62.8h1.3M173.6 91.4h1.3M193.3 68.5h1.3M144.2 67.2h1.3M138.3 52.8h1.3M168.1 90.1h1.3M146.1 54.8h1.3M134.5 71.6h1.3M138.5 55.0h1.3M137.7 59.6h1.3M189.8 84.4h1.3M163.2 84.6h1.3M157.1 51.1h1.3M149.0 91.6h1.3M202.9 64.2h1.3M141.4 54.2h1.3M143.3 76.4h1.3M133.4 67.8h1.3M186.3 61.2h1.3M124.3 61.5h1.3M171.1 41.7h1.3M186.7 82.9h1.3M192.5 74.3h1.3M129.1 63.8h1.3M196.3 70.4h1.3M177.0 49.9h1.3M134.4 70.4h1.3M186.7 53.4h1.3M187.4 61.0h1.3M129.7 57.0h1.3M132.7 46.1h1.3M157.4 81.7h1.3M146.9 59.5h1.3M138.9 52.2h1.3M139.2 80.7h1.3M134.5 81.3h1.3M148.3 85.9h1.3M153.1 81.5h1.3M161.3 86.4h1.3M177.7 84.7h1.3M139.1 55.9h1.3M139.8 51.8h1.3M212.9 64.7h1.3M154.8 58.5h1.3M183.6 58.9h1.3M196.3 71.5h1.3M139.0 66.7h1.3M158.8 48.8h1.3M194.8 66.2h1.3M187.8 75.5h1.3M130.5 66.9h1.3M214.8 79.9h1.3M212.0 56.3h1.3M165.0 48.5h1.3M143.2 71.5h1.3M113.8 75.0h1.3M200.1 77.6h1.3M209.4 81.8h1.3M144.9 64.9h1.3M176.7 89.0h1.3M126.4 63.4h1.3M130.6 70.2h1.3M204.5 66.9h1.3M190.8 77.2h1.3M171.3 84.9h1.3M168.8 87.3h1.3M191.2 81.2h1.3M173.2 83.8h1.3M176.4 85.9h1.3M196.9 72.9h1.3M200.6 62.8h1.3M138.0 62.1h1.3M124.6 79.8h1.3M181.9 50.6h1.3M149.4 41.3h1.3M179.6 50.1h1.3M188.2 62.6h1.3M191.8 75.0h1.3M182.2 56.6h1.3M199.2 78.9h1.3M196.1 64.9h1.3M138.3 61.1h1.3M125.4 64.3h1.3M179.1 83.3h1.3M134.9 50.1h1.3M200.0 88.7h1.3M140.1 59.0h1.3M143.7 82.0h1.3M172.2 87.0h1.3M138.9 59.8h1.3M192.2 70.0h1.3M144.3 68.9h1.3M136.5 73.2h1.3M206.4 68.8h1.3M130.8 73.9h1.3M181.3 50.8h1.3M146.4 76.6h1.3M206.1 55.8h1.3M186.9 56.7h1.3M196.0 67.9h1.3M191.5 74.4h1.3M129.0 55.1h1.3M143.0 83.0h1.3M202.6 79.5h1.3M159.8 87.5h1.3M182.1 86.8h1.3M203.3 69.1h1.3M136.5 72.5h1.3M195.2 101.4h1.3M169.9 48.2h1.3M145.4 86.3h1.3M212.3 67.2h1.3M148.6 51.0h1.3M196.2 74.3h1.3M161.7 85.0h1.3M184.0 90.1h1.3M151.7 79.7h1.3M190.2 57.9h1.3M205.2 82.3h1.3M194.6 71.0h1.3M163.8 56.9h1.3M145.5 86.7h1.3M194.5 56.1h1.3M170.5 49.5h1.3M195.2 61.6h1.3M138.2 69.4h1.3M189.5 80.5h1.3M166.9 82.6h1.3M161.5 80.2h1.3M176.6 54.4h1.3M190.5 88.0h1.3M132.9 63.2h1.3M140.6 64.5h1.3M175.8 61.7h1.3M184.7 59.4h1.3M163.6 98.5h1.3M161.8 86.6h1.3M178.0 88.5h1.3M126.2 45.8h1.3M178.1 69.5h1.3M185.0 93.6h1.3M210.6 67.8h1.3M145.5 68.9h1.3M200.3 81.7h1.3M183.5 82.4h1.3M204.1 71.9h1.3M201.0 74.7h1.3M153.6 47.7h1.3M165.5 94.3h1.3M175.1 87.6h1.3M131.3 68.0h1.3M138.8 68.7h1.3M211.9 65.4h1.3M130.0 69.9h1.3M161.1 43.2h1.3M172.6 73.3h1.3M159.1 80.9h1.3M140.0 78.3h1.3M136.5 75.1h1.3M136.2 66.7h1.3M126.9 87.3h1.3M206.8 70.2h1.3M147.6 89.0h1.3M209.8 70.1h1.3M195.6 62.8h1.3M162.0 78.7h1.3M139.7 47.8h1.3M194.9 77.7h1.3M129.6 47.5h1.3M160.7 56.1h1.3M201.3 63.9h1.3M140.2 70.0h1.3M185.0 89.4h1.3M141.1 69.6h1.3M155.7 52.3h1.3M139.0 72.9h1.3M141.0 74.7h1.3M131.2 65.1h1.3M145.0 67.9h1.3M196.7 63.2h1.3M150.1 54.4h1.3M137.3 41.5h1.3M137.6 53.1h1.3M186.8 92.6h1.3M188.5 60.3h1.3M196.6 67.6h1.3M179.4 58.2h1.3M179.1 59.5h1.3M202.5 72.1h1.3M190.7 93.5h1.3M188.5 86.0h1.3M139.7 66.6h1.3M178.3 48.9h1.3M164.6 46.7h1.3M190.1 52.6h1.3M156.5 87.2h1.3M151.7 53.6h1.3M161.2 92.7h1.3M149.8 47.4h1.3M125.6 53.7h1.3M148.1 50.3h1.3M135.3 70.4h1.3M147.1 81.8h1.3M201.5 70.4h1.3M183.5 53.8h1.3M197.7 73.4h1.3M129.2 69.5h1.3M185.8 78.1h1.3M197.7 69.5h1.3M182.9 98.9h1.3M158.5 85.3h1.3M142.2 75.1h1.3M130.3 59.7h1.3M181.3 41.8h1.3M145.7 65.9h1.3M155.9 76.2h1.3M138.9 83.2h1.3M123.0 37.1h1.3M203.3 81.1h1.3M195.3 61.7h1.3M182.4 56.9h1.3M162.4 51.1h1.3M191.3 85.9h1.3M142.1 58.6h1.3M200.3 73.8h1.3M190.0 87.0h1.3M195.7 74.6h1.3M199.5 65.2h1.3M137.4 55.3h1.3M162.3 99.8h1.3M208.8 84.4h1.3M163.9 53.1h1.3M186.8 58.1h1.3M163.4 49.3h1.3M140.8 79.5h1.3M165.6 86.2h1.3M130.6 67.2h1.3M172.9 84.4h1.3M152.5 82.0h1.3M182.0 58.5h1.3M194.5 62.5h1.3M188.2 84.9h1.3M141.7 65.7h1.3M197.2 77.3h1.3M192.8 61.6h1.3M149.4 60.3h1.3M181.9 87.9h1.3M205.2 76.1h1.3M161.8 50.5h1.3M191.5 72.2h1.3M143.0 48.4h1.3M136.0 64.5h1.3M148.6 55.6h1.3M135.7 77.8h1.3M174.2 63.6h1.3M145.8 65.0h1.3M191.3 86.3h1.3M171.9 89.2h1.3M184.0 45.8h1.3M138.8 53.8h1.3M168.5 53.3h1.3M199.7 69.1h1.3M179.4 67.9h1.3M194.5 72.4h1.3M142.3 73.3h1.3M198.2 65.2h1.3M188.8 72.1h1.3M198.8 71.2h1.3M190.3 68.1h1.3M144.0 73.9h1.3M148.8 52.5h1.3M140.7 62.1h1.3M203.3 65.0h1.3M177.2 52.5h1.3M169.7 85.7h1.3M143.8 54.6h1.3M212.2 75.1h1.3M189.0 57.8h1.3M134.8 58.9h1.3M150.2 58.0h1.3M154.9 89.2h1.3M215.6 59.4h1.3M185.0 63.2h1.3M133.4 59.3h1.3M157.5 51.5h1.3M167.1 88.5h1.3M120.9 76.1h1.3M194.7 65.0h1.3M203.1 78.9h1.3M167.8 84.3h1.3M143.1 63.7h1.3M124.1 63.8h1.3M135.6 66.3h1.3M165.0 75.2h1.3M171.0 104.9h1.3M124.7 73.8h1.3M160.7 50.0h1.3M199.9 59.3h1.3M137.7 58.1h1.3M192.9 86.3h1.3M170.9 84.4h1.3M195.4 52.0h1.3M137.3 76.8h1.3M178.8 90.0h1.3M156.0 47.1h1.3M157.1 51.8h1.3M152.0 61.4h1.3M204.1 63.0h1.3M129.8 82.0h1.3M156.7 55.9h1.3M146.9 53.2h1.3M163.2 93.0h1.3M154.3 80.1h1.3M159.7 84.2h1.3M152.1 51.8h1.3M150.9 45.2h1.3M203.4 77.7h1.3M169.9 88.6h1.3M146.7 56.2h1.3M136.1 89.4h1.3M162.5 85.0h1.3M148.3 53.5h1.3M183.2 63.7h1.3M194.9 71.3h1.3M179.8 90.6h1.3M142.1 56.4h1.3M155.0 84.6h1.3M138.7 60.6h1.3M151.5 84.7h1.3M131.1 54.2h1.3M119.4 53.6h1.3M139.2 63.1h1.3M123.6 61.2h1.3M163.2 97.4h1.3M143.2 69.5h1.3M204.7 61.3h1.3M190.7 82.1h1.3M195.8 83.2h1.3M197.7 59.3h1.3M170.1 101.4h1.3M164.7 85.6h1.3M133.5 61.6h1.3M155.8 53.0h1.3M146.7 59.7h1.3M127.1 47.2h1.3M203.8 59.0h1.3M217.9 89.1h1.3M136.4 79.7h1.3M174.2 89.4h1.3M138.2 81.3h1.3M138.3 67.3h1.3M149.7 60.0h1.3M145.4 47.8h1.3M165.2 73.9h1.3M194.5 56.7h1.3M176.5 62.5h1.3M177.8 88.8h1.3M141.9 59.5h1.3M154.4 49.9h1.3M129.0 73.2h1.3M124.1 70.2h1.3M183.7 53.1h1.3M131.8 58.4h1.3M191.8 89.7h1.3M208.5 76.9h1.3M159.5 88.3h1.3M152.8 50.9h1.3M146.0 81.8h1.3M142.9 63.3h1.3M180.6 89.2h1.3M161.4 81.8h1.3M196.5 55.3h1.3M149.8 60.5h1.3M121.9 55.0h1.3M151.6 56.5h1.3M190.7 97.0h1.3M120.7 68.4h1.3M158.8 76.1h1.3M134.9 58.9h1.3M143.2 52.8h1.3M152.8 55.3h1.3M147.1 86.5h1.3M181.2 66.7h1.3M174.1 90.0h1.3M181.0 58.0h1.3M110.8 70.3h1.3M138.8 58.0h1.3M161.1 82.2h1.3M185.1 54.7h1.3M141.9 52.7h1.3M208.5 81.3h1.3M177.6 49.3h1.3M208.7 75.5h1.3M152.8 52.7h1.3M198.0 64.5h1.3M193.5 73.7h1.3M187.3 84.3h1.3M154.5 40.9h1.3M182.3 85.1h1.3M145.7 49.9h1.3M175.3 62.0h1.3M190.8 78.4h1.3M188.3 88.3h1.3M140.2 61.4h1.3M126.0 48.0h1.3M193.7 85.0h1.3M204.2 66.1h1.3M197.7 68.8h1.3M139.0 79.8h1.3M201.4 85.4h1.3M179.4 90.7h1.3M205.1 70.3h1.3M128.9 58.4h1.3M135.7 52.0h1.3M210.8 74.5h1.3M135.7 62.2h1.3M153.5 57.2h1.3M188.0 86.9h1.3M171.1 90.3h1.3M180.5 65.0h1.3M203.7 69.9h1.3M153.6 83.3h1.3M181.6 82.4h1.3M190.8 78.5h1.3M161.0 53.2h1.3M140.6 54.6h1.3M193.6 63.8h1.3M206.1 84.6h1.3M184.7 60.9h1.3M206.8 65.3h1.3M210.9 75.1h1.3M203.4 84.1h1.3M180.3 83.2h1.3M144.0 73.3h1.3M171.4 29.5h1.3M165.7 25.6h1.3M175.4 37.7h1.3M167.3 48.9h1.3M176.7 56.6h1.3M168.2 45.3h1.3M167.6 48.0h1.3M180.2 47.1h1.3M165.2 34.1h1.3M169.8 44.4h1.3M172.6 39.1h1.3M172.6 45.4h1.3M166.0 33.7h1.3M173.1 48.4h1.3M166.0 42.7h1.3M169.5 36.4h1.3M170.7 33.4h1.3M166.8 42.3h1.3M178.1 47.1h1.3M167.7 17.0h1.3M175.4 42.5h1.3M184.5 54.8h1.3M162.4 45.5h1.3M168.9 43.3h1.3M168.2 35.3h1.3M161.4 41.4h1.3M164.5 44.4h1.3M168.6 38.4h1.3M172.0 43.4h1.3M165.6 38.7h1.3M174.1 44.3h1.3M171.6 30.7h1.3M174.4 42.8h1.3M167.1 60.5h1.3M166.6 26.4h1.3M171.0 38.7h1.3M176.1 54.2h1.3M169.8 16.9h1.3M168.6 53.6h1.3M167.9 48.6h1.3M177.8 42.6h1.3M179.0 57.0h1.3M173.7 40.4h1.3M170.8 45.0h1.3M170.1 45.5h1.3M179.1 31.4h1.3M166.3 38.8h1.3M166.8 44.4h1.3M165.5 44.1h1.3M175.3 29.6h1.3M174.5 47.7h1.3M169.7 39.0h1.3M180.6 48.2h1.3M176.3 48.9h1.3M170.6 37.5h1.3M145.0 86.8h1.3M119.1 106.4h1.3M124.5 94.8h1.3M120.1 98.1h1.3M123.4 108.3h1.3M144.9 63.6h1.3M138.4 87.8h1.3M133.9 105.2h1.3M139.9 107.9h1.3M120.4 88.9h1.3M93.3 142.1h1.3M113.1 116.8h1.3M142.5 86.0h1.3M133.5 97.7h1.3M133.0 105.8h1.3M110.8 146.2h1.3M145.5 84.1h1.3M150.4 84.6h1.3M112.9 120.7h1.3M103.5 114.5h1.3M132.2 67.7h1.3M98.8 127.3h1.3M119.4 122.0h1.3M112.1 107.3h1.3M85.0 138.2h1.3M132.1 77.4h1.3M109.8 127.1h1.3M124.2 111.5h1.3M120.2 103.4h1.3M134.7 79.3h1.3M134.3 95.3h1.3M126.0 116.5h1.3M135.4 102.5h1.3M135.7 82.5h1.3M105.3 138.4h1.3M128.4 101.3h1.3M127.9 104.4h1.3M103.8 141.9h1.3M123.8 79.9h1.3M128.0 107.3h1.3M83.2 126.7h1.3M94.5 132.8h1.3M125.8 103.3h1.3M127.4 102.8h1.3M112.2 120.3h1.3M151.2 106.5h1.3M116.3 108.2h1.3M126.1 106.6h1.3M138.9 94.7h1.3M104.4 124.4h1.3M145.6 103.1h1.3M141.6 89.1h1.3M130.6 101.9h1.3M112.1 126.9h1.3M101.4 131.0h1.3M100.3 112.4h1.3M106.2 127.5h1.3M135.1 67.2h1.3M133.1 116.8h1.3M135.9 106.2h1.3M125.4 101.7h1.3M102.7 132.1h1.3M98.2 136.9h1.3M105.0 123.2h1.3M96.9 124.1h1.3M112.7 135.3h1.3M124.1 122.5h1.3M141.9 80.7h1.3M150.8 101.8h1.3M105.9 119.0h1.3M148.4 93.8h1.3M113.2 115.6h1.3M136.6 91.2h1.3M148.0 101.8h1.3M93.4 133.3h1.3M89.4 121.4h1.3M124.4 104.7h1.3M140.1 92.1h1.3M140.0 110.7h1.3M112.7 107.2h1.3M135.7 97.8h1.3M126.5 88.2h1.3M146.8 85.1h1.3M119.2 116.6h1.3M114.0 137.0h1.3M147.5 80.8h1.3M143.3 105.6h1.3M107.1 122.9h1.3M137.0 82.4h1.3M129.8 100.8h1.3M119.2 111.4h1.3M114.8 114.0h1.3M78.5 140.8h1.3M131.2 64.7h1.3M135.8 101.9h1.3M93.4 129.6h1.3M120.9 101.1h1.3M133.8 109.8h1.3M109.1 108.8h1.3M135.9 55.1h1.3M140.4 82.3h1.3M137.9 64.0h1.3M112.3 128.2h1.3M110.7 112.8h1.3M128.5 77.6h1.3M112.1 126.0h1.3M137.2 85.3h1.3M112.2 102.8h1.3M98.0 120.0h1.3M101.0 135.5h1.3M141.4 92.8h1.3M129.0 107.5h1.3M135.5 118.6h1.3M90.2 129.5h1.3M134.8 82.4h1.3M139.1 95.2h1.3M116.7 104.9h1.3M114.4 121.9h1.3M85.9 130.8h1.3M107.5 128.7h1.3M93.8 117.2h1.3M116.3 94.3h1.3M159.6 88.2h1.3M133.7 96.2h1.3M126.3 88.5h1.3M124.2 105.4h1.3M127.7 92.7h1.3M129.0 119.8h1.3M147.4 102.2h1.3M126.2 100.5h1.3M99.0 135.2h1.3M128.8 90.4h1.3M136.4 90.5h1.3M93.6 130.4h1.3M139.9 87.1h1.3M105.1 109.8h1.3M129.6 85.8h1.3M120.2 118.1h1.3M143.7 82.5h1.3M127.0 127.4h1.3M121.2 96.1h1.3M132.8 92.0h1.3M145.4 97.0h1.3M113.9 118.2h1.3M103.8 136.9h1.3M130.2 117.3h1.3M133.6 84.6h1.3M114.5 128.4h1.3M114.6 112.1h1.3M118.4 99.2h1.3M107.8 130.6h1.3M140.7 100.4h1.3M129.2 94.0h1.3M150.7 83.2h1.3M118.5 83.6h1.3M123.0 92.7h1.3M127.3 110.3h1.3M131.1 59.9h1.3M154.1 94.8h1.3M107.7 123.8h1.3M109.7 121.7h1.3M98.6 127.1h1.3M107.0 130.2h1.3M131.1 100.8h1.3M141.1 71.1h1.3M131.9 108.7h1.3M120.7 96.6h1.3M84.1 135.3h1.3M108.3 116.0h1.3M113.0 88.5h1.3M103.2 132.0h1.3M107.3 138.2h1.3M91.9 129.1h1.3M144.2 101.9h1.3M128.3 96.9h1.3M95.5 127.0h1.3M117.0 117.2h1.3M122.1 93.2h1.3M111.8 111.8h1.3M104.6 125.6h1.3M88.7 119.8h1.3M116.2 114.5h1.3M129.5 105.8h1.3M135.2 75.3h1.3M122.6 81.9h1.3M146.4 90.1h1.3M145.2 91.9h1.3M83.0 122.5h1.3M151.0 95.6h1.3M118.6 88.6h1.3M98.2 140.7h1.3M134.6 97.0h1.3M113.6 115.1h1.3M118.6 87.9h1.3M107.4 117.1h1.3M124.4 113.3h1.3M114.2 149.2h1.3M105.5 128.3h1.3M103.0 123.0h1.3M121.1 94.0h1.3M145.2 80.1h1.3M115.5 131.6h1.3M118.3 117.2h1.3M121.6 100.6h1.3M124.2 103.6h1.3M109.4 102.7h1.3M110.1 118.9h1.3M143.4 80.7h1.3M127.8 116.3h1.3M130.8 154.9h1.3M122.2 150.2h1.3M115.3 139.0h1.3M119.5 160.3h1.3M129.8 164.6h1.3M128.9 150.4h1.3M129.5 162.8h1.3M125.4 178.7h1.3M155.4 176.3h1.3M128.3 144.4h1.3M150.0 132.7h1.3M138.5 168.1h1.3M147.7 168.1h1.3M142.5 175.3h1.3M182.2 161.9h1.3M128.1 166.4h1.3M151.6 161.7h1.3M146.8 160.0h1.3M117.7 166.9h1.3M183.7 171.4h1.3M141.0 164.6h1.3M135.2 156.1h1.3M150.8 148.3h1.3M125.4 151.8h1.3M147.4 132.0h1.3M119.1 143.3h1.3M128.8 141.9h1.3M146.5 151.9h1.3M129.5 173.6h1.3M126.6 170.5h1.3M175.6 150.2h1.3M129.8 119.9h1.3M158.3 171.6h1.3M127.1 142.1h1.3M129.6 157.4h1.3M129.5 139.7h1.3M165.5 135.1h1.3M144.6 159.7h1.3M177.1 131.1h1.3M129.6 148.1h1.3M131.6 128.6h1.3M169.7 159.9h1.3M143.7 144.1h1.3M149.5 180.7h1.3M145.4 131.2h1.3M116.4 178.6h1.3M150.4 190.2h1.3M148.8 173.3h1.3M136.3 141.1h1.3M149.1 149.5h1.3M128.4 147.1h1.3M141.8 132.2h1.3M121.9 154.5h1.3M176.3 158.2h1.3M168.9 145.2h1.3M149.3 102.6h1.3M171.0 198.2h1.3M138.6 153.9h1.3M166.4 152.9h1.3M159.0 164.5h1.3M175.5 173.6h1.3M141.6 147.0h1.3M153.6 158.0h1.3M148.4 149.5h1.3M142.5 135.9h1.3M134.8 170.6h1.3M139.9 163.0h1.3M138.1 147.2h1.3M157.2 149.5h1.3M122.6 145.5h1.3M129.0 168.1h1.3M162.7 174.6h1.3M162.3 164.8h1.3M120.9 165.4h1.3M153.9 141.2h1.3M117.7 140.1h1.3M157.0 149.8h1.3M139.6 146.7h1.3M117.3 144.6h1.3M130.0 130.5h1.3M150.7 142.9h1.3M127.2 115.1h1.3M138.9 147.1h1.3M120.7 135.8h1.3M160.7 150.5h1.3M116.4 171.4h1.3M154.0 128.8h1.3M136.1 119.8h1.3M164.5 180.8h1.3M140.9 153.9h1.3M129.6 152.6h1.3M138.6 124.1h1.3M163.8 163.5h1.3M121.3 140.2h1.3M139.0 159.0h1.3M130.3 160.8h1.3M137.6 131.5h1.3M125.2 169.4h1.3M162.4 133.1h1.3M157.8 164.0h1.3M145.2 147.5h1.3M170.3 187.5h1.3M131.5 147.2h1.3M187.5 159.6h1.3M150.0 162.1h1.3M142.3 163.1h1.3M135.1 96.9h1.3M122.1 172.8h1.3M123.1 156.7h1.3M121.6 137.8h1.3M168.4 159.6h1.3M139.1 158.5h1.3M212.6 191.4h1.3M141.4 179.2h1.3M140.4 150.8h1.3M177.9 170.0h1.3M131.7 202.0h1.3M151.1 141.8h1.3M187.6 160.1h1.3M125.3 111.4h1.3M179.7 170.3h1.3M184.9 153.0h1.3M133.9 172.1h1.3M126.6 154.5h1.3M154.6 204.5h1.3M162.9 152.6h1.3M126.9 166.0h1.3M163.4 195.2h1.3M121.5 166.3h1.3M126.7 182.1h1.3M185.0 154.3h1.3M152.4 153.8h1.3M195.3 172.6h1.3M134.3 165.0h1.3M124.9 169.6h1.3M163.8 158.3h1.3M204.8 147.2h1.3M148.9 162.9h1.3M136.1 144.3h1.3M189.4 156.2h1.3M115.5 139.5h1.3M127.3 162.0h1.3M149.6 159.1h1.3M161.2 110.3h1.3M141.5 173.1h1.3M129.4 136.7h1.3M120.9 147.5h1.3M199.6 143.8h1.3M141.7 133.0h1.3M140.6 134.4h1.3M138.8 142.1h1.3M128.2 151.8h1.3M201.9 128.2h1.3M147.6 146.5h1.3M151.4 167.7h1.3M147.6 178.5h1.3M177.1 153.2h1.3M153.2 127.3h1.3M126.0 146.5h1.3M122.3 175.0h1.3M174.6 158.5h1.3M194.3 132.4h1.3M121.9 117.8h1.3M137.2 156.2h1.3M151.5 158.3h1.3M147.4 190.2h1.3M125.1 142.5h1.3M143.4 160.7h1.3M183.6 116.5h1.3M131.8 164.6h1.3M128.6 160.2h1.3M116.3 185.5h1.3M196.3 169.9h1.3M145.5 171.5h1.3M120.5 173.0h1.3M154.9 135.9h1.3M136.2 162.1h1.3M134.1 138.2h1.3M126.0 133.4h1.3M155.6 157.1h1.3M169.6 145.1h1.3M153.0 131.2h1.3M133.7 145.3h1.3M124.5 147.5h1.3M131.4 144.6h1.3M126.8 150.5h1.3M146.8 120.4h1.3M160.1 165.7h1.3M125.0 159.4h1.3M159.1 116.8h1.3M120.0 170.0h1.3M183.4 138.4h1.3M134.2 182.5h1.3M142.5 181.3h1.3M153.7 145.9h1.3M117.1 107.1h1.3M152.2 200.7h1.3M137.0 160.1h1.3M154.4 143.9h1.3M148.6 145.9h1.3M153.8 161.9h1.3M139.0 130.3h1.3M135.4 154.6h1.3M130.8 137.3h1.3M155.2 141.0h1.3M146.7 152.6h1.3M166.1 174.5h1.3M170.0 163.4h1.3M120.4 138.1h1.3M120.9 138.5h1.3M185.7 131.2h1.3M128.6 191.1h1.3M141.9 151.2h1.3M169.4 136.5h1.3M138.8 187.5h1.3M136.9 150.8h1.3M129.7 123.0h1.3M142.2 201.2h1.3M130.5 164.9h1.3M130.1 161.5h1.3M140.4 151.3h1.3M188.4 149.6h1.3M128.1 170.2h1.3M121.4 183.1h1.3M151.7 198.7h1.3M152.7 185.6h1.3M151.5 173.0h1.3M118.3 114.1h1.3M126.2 135.4h1.3M127.0 140.3h1.3M152.8 133.4h1.3M144.7 159.3h1.3M192.0 151.8h1.3M207.2 153.3h1.3M131.1 153.3h1.3M195.2 141.5h1.3M124.8 141.1h1.3M137.3 163.4h1.3M169.0 134.3h1.3M155.7 163.3h1.3M151.2 134.2h1.3M127.0 160.7h1.3M142.9 153.7h1.3M161.9 163.0h1.3M120.6 150.5h1.3M142.1 181.3h1.3M130.3 175.7h1.3M157.8 139.3h1.3M137.6 159.0h1.3M138.6 142.6h1.3M142.3 124.6h1.3M153.9 176.8h1.3M129.1 173.7h1.3M153.7 138.8h1.3M133.1 151.1h1.3M134.0 164.5h1.3M162.2 136.9h1.3M163.9 166.9h1.3M129.0 158.9h1.3M177.8 144.0h1.3M169.3 168.1h1.3M136.4 145.3h1.3M123.4 172.3h1.3M159.4 148.9h1.3M115.6 163.1h1.3M161.0 157.3h1.3M184.3 159.9h1.3M155.8 158.0h1.3M116.3 149.6h1.3M167.5 168.7h1.3M162.3 110.6h1.3M136.9 162.8h1.3M180.2 167.8h1.3M170.9 128.4h1.3M138.7 121.6h1.3"/>
<path stroke="#24409c" stroke-width="1.15" d="M169 42.5h1M164 45.5h1M163 46.5h1M162 47.5h2M170 47.5h2M162 48.5h1M166 48.5h1M172 48.5h1M177 48.5h1M147 50.5h1M166 50.5h2M169 50.5h2M172 50.5h3M166 51.5h1M169 51.5h1M173 51.5h2M160 52.5h1M165 52.5h3M169 52.5h1M173 52.5h1M175 52.5h1M154 53.5h1M159 53.5h2M165 53.5h1M167 53.5h1M172 53.5h1M175 53.5h1M179 53.5h2M147 54.5h1M153 54.5h1M159 54.5h1M164 54.5h2M167 54.5h1M171 54.5h1M173 54.5h1M175 54.5h1M177 54.5h2M180 54.5h1M153 55.5h3M164 55.5h3M172 55.5h1M175 55.5h1M179 55.5h2M135 56.5h2M154 56.5h2M159 56.5h1M167 56.5h2M173 56.5h2M142 57.5h1M148 57.5h2M155 57.5h2M159 57.5h3M166 57.5h1M168 57.5h2M172 57.5h1M175 57.5h1M177 57.5h1M185 57.5h1M141 58.5h1M149 58.5h2M156 58.5h1M158 58.5h2M163 58.5h1M167 58.5h2M170 58.5h3M174 58.5h1M176 58.5h3M185 58.5h1M142 59.5h2M145 59.5h1M149 59.5h1M152 59.5h1M155 59.5h1M158 59.5h1M160 59.5h2M167 59.5h1M169 59.5h1M175 59.5h4M181 59.5h1M144 60.5h3M150 60.5h3M154 60.5h1M157 60.5h4M162 60.5h2M169 60.5h1M173 60.5h1M176 60.5h1M180 60.5h4M144 61.5h1M146 61.5h3M151 61.5h1M153 61.5h2M158 61.5h1M162 61.5h1M165 61.5h1M167 61.5h1M169 61.5h2M178 61.5h2M181 61.5h2M190 61.5h1M139 62.5h1M143 62.5h1M145 62.5h2M149 62.5h1M151 62.5h1M153 62.5h1M158 62.5h1M160 62.5h2M165 62.5h2M172 62.5h2M177 62.5h3M183 62.5h2M192 62.5h1M140 63.5h1M146 63.5h3M151 63.5h3M157 63.5h1M160 63.5h4M167 63.5h2M170 63.5h3M179 63.5h1M181 63.5h1M190 63.5h2M129 64.5h1M141 64.5h1M148 64.5h1M151 64.5h2M155 64.5h3M161 64.5h1M168 64.5h1M171 64.5h2M183 64.5h1M185 64.5h2M188 64.5h5M129 65.5h1M147 65.5h2M152 65.5h4M157 65.5h1M163 65.5h1M166 65.5h1M172 65.5h2M178 65.5h1M185 65.5h1M187 65.5h1M140 66.5h1M143 66.5h2M149 66.5h1M152 66.5h1M155 66.5h1M163 66.5h2M166 66.5h2M172 66.5h1M176 66.5h2M182 66.5h2M187 66.5h2M190 66.5h2M148 67.5h2M164 67.5h1M168 67.5h2M180 67.5h1M182 67.5h2M185 67.5h1M187 67.5h1M190 67.5h1M192 67.5h1M142 68.5h1M147 68.5h2M150 68.5h2M154 68.5h1M169 68.5h1M171 68.5h1M178 68.5h2M182 68.5h2M188 68.5h1M204 68.5h1M139 69.5h1M150 69.5h1M152 69.5h5M158 69.5h1M171 69.5h3M176 69.5h2M181 69.5h1M183 69.5h1M185 69.5h1M188 69.5h2M144 70.5h5M152 70.5h3M158 70.5h1M168 70.5h2M171 70.5h2M176 70.5h2M179 70.5h3M184 70.5h1M188 70.5h3M197 70.5h1M139 71.5h1M144 71.5h2M148 71.5h1M151 71.5h1M153 71.5h1M156 71.5h5M164 71.5h1M169 71.5h1M171 71.5h2M181 71.5h2M187 71.5h2M190 71.5h1M195 71.5h1M143 72.5h1M145 72.5h6M153 72.5h1M155 72.5h2M158 72.5h1M175 72.5h1M182 72.5h1M185 72.5h1M189 72.5h2M137 73.5h1M141 73.5h1M147 73.5h1M150 73.5h1M152 73.5h3M156 73.5h2M162 73.5h1M164 73.5h1M170 73.5h1M174 73.5h3M183 73.5h4M189 73.5h1M130 74.5h1M134 74.5h1M141 74.5h1M148 74.5h1M150 74.5h2M154 74.5h5M160 74.5h2M168 74.5h1M170 74.5h1M182 74.5h1M186 74.5h1M133 75.5h2M146 75.5h1M148 75.5h1M151 75.5h1M158 75.5h1M160 75.5h1M167 75.5h2M170 75.5h1M174 75.5h1M177 75.5h1M182 75.5h1M185 75.5h1M139 76.5h1M141 76.5h1M145 76.5h1M147 76.5h1M149 76.5h2M154 76.5h1M159 76.5h2M162 76.5h1M164 76.5h1M167 76.5h4M172 76.5h1M180 76.5h3M185 76.5h1M196 76.5h1M141 77.5h1M150 77.5h2M154 77.5h1M157 77.5h1M159 77.5h1M164 77.5h5M171 77.5h1M176 77.5h3M182 77.5h1M193 77.5h1M141 78.5h1M149 78.5h1M154 78.5h5M160 78.5h1M162 78.5h1M166 78.5h1M169 78.5h1M172 78.5h1M178 78.5h3M182 78.5h3M194 78.5h1M149 79.5h2M153 79.5h3M166 79.5h2M169 79.5h1M171 79.5h5M177 79.5h2M180 79.5h1M193 79.5h2M150 80.5h1M156 80.5h1M158 80.5h1M162 80.5h1M164 80.5h2M171 80.5h1M174 80.5h1M176 80.5h1M179 80.5h1M181 80.5h2M194 80.5h1M146 81.5h1M155 81.5h1M166 81.5h2M170 81.5h1M172 81.5h2M175 81.5h1M180 81.5h1M193 81.5h2M150 82.5h2M154 82.5h1M156 82.5h1M158 82.5h1M168 82.5h1M171 82.5h1M175 82.5h1M180 82.5h1M192 82.5h1M194 82.5h1M139 83.5h1M152 83.5h1M154 83.5h1M156 83.5h1M158 83.5h1M160 83.5h3M167 83.5h1M174 83.5h2M184 83.5h2M193 83.5h2M139 84.5h1M157 84.5h1M166 84.5h1M176 84.5h1M182 84.5h1M184 84.5h2M190 84.5h1M174 85.5h2M166 86.5h1M178 87.5h1M189 88.5h1M121 95.5h1M120 97.5h1M124 110.5h1M103 124.5h1M95 125.5h1M96 126.5h1M91 127.5h1M92 132.5h1M110 132.5h2M110 133.5h1M85 135.5h3M87 136.5h2M92 136.5h1M85 137.5h1M88 137.5h1M91 137.5h1M85 138.5h1M88 138.5h1M90 138.5h2M93 138.5h1M75 139.5h1M87 139.5h2M94 139.5h1M69 140.5h1M75 140.5h1M81 140.5h2M87 140.5h3M94 140.5h1M96 140.5h1M69 141.5h2M78 141.5h1M80 141.5h1M86 141.5h1M88 141.5h1M91 141.5h3M95 141.5h2M99 141.5h1M70 142.5h1M75 142.5h1M78 142.5h1M81 142.5h2M85 142.5h1M88 142.5h1M90 142.5h1M94 142.5h2M99 142.5h1M126 142.5h1M71 143.5h1M73 143.5h1M75 143.5h1M79 143.5h1M81 143.5h1M86 143.5h1M88 143.5h1M94 143.5h1M107 143.5h1M127 143.5h1M69 144.5h1M71 144.5h1M74 144.5h1M81 144.5h2M85 144.5h1M87 144.5h1M89 144.5h1M93 144.5h3M106 144.5h1M69 145.5h1M73 145.5h1M77 145.5h1M79 145.5h1M83 145.5h2M87 145.5h1M89 145.5h1M68 146.5h1M70 146.5h1M81 146.5h1M89 146.5h1M92 146.5h1M101 146.5h1M67 147.5h2M89 147.5h2M95 147.5h1M97 147.5h2M65 148.5h2M68 148.5h1M87 148.5h2M90 148.5h3M94 148.5h3M98 148.5h1M103 148.5h1M105 148.5h1M64 149.5h2M86 149.5h1M88 149.5h1M91 149.5h1M93 149.5h3M102 149.5h2M67 150.5h1M81 150.5h1M87 150.5h1M90 150.5h3M94 150.5h1M96 150.5h1M98 150.5h1M103 150.5h1M98 151.5h1M101 151.5h3M64 152.5h1M95 152.5h2M104 152.5h1M106 152.5h3M62 153.5h1M64 153.5h1M96 153.5h2M101 153.5h2M60 154.5h2M63 154.5h1M99 154.5h3M60 155.5h1M96 155.5h1M98 155.5h3M59 156.5h1M93 156.5h2M96 156.5h1M99 156.5h2M104 156.5h2M56 157.5h1M96 157.5h1M99 157.5h1M96 158.5h1M98 158.5h2M56 159.5h1M96 159.5h1M56 160.5h2M95 160.5h1M97 160.5h3M101 160.5h2M108 160.5h1M90 161.5h1M96 161.5h3M104 161.5h2M128 161.5h1M131 161.5h1M56 162.5h1M92 162.5h2M95 162.5h1M103 162.5h4M113 162.5h2M130 162.5h2M91 163.5h2M95 163.5h3M103 163.5h2M107 163.5h1M127 163.5h2M56 164.5h1M94 164.5h3M98 164.5h1M102 164.5h2M126 164.5h2M96 165.5h2M100 165.5h1M126 165.5h2M55 166.5h1M92 166.5h1M97 166.5h5M95 167.5h1M98 167.5h2M126 167.5h1M93 168.5h1M95 168.5h3M100 168.5h1M100 169.5h1M102 169.5h1M109 169.5h1M126 169.5h1M99 170.5h2M102 170.5h1M109 170.5h1M84 171.5h1M86 171.5h1M90 171.5h1M94 171.5h2M101 171.5h3M91 172.5h1M94 172.5h1M102 172.5h2M77 173.5h2M85 173.5h1M87 173.5h2M90 173.5h2M93 173.5h1M101 173.5h2M53 174.5h1M68 174.5h1M70 174.5h1M74 174.5h1M77 174.5h1M79 174.5h1M81 174.5h1M83 174.5h2M86 174.5h2M93 174.5h1M96 174.5h1M82 175.5h1M90 175.5h1M93 175.5h1"/>
<path stroke="#2860b8" stroke-width="1.15" d="M171 50.5h1M170 51.5h2M175 51.5h1M171 52.5h2M174 52.5h1M173 53.5h1M179 54.5h1M169 55.5h1M171 55.5h1M165 56.5h2M169 56.5h4M164 57.5h2M170 57.5h2M174 57.5h1M155 58.5h1M160 58.5h1M164 58.5h2M175 58.5h1M156 59.5h1M159 59.5h1M163 59.5h3M171 59.5h2M156 60.5h1M165 60.5h1M172 60.5h1M155 61.5h1M159 61.5h1M168 61.5h1M171 61.5h2M148 62.5h1M155 62.5h1M164 62.5h1M167 62.5h4M191 62.5h1M149 63.5h2M154 63.5h1M156 63.5h1M165 63.5h1M169 63.5h1M177 63.5h2M153 64.5h1M158 64.5h2M162 64.5h6M176 64.5h3M151 65.5h1M158 65.5h1M160 65.5h2M165 65.5h1M167 65.5h5M176 65.5h1M188 65.5h1M191 65.5h1M148 66.5h1M150 66.5h1M157 66.5h6M168 66.5h1M170 66.5h2M184 66.5h3M151 67.5h1M153 67.5h1M155 67.5h4M161 67.5h1M163 67.5h1M170 67.5h1M172 67.5h5M186 67.5h1M152 68.5h2M156 68.5h2M159 68.5h8M170 68.5h1M172 68.5h5M149 69.5h1M161 69.5h1M163 69.5h1M166 69.5h5M174 69.5h1M182 69.5h1M150 70.5h2M157 70.5h1M161 70.5h2M164 70.5h2M170 70.5h1M174 70.5h2M178 70.5h1M185 70.5h2M150 71.5h1M155 71.5h1M161 71.5h3M165 71.5h4M175 71.5h1M178 71.5h1M184 71.5h3M159 72.5h3M163 72.5h1M167 72.5h1M169 72.5h2M176 72.5h2M180 72.5h1M184 72.5h1M149 73.5h1M163 73.5h1M167 73.5h3M180 73.5h2M149 74.5h1M152 74.5h1M173 74.5h2M176 74.5h1M178 74.5h1M180 74.5h2M152 75.5h2M172 75.5h2M176 75.5h1M178 75.5h2M153 76.5h1M161 76.5h1M173 76.5h1M175 76.5h2M178 76.5h1M162 77.5h2M172 77.5h2M175 77.5h1M163 78.5h2M167 78.5h1M175 78.5h2M163 79.5h1M168 79.5h1M170 79.5h1M181 79.5h2M167 80.5h3M168 81.5h1M183 83.5h1M174 84.5h1M76 143.5h2M73 144.5h1M75 144.5h1M77 144.5h1M79 144.5h2M74 145.5h3M80 145.5h2M85 145.5h2M88 145.5h1M71 146.5h2M76 146.5h1M78 146.5h2M83 146.5h6M70 147.5h3M80 147.5h1M82 147.5h3M86 147.5h1M91 147.5h2M96 147.5h1M69 148.5h3M73 148.5h2M80 148.5h4M86 148.5h1M68 149.5h2M71 149.5h1M81 149.5h3M85 149.5h1M89 149.5h1M66 150.5h1M68 150.5h1M70 150.5h1M75 150.5h1M80 150.5h1M82 150.5h3M88 150.5h1M95 150.5h1M102 150.5h1M67 151.5h1M86 151.5h4M91 151.5h3M95 151.5h3M65 152.5h1M87 152.5h8M65 153.5h2M85 153.5h1M88 153.5h2M93 153.5h2M62 154.5h1M88 154.5h1M90 154.5h1M92 154.5h2M95 154.5h2M63 155.5h1M86 155.5h1M89 155.5h3M94 155.5h2M97 155.5h1M60 156.5h1M88 156.5h3M92 156.5h1M95 156.5h1M59 157.5h1M92 157.5h1M95 157.5h1M59 158.5h1M91 158.5h1M94 158.5h1M97 158.5h1M59 159.5h1M89 159.5h1M91 159.5h1M94 159.5h2M97 159.5h1M58 160.5h1M91 160.5h1M94 160.5h1M58 161.5h1M89 161.5h1M92 161.5h2M89 162.5h1M107 162.5h1M57 163.5h1M88 164.5h3M92 164.5h1M56 165.5h1M81 165.5h1M87 165.5h2M91 165.5h4M84 166.5h1M86 166.5h1M88 166.5h2M93 166.5h2M55 167.5h1M87 167.5h2M90 167.5h3M94 167.5h1M87 168.5h3M94 168.5h1M98 168.5h1M81 169.5h1M84 169.5h3M88 169.5h1M90 169.5h2M94 169.5h2M98 169.5h1M83 170.5h2M89 170.5h2M92 170.5h4M80 171.5h2M83 171.5h1M87 171.5h3M91 171.5h3M74 172.5h4M80 172.5h2M83 172.5h1M87 172.5h2M71 173.5h1M76 173.5h1M79 173.5h4M63 174.5h4M80 174.5h1M82 174.5h1"/>
<path stroke="#2c8fd2" stroke-width="1.15" d="M171 60.5h1M150 62.5h1M160 64.5h1M173 66.5h1M152 67.5h1M159 67.5h1M162 67.5h1M159 69.5h2M165 69.5h1M163 70.5h1M166 70.5h1M174 71.5h1M176 71.5h2M179 71.5h1M168 72.5h1M178 72.5h2M178 73.5h2M175 75.5h1M180 75.5h1M174 77.5h1M86 144.5h1M72 145.5h1M73 146.5h2M74 147.5h1M76 147.5h1M78 147.5h2M75 148.5h4M70 149.5h1M72 149.5h2M75 149.5h2M78 149.5h3M71 150.5h2M74 150.5h1M76 150.5h1M78 150.5h2M86 150.5h1M68 151.5h1M70 151.5h2M73 151.5h1M77 151.5h1M80 151.5h4M66 152.5h5M81 152.5h1M83 152.5h4M68 153.5h1M74 153.5h1M82 153.5h3M86 153.5h2M90 153.5h1M64 154.5h2M83 154.5h3M87 154.5h1M94 154.5h1M64 155.5h1M78 155.5h1M84 155.5h2M87 155.5h2M92 155.5h1M62 156.5h2M84 156.5h1M86 156.5h1M91 156.5h1M60 157.5h1M62 157.5h1M83 157.5h4M88 157.5h3M60 158.5h1M80 158.5h2M86 158.5h5M93 158.5h1M60 159.5h1M88 159.5h1M90 159.5h1M93 159.5h1M59 160.5h1M83 160.5h1M87 160.5h4M92 160.5h2M91 161.5h1M58 162.5h2M88 162.5h1M91 162.5h1M84 163.5h1M86 163.5h4M82 164.5h1M86 164.5h2M57 165.5h1M83 165.5h1M90 165.5h1M80 166.5h4M85 166.5h1M87 166.5h1M90 166.5h2M80 167.5h2M83 167.5h1M85 167.5h2M82 168.5h1M84 168.5h1M90 168.5h1M80 169.5h1M83 169.5h1M92 169.5h2M80 170.5h2M85 170.5h4M91 170.5h1M76 171.5h4M82 171.5h1M72 172.5h2M78 172.5h2M82 172.5h1M66 173.5h1M68 173.5h1M61 174.5h2"/>
<path stroke="#38bcd6" stroke-width="1.15" d="M75 147.5h1M77 147.5h1M79 148.5h1M74 149.5h1M77 149.5h1M73 150.5h1M77 150.5h1M85 150.5h1M69 151.5h1M72 151.5h1M74 151.5h3M78 151.5h2M84 151.5h2M71 152.5h1M76 152.5h1M78 152.5h1M80 152.5h1M82 152.5h1M67 153.5h1M69 153.5h3M73 153.5h1M77 153.5h1M79 153.5h3M66 154.5h5M72 154.5h1M74 154.5h1M79 154.5h4M86 154.5h1M66 155.5h2M75 155.5h1M79 155.5h1M81 155.5h1M83 155.5h1M64 156.5h1M73 156.5h1M80 156.5h1M82 156.5h1M85 156.5h1M87 156.5h1M61 157.5h1M63 157.5h2M82 157.5h1M61 158.5h3M82 158.5h4M81 159.5h2M85 159.5h3M60 160.5h1M85 160.5h2M59 161.5h1M84 161.5h1M86 161.5h3M85 162.5h3M82 163.5h2M85 163.5h1M81 164.5h1M79 165.5h1M82 165.5h1M84 165.5h2M78 166.5h2M82 167.5h1M84 167.5h1M78 168.5h4M83 168.5h1M86 168.5h1M79 169.5h1M71 170.5h1M74 170.5h1M79 170.5h1M82 170.5h1M53 171.5h1M74 171.5h1M68 172.5h2M71 172.5h1M67 173.5h1M69 173.5h2M54 174.5h1"/>
<path stroke="#4cc9a0" stroke-width="1.15" d="M72 152.5h3M77 152.5h1M79 152.5h1M72 153.5h1M75 153.5h2M71 154.5h1M73 154.5h1M75 154.5h4M65 155.5h1M68 155.5h3M72 155.5h1M76 155.5h2M80 155.5h1M65 156.5h2M68 156.5h1M74 156.5h2M77 156.5h3M81 156.5h1M65 157.5h2M72 157.5h1M75 157.5h3M79 157.5h3M64 158.5h2M69 158.5h1M73 158.5h1M76 158.5h4M61 159.5h5M75 159.5h1M77 159.5h3M83 159.5h2M61 160.5h2M76 160.5h1M79 160.5h4M84 160.5h1M60 161.5h1M62 161.5h1M81 161.5h3M85 161.5h1M60 162.5h1M77 162.5h1M80 162.5h1M82 162.5h2M59 163.5h1M78 163.5h4M58 164.5h1M75 164.5h1M79 164.5h2M84 164.5h2M76 165.5h1M80 165.5h1M57 166.5h1M76 166.5h1M56 167.5h1M77 167.5h3M55 168.5h1M74 168.5h1M76 168.5h1M73 169.5h2M77 169.5h2M70 170.5h1M76 170.5h3M68 171.5h1M72 171.5h2M64 172.5h4M70 172.5h1M61 173.5h4M56 174.5h1M58 174.5h2"/>
<path stroke="#7fcf52" stroke-width="1.15" d="M71 155.5h1M73 155.5h2M67 156.5h1M69 156.5h4M76 156.5h1M67 157.5h5M73 157.5h2M78 157.5h1M67 158.5h2M70 158.5h3M74 158.5h2M66 159.5h5M72 159.5h3M76 159.5h1M80 159.5h1M63 160.5h2M66 160.5h3M70 160.5h6M77 160.5h2M61 161.5h1M63 161.5h1M65 161.5h1M67 161.5h1M69 161.5h1M71 161.5h10M61 162.5h1M63 162.5h1M66 162.5h1M69 162.5h2M72 162.5h1M74 162.5h1M76 162.5h1M78 162.5h2M81 162.5h1M84 162.5h1M60 163.5h2M63 163.5h1M69 163.5h2M73 163.5h1M75 163.5h2M59 164.5h1M66 164.5h1M70 164.5h2M76 164.5h3M58 165.5h2M71 165.5h2M74 165.5h1M77 165.5h2M70 166.5h6M77 166.5h1M57 167.5h1M70 167.5h1M72 167.5h1M74 167.5h3M56 168.5h1M71 168.5h2M75 168.5h1M77 168.5h1M55 169.5h1M69 169.5h1M71 169.5h2M75 169.5h2M54 170.5h2M67 170.5h3M72 170.5h2M75 170.5h1M54 171.5h1M65 171.5h3M69 171.5h3M54 172.5h1M63 172.5h1M54 173.5h1M60 173.5h1M55 174.5h1M57 174.5h1"/>
<path stroke="#c4dc3a" stroke-width="1.15" d="M66 158.5h1M71 159.5h1M65 160.5h1M69 160.5h1M64 161.5h1M66 161.5h1M68 161.5h1M70 161.5h1M62 162.5h1M64 162.5h1M68 162.5h1M71 162.5h1M73 162.5h1M75 162.5h1M64 163.5h1M67 163.5h1M71 163.5h2M74 163.5h1M77 163.5h1M60 164.5h2M64 164.5h1M67 164.5h1M69 164.5h1M72 164.5h3M60 165.5h1M69 165.5h2M73 165.5h1M75 165.5h1M58 166.5h2M69 167.5h1M71 167.5h1M73 167.5h1M69 168.5h2M73 168.5h1M56 169.5h1M65 169.5h4M70 169.5h1M55 171.5h1M63 171.5h1M55 172.5h1M60 172.5h3M55 173.5h1M59 173.5h1"/>
<path stroke="#f5c42c" stroke-width="1.15" d="M65 162.5h1M67 162.5h1M62 163.5h1M65 163.5h2M62 164.5h2M68 164.5h1M61 165.5h1M64 165.5h1M66 165.5h3M61 166.5h1M66 166.5h4M58 167.5h1M67 167.5h2M58 168.5h2M66 168.5h1M68 168.5h1M56 170.5h1M64 170.5h3M58 173.5h1"/>
<path stroke="#f37a25" stroke-width="1.15" d="M68 163.5h1M65 164.5h1M62 165.5h2M65 165.5h1M60 166.5h1M63 166.5h1M59 167.5h2M63 167.5h1M65 167.5h2M57 168.5h1M67 168.5h1M63 169.5h2M63 170.5h1M62 171.5h1M64 171.5h1M56 173.5h2"/>
<path stroke="#e4241c" stroke-width="1.15" d="M62 166.5h1M64 166.5h2M61 167.5h2M64 167.5h1M60 168.5h6M57 169.5h6M57 170.5h6M56 171.5h6M56 172.5h4"/>
</g>
<rect x="690.8" y="353.7" width="229.8" height="229.6" fill="none" stroke="#262626" stroke-width="1.15"/>
<line x1="813.1999999999999" y1="353.7" x2="813.1999999999999" y2="583.3" stroke="#000" stroke-width="1.7"/>
<line x1="690.8" y1="464.29999999999995" x2="920.5999999999999" y2="464.29999999999995" stroke="#000" stroke-width="1.7"/>
<path d="M684.2 572.0H690.8M701.1 583.3V589.5" stroke="#262626" stroke-width="1.6" fill="none"/>
<path d="M684.2 531.5H690.8M741.6 583.3V589.5" stroke="#262626" stroke-width="1.6" fill="none"/>
<path d="M684.2 491.1H690.8M782.0 583.3V589.5" stroke="#262626" stroke-width="1.6" fill="none"/>
<path d="M684.2 428.4H690.8M844.7 583.3V589.5" stroke="#262626" stroke-width="1.6" fill="none"/>
<path d="M684.2 375.3H690.8M897.8 583.3V589.5" stroke="#262626" stroke-width="1.6" fill="none"/>
<path d="M687.6 472.2H690.8M800.9 583.3V586.5M687.6 461.2H690.8M811.9 583.3V586.5M687.6 453.4H690.8M819.7 583.3V586.5M687.6 447.3H690.8M825.8 583.3V586.5M687.6 442.3H690.8M830.8 583.3V586.5M687.6 438.1H690.8M835.0 583.3V586.5M687.6 434.5H690.8M838.6 583.3V586.5M687.6 431.3H690.8M841.8 583.3V586.5M687.6 412.4H690.8M860.7 583.3V586.5M687.6 403.1H690.8M870.0 583.3V586.5M687.6 396.4H690.8M876.7 583.3V586.5M687.6 391.3H690.8M881.8 583.3V586.5M687.6 387.1H690.8M886.0 583.3V586.5M687.6 383.5H690.8M889.6 583.3V586.5M687.6 380.4H690.8M892.7 583.3V586.5M687.6 377.7H690.8M895.4 583.3V586.5M687.6 359.3H690.8M913.8 583.3V586.5M687.6 521.2H690.8M751.9 583.3V586.5M687.6 541.8H690.8M731.3 583.3V586.5M687.6 517.3H690.8M755.8 583.3V586.5M687.6 545.7H690.8M727.4 583.3V586.5M687.6 512.7H690.8M760.4 583.3V586.5M687.6 550.3H690.8M722.8 583.3V586.5M686.4 507.8H690.8M765.3 583.3V587.7M686.4 555.2H690.8M717.9 583.3V587.7M687.6 503.7H690.8M769.4 583.3V586.5M687.6 559.3H690.8M713.8 583.3V586.5M687.6 499.7H690.8M773.4 583.3V586.5M687.6 563.3H690.8M709.8 583.3V586.5M687.6 496.4H690.8M776.7 583.3V586.5M687.6 566.6H690.8M706.5 583.3V586.5M687.6 493.7H690.8M779.4 583.3V586.5M687.6 569.3H690.8M703.8 583.3V586.5" stroke="#1c1c1c" stroke-width="1.15" fill="none"/>
<rect x="686.4" y="525.8" width="4.4" height="11.4" fill="#0c0c0c"/>
<path d="M684.0 526.9H690.8M684.8 530.3H690.8M684.0 536.0H690.8" stroke="#0c0c0c" stroke-width="2.2" fill="none"/>
<rect x="735.9" y="583.3" width="10.8" height="3.6" fill="#0c0c0c"/>
<path d="M736.9 583.3V589.1M741.1 583.3V588.3M745.6 583.3V589.1" stroke="#0c0c0c" stroke-width="2.2" fill="none"/>
<text class="a" font-size="8.6" text-anchor="end" fill="#1e1e1e" x="673.8" y="577.4">-10</text>
<text class="a" font-size="8.6" fill="#1e1e1e" x="674.5" y="571.0">3</text>
<text class="a" font-size="8.6" text-anchor="end" fill="#1e1e1e" x="708.7" y="609.9">-10</text>
<text class="a" font-size="8.6" fill="#1e1e1e" x="709.4" y="603.1">3</text>
<text class="a" font-size="8.6" text-anchor="end" fill="#1e1e1e" x="674.2" y="534.4">0</text>
<text class="a" font-size="8.6" text-anchor="middle" fill="#1e1e1e" x="742.0" y="609.9">0</text>
<text class="a" font-size="8.6" text-anchor="end" fill="#1e1e1e" x="673.8" y="496.5">10</text>
<text class="a" font-size="8.6" fill="#1e1e1e" x="674.5" y="490.1">3</text>
<text class="a" font-size="8.6" text-anchor="end" fill="#1e1e1e" x="787.8" y="609.9">10</text>
<text class="a" font-size="8.6" fill="#1e1e1e" x="788.5" y="603.1">3</text>
<text class="a" font-size="8.6" text-anchor="end" fill="#1e1e1e" x="673.8" y="433.8">10</text>
<text class="a" font-size="8.6" fill="#1e1e1e" x="674.5" y="427.4">4</text>
<text class="a" font-size="8.6" text-anchor="end" fill="#1e1e1e" x="850.5" y="609.9">10</text>
<text class="a" font-size="8.6" fill="#1e1e1e" x="851.2" y="603.1">4</text>
<text class="a" font-size="8.6" text-anchor="end" fill="#1e1e1e" x="673.8" y="380.7">10</text>
<text class="a" font-size="8.6" fill="#1e1e1e" x="674.5" y="374.3">5</text>
<text class="a" font-size="8.6" text-anchor="end" fill="#1e1e1e" x="903.6" y="609.9">10</text>
<text class="a" font-size="8.6" fill="#1e1e1e" x="904.3" y="603.1">5</text>
<text class="a" font-size="10.5" fill="#2a2a2a" textLength="117.5" lengthAdjust="spacingAndGlyphs" x="745.5" y="629.5">Comp-Annexin V-FITC-A</text>
<text class="a" font-size="10.5" text-anchor="middle" fill="#2a2a2a" textLength="53" lengthAdjust="spacingAndGlyphs" transform="translate(656.2 467.7) rotate(-90)">Comp-PI-A</text>
<text class="a" font-size="11.2" fill="#333" textLength="13.2" lengthAdjust="spacingAndGlyphs" x="695.1" y="373.5">Q1</text>
<text class="a" font-size="11.2" fill="#333" textLength="19.3" lengthAdjust="spacingAndGlyphs" x="695.1" y="390.1">1.19</text>
<text class="a" font-size="11.2" text-anchor="end" fill="#333" textLength="13.2" lengthAdjust="spacingAndGlyphs" x="900.1" y="373.5">Q2</text>
<text class="a" font-size="11.2" text-anchor="end" fill="#333" textLength="19.3" lengthAdjust="spacingAndGlyphs" x="900.1" y="390.1">20.3</text>
<text class="a" font-size="11.2" text-anchor="end" fill="#333" textLength="13.2" lengthAdjust="spacingAndGlyphs" x="900.1" y="554.1">Q3</text>
<text class="a" font-size="11.2" text-anchor="end" fill="#333" textLength="19.3" lengthAdjust="spacingAndGlyphs" x="900.1" y="570.5">4.03</text>
<text class="a" font-size="11.2" fill="#333" textLength="13.2" lengthAdjust="spacingAndGlyphs" x="695.1" y="554.1">Q4</text>
<text class="a" font-size="11.2" fill="#333" textLength="19.3" lengthAdjust="spacingAndGlyphs" x="695.1" y="570.5">74.5</text>
<text class="b" font-size="19" textLength="115.7" lengthAdjust="spacingAndGlyphs" x="755.5" y="343.2">SAA (1μg/mL)</text>
<clipPath id="d1"><rect x="9.2" y="696.7" width="186.8" height="138.3"/></clipPath>
<rect x="9.2" y="696.7" width="186.8" height="138.3" fill="#03020c"/>
<g clip-path="url(#d1)">
<circle cx="68" cy="700" r="4.3" fill="url(#cs)"/><circle cx="20" cy="719" r="4.3" fill="url(#cs)"/><circle cx="37" cy="707" r="3.1" fill="url(#cd)"/><circle cx="70.5" cy="716" r="5.7" fill="url(#cs)"/><circle cx="95" cy="720" r="5.0" fill="url(#cd)"/><circle cx="117" cy="721" r="4.3" fill="url(#cd)"/><circle cx="136" cy="731" r="4.3" fill="url(#cd)"/><circle cx="80" cy="739" r="6.0" fill="url(#cs)"/><circle cx="162.5" cy="712.5" r="4.3" fill="url(#cs)"/><circle cx="168" cy="707.5" r="3.5" fill="url(#cd)"/><circle cx="180.5" cy="709" r="4.3" fill="url(#cs)"/><circle cx="175" cy="698" r="4.3" fill="url(#cs)"/><circle cx="177" cy="744" r="4.3" fill="url(#cs)"/><circle cx="190.5" cy="750.5" r="4.3" fill="url(#cd)"/><circle cx="50" cy="754" r="5.7" fill="url(#cs)"/><circle cx="54" cy="757.5" r="4.3" fill="url(#cs)"/><circle cx="46" cy="770" r="5.0" fill="url(#cs)"/><circle cx="44" cy="766" r="4.3" fill="url(#cs)"/><circle cx="36" cy="747.5" r="3.1" fill="url(#cd)"/><circle cx="128" cy="757" r="5.0" fill="url(#cs)"/><circle cx="137" cy="755" r="4.3" fill="url(#cs)"/><circle cx="136" cy="768" r="5.1" fill="url(#cs)"/><circle cx="154" cy="776" r="4.3" fill="url(#cs)"/><circle cx="167.5" cy="765" r="4.3" fill="url(#cs)"/><circle cx="168" cy="770" r="4.3" fill="url(#cs)"/><circle cx="170" cy="781" r="6.5" fill="url(#cs)"/><circle cx="168" cy="777" r="5.0" fill="url(#cs)"/><circle cx="121" cy="791" r="5.7" fill="url(#cd)"/><circle cx="125" cy="799" r="5.0" fill="url(#cs)"/><circle cx="174" cy="797" r="4.3" fill="url(#cs)"/><circle cx="157" cy="810" r="5.7" fill="url(#cs)"/><circle cx="156" cy="813" r="4.3" fill="url(#cs)"/><circle cx="32.5" cy="804.5" r="5.0" fill="url(#cd)"/><circle cx="30.5" cy="831" r="4.3" fill="url(#cd)"/><circle cx="170" cy="830" r="4.3" fill="url(#cd)"/><circle cx="191" cy="802.5" r="4.3" fill="url(#cd)"/>
<rect x="111.2" y="749.5" width="75.8" height="55.5" fill="none" stroke="#c4c4c4" stroke-width="1"/>
<line x1="111.2" y1="805" x2="10" y2="835" stroke="#e6e6e6" stroke-width="1" stroke-dasharray="3.2 1.3"/>
<line x1="187" y1="805" x2="195.7" y2="835" stroke="#e6e6e6" stroke-width="1" stroke-dasharray="3.2 1.3"/>
</g>
<clipPath id="d2"><rect x="9.2" y="840" width="186.8" height="140.3"/></clipPath>
<rect x="9.2" y="840" width="186.8" height="140.3" fill="#050430"/>
<g clip-path="url(#d2)">
<circle cx="150" cy="905" r="60" fill="url(#hz)"/>
<circle cx="60" cy="900" r="60" fill="url(#hz)"/>
<ellipse cx="51" cy="862" rx="6.8" ry="9.0" fill="url(#cg)" transform="rotate(-30 51 862)"/><circle cx="74" cy="854.5" r="7.4" fill="url(#cg)"/><circle cx="72.5" cy="889.5" r="7.9" fill="url(#cg)"/><ellipse cx="114.5" cy="910" rx="6.3" ry="7.9" fill="url(#cg)" transform="rotate(-30 114.5 910)"/><circle cx="149" cy="879" r="7.7" fill="url(#cg)"/><circle cx="151" cy="892" r="7.9" fill="url(#cg)"/><circle cx="150" cy="915" r="9.1" fill="url(#cg)"/><circle cx="157.5" cy="925" r="10.3" fill="url(#cg)"/><circle cx="32.5" cy="944" r="10.8" fill="url(#cd)"/><circle cx="30" cy="940" r="6.0" fill="url(#cd)"/><circle cx="36" cy="948" r="6.0" fill="url(#cd)"/><ellipse cx="44" cy="967.5" rx="10.7" ry="7.9" fill="url(#cg)" transform="rotate(0 44 967.5)"/><ellipse cx="165" cy="959" rx="8.4" ry="6.7" fill="url(#cg)" transform="rotate(-20 165 959)"/><circle cx="125" cy="975.5" r="7.2" fill="url(#cg)"/>
<rect x="151" y="970" width="44" height="10.3" fill="#000"/>
</g>
<clipPath id="d3"><rect x="199.6" y="696.7" width="185.6" height="138.3"/></clipPath>
<rect x="199.6" y="696.7" width="185.6" height="138.3" fill="#030316"/>
<g clip-path="url(#d3)">
<circle cx="292.5" cy="711" r="4.3" fill="url(#cs)"/><circle cx="319.5" cy="706" r="3.7" fill="url(#cs)"/><circle cx="327" cy="718" r="3.1" fill="url(#cs)"/><circle cx="312" cy="730.7" r="4.3" fill="url(#cs)"/><circle cx="303.7" cy="745.7" r="4.3" fill="url(#cs)"/><ellipse cx="321" cy="752.5" rx="8.0" ry="5.7" fill="url(#cs)" transform="rotate(25 321 752.5)"/><circle cx="224" cy="733.7" r="4.3" fill="url(#cs)"/><circle cx="256" cy="732.5" r="4.3" fill="url(#cs)"/><circle cx="225" cy="753" r="3.7" fill="url(#cs)"/><circle cx="227" cy="765" r="3.7" fill="url(#cs)"/><circle cx="247" cy="809" r="4.3" fill="url(#cs)"/><circle cx="356" cy="704.5" r="3.5" fill="url(#cd)"/><circle cx="367" cy="707.5" r="4.3" fill="url(#cs)"/><circle cx="376" cy="701" r="3.5" fill="url(#cd)"/><circle cx="375.5" cy="714" r="4.3" fill="url(#cs)"/><circle cx="373.7" cy="770" r="3.7" fill="url(#cs)"/><circle cx="366" cy="777" r="4.3" fill="url(#cs)"/><circle cx="360" cy="783.7" r="4.3" fill="url(#cs)"/><circle cx="360.7" cy="789.5" r="3.7" fill="url(#cs)"/><circle cx="368" cy="797" r="3.7" fill="url(#cs)"/><circle cx="355" cy="797.5" r="4.3" fill="url(#cs)"/><circle cx="351" cy="798" r="3.5" fill="url(#cd)"/><ellipse cx="307.5" cy="822.5" rx="12.1" ry="7.1" fill="url(#cd)" transform="rotate(0 307.5 822.5)"/><circle cx="311" cy="832.5" r="4.3" fill="url(#cs)"/><circle cx="338.7" cy="698.7" r="3.5" fill="url(#cd)"/><circle cx="206" cy="829" r="2.8" fill="url(#cd)"/>
<rect x="279.2" y="700.7" width="75.8" height="55.5" fill="none" stroke="#74747e" stroke-width="1"/>
<line x1="279.2" y1="756.2" x2="201" y2="833.7" stroke="#e6e6e6" stroke-width="1" stroke-dasharray="3.2 1.3"/>
<line x1="355" y1="756.2" x2="384.5" y2="833.7" stroke="#e6e6e6" stroke-width="1" stroke-dasharray="3.2 1.3"/>
</g>
<clipPath id="d4"><rect x="199.6" y="840" width="185.6" height="140.3"/></clipPath>
<rect x="199.6" y="840" width="185.6" height="140.3" fill="#06063a"/>
<g clip-path="url(#d4)">
<circle cx="290" cy="910" r="90" fill="url(#hz)"/>
<circle cx="298" cy="853.7" r="7.4" fill="url(#cg)"/><ellipse cx="231" cy="866" rx="7.6" ry="8.4" fill="url(#cg)" transform="rotate(0 231 866)"/><circle cx="318" cy="884" r="5.5" fill="url(#cg)"/><circle cx="278.7" cy="916" r="7.4" fill="url(#cg)"/><circle cx="258" cy="952.5" r="7.4" fill="url(#cg)"/><circle cx="298" cy="966" r="8.4" fill="url(#cg)"/><circle cx="306" cy="972" r="8.4" fill="url(#cg)"/>
<rect x="340" y="969.5" width="43.7" height="9.4" fill="#03032a"/>
<line x1="325.5" y1="875" x2="310.5" y2="861.5" stroke="#fff" stroke-width="1.1" marker-end="url(#ah)"/>
<circle cx="317.2" cy="867.6" r="1.3" fill="#fff"/>
<line x1="339.5" y1="906" x2="326" y2="893" stroke="#fff" stroke-width="1.1" marker-end="url(#ah)"/>
<circle cx="332.1" cy="898.9" r="1.3" fill="#fff"/>
<line x1="305" y1="939" x2="291" y2="925.5" stroke="#fff" stroke-width="1.1" marker-end="url(#ah)"/>
<circle cx="297.3" cy="931.6" r="1.3" fill="#fff"/>
<line x1="280" y1="976" x2="266" y2="962" stroke="#fff" stroke-width="1.1" marker-end="url(#ah)"/>
<circle cx="272.3" cy="968.3" r="1.3" fill="#fff"/>
</g>
<clipPath id="d5"><rect x="388.2" y="696.7" width="187.4" height="138.3"/></clipPath>
<rect x="388.2" y="696.7" width="187.4" height="138.3" fill="#060532"/>
<g clip-path="url(#d5)">
<circle cx="391" cy="719" r="4.3" fill="url(#cd)"/><circle cx="478" cy="713" r="3.7" fill="url(#cs)"/><circle cx="498" cy="721.7" r="4.3" fill="url(#cs)"/><circle cx="511" cy="734" r="4.3" fill="url(#cs)"/><circle cx="498.7" cy="740" r="5.1" fill="url(#cs)"/><circle cx="519" cy="745" r="2.8" fill="url(#cd)"/><circle cx="463.7" cy="751.7" r="4.3" fill="url(#cs)"/><circle cx="518" cy="766.7" r="4.3" fill="url(#cs)"/><circle cx="509.5" cy="776" r="3.1" fill="url(#cs)"/><circle cx="507.5" cy="793.7" r="3.7" fill="url(#cs)"/><circle cx="530.5" cy="795.5" r="4.3" fill="url(#cs)"/><circle cx="513.7" cy="807.5" r="4.3" fill="url(#cs)"/><circle cx="483" cy="810.7" r="4.3" fill="url(#cs)"/><circle cx="408.7" cy="800" r="4.3" fill="url(#cs)"/><circle cx="397" cy="820.7" r="4.3" fill="url(#cs)"/><circle cx="434.5" cy="798.7" r="2.8" fill="url(#cd)"/>
<rect x="477.5" y="758.2" width="75.9" height="56.0" fill="none" stroke="#9a9ab0" stroke-width="1.1"/>
<line x1="477.5" y1="814.2" x2="393.7" y2="835" stroke="#e6e6e6" stroke-width="1" stroke-dasharray="3.2 1.3"/>
<line x1="553.4" y1="814.2" x2="571" y2="833.7" stroke="#e6e6e6" stroke-width="1" stroke-dasharray="3.2 1.3"/>
<text class="b" font-size="9" text-anchor="middle" fill="#f2f2f2" textLength="20" lengthAdjust="spacingAndGlyphs" x="553.4" y="826">25μm</text>
<line x1="546.8" y1="828.7" x2="561.8" y2="828.7" stroke="#fff" stroke-width="1.1"/>
</g>
<clipPath id="d6"><rect x="388.2" y="840" width="187.4" height="140.3"/></clipPath>
<rect x="388.2" y="840" width="187.4" height="140.3" fill="#060534"/>
<g clip-path="url(#d6)">
<circle cx="470" cy="900" r="70" fill="url(#hz)"/>
<circle cx="487" cy="860" r="6.5" fill="url(#cg)"/><circle cx="466" cy="885" r="6.0" fill="url(#cg)"/><circle cx="462" cy="928" r="6.5" fill="url(#cg)"/><ellipse cx="518" cy="931.7" rx="8.1" ry="6.2" fill="url(#cg)" transform="rotate(25 518 931.7)"/><ellipse cx="477.5" cy="961" rx="5.2" ry="6.5" fill="url(#cg)" transform="rotate(-35 477.5 961)"/><circle cx="401" cy="970" r="6.5" fill="url(#cg)"/>
<rect x="531" y="966" width="42" height="13.5" fill="#030218"/>
<text class="b" font-size="8.5" text-anchor="middle" fill="#f2f2f2" textLength="19" lengthAdjust="spacingAndGlyphs" x="554.3" y="973">25μm</text>
<line x1="537" y1="975.8" x2="570" y2="975.8" stroke="#fff" stroke-width="1.4"/>
</g>
<clipPath id="f1"><rect x="9.2" y="1015" width="187.5" height="148"/></clipPath>
<rect x="9.2" y="1015" width="187.5" height="148" fill="#02020e"/>
<g clip-path="url(#f1)">
<circle cx="22" cy="1017" r="4.3" fill="url(#cs)"/><circle cx="28.7" cy="1018" r="4.3" fill="url(#cs)"/><circle cx="72" cy="1020.7" r="5.0" fill="url(#cs)"/><circle cx="100.7" cy="1022" r="5.0" fill="url(#cs)"/><circle cx="95" cy="1037.5" r="4.3" fill="url(#cs)"/><circle cx="100" cy="1042.5" r="3.7" fill="url(#cs)"/><circle cx="78" cy="1036" r="2.8" fill="url(#cd)"/><circle cx="132.5" cy="1032.5" r="5.0" fill="url(#cs)"/><circle cx="146" cy="1031" r="5.7" fill="url(#cd)"/><circle cx="139" cy="1026" r="4.3" fill="url(#cd)"/><circle cx="144.5" cy="1047" r="4.3" fill="url(#cs)"/><circle cx="154" cy="1042" r="4.3" fill="url(#cs)"/><circle cx="162.5" cy="1048" r="3.5" fill="url(#cd)"/><circle cx="93" cy="1055" r="5.1" fill="url(#cs)"/><circle cx="66" cy="1060.7" r="3.5" fill="url(#cs)"/><circle cx="113" cy="1071" r="4.3" fill="url(#cs)"/><circle cx="97.5" cy="1079.5" r="5.0" fill="url(#cs)"/><circle cx="135" cy="1073.7" r="4.3" fill="url(#cs)"/><circle cx="133.7" cy="1084.5" r="5.0" fill="url(#cs)"/><circle cx="75.5" cy="1089.5" r="5.7" fill="url(#cs)"/><circle cx="171" cy="1068" r="5.0" fill="url(#cs)"/><circle cx="187.5" cy="1070" r="5.0" fill="url(#cs)"/><circle cx="191" cy="1062.5" r="4.3" fill="url(#cs)"/><circle cx="23" cy="1079.5" r="4.3" fill="url(#cs)"/><circle cx="13" cy="1093" r="5.0" fill="url(#cs)"/><circle cx="38.7" cy="1093" r="4.3" fill="url(#cs)"/><circle cx="25" cy="1100" r="4.3" fill="url(#cs)"/><circle cx="178.7" cy="1098" r="4.3" fill="url(#cd)"/><circle cx="71.7" cy="1105.5" r="5.0" fill="url(#cs)"/><circle cx="88" cy="1113" r="5.0" fill="url(#cs)"/><circle cx="50" cy="1112.5" r="5.0" fill="url(#cs)"/><circle cx="37.5" cy="1114" r="2.8" fill="url(#cs)"/><circle cx="22" cy="1118" r="4.3" fill="url(#cs)"/><circle cx="17" cy="1125" r="5.0" fill="url(#cs)"/><circle cx="10" cy="1120" r="4.3" fill="url(#cs)"/><circle cx="104.5" cy="1118.7" r="5.0" fill="url(#cs)"/><circle cx="103.7" cy="1127.5" r="5.0" fill="url(#cs)"/><circle cx="174" cy="1115" r="5.0" fill="url(#cs)"/><circle cx="14.5" cy="1141" r="5.0" fill="url(#cs)"/><circle cx="30.5" cy="1150" r="5.7" fill="url(#cs)"/><circle cx="45.7" cy="1148.7" r="5.7" fill="url(#cs)"/><circle cx="76" cy="1147" r="4.3" fill="url(#cs)"/><circle cx="99.5" cy="1143.7" r="4.3" fill="url(#cs)"/><circle cx="112.5" cy="1146" r="5.7" fill="url(#cs)"/><circle cx="129.5" cy="1150.7" r="5.7" fill="url(#cs)"/><circle cx="150.7" cy="1158" r="4.3" fill="url(#cs)"/><circle cx="186" cy="1148.7" r="4.3" fill="url(#cd)"/><circle cx="66" cy="1160.7" r="4.3" fill="url(#cs)"/><circle cx="115.7" cy="1161" r="3.5" fill="url(#cs)"/><circle cx="27.5" cy="1158.7" r="4.3" fill="url(#cs)"/>
<rect x="65.5" y="1040.7" width="74.5" height="59.3" fill="none" stroke="#848484" stroke-width="0.85"/>
<line x1="65.5" y1="1100" x2="10" y2="1162.5" stroke="#848484" stroke-width="1"/>
<line x1="140" y1="1100" x2="195.7" y2="1162.5" stroke="#848484" stroke-width="1"/>
</g>
<clipPath id="f2"><rect x="9.2" y="1169.5" width="187.5" height="148.0"/></clipPath>
<rect x="9.2" y="1169.5" width="187.5" height="148.0" fill="#030314"/>
<g clip-path="url(#f2)">
<circle cx="97" cy="1171" r="8.4" fill="url(#cg)"/><circle cx="79.5" cy="1202" r="9.0" fill="url(#cg)"/><circle cx="9" cy="1218" r="7.8" fill="url(#cg)"/><circle cx="129.5" cy="1243" r="7.8" fill="url(#cd)"/><ellipse cx="90" cy="1263.7" rx="11.0" ry="9.6" fill="url(#cg)" transform="rotate(0 90 1263.7)"/><ellipse cx="185" cy="1250" rx="6.3" ry="8.4" fill="url(#cd)" transform="rotate(-35 185 1250)"/><circle cx="181" cy="1277.5" r="9.6" fill="url(#cg)"/><circle cx="35" cy="1290" r="9.6" fill="url(#cg)"/>
</g>
<clipPath id="f3"><rect x="200.5" y="1015" width="186.8" height="148"/></clipPath>
<rect x="200.5" y="1015" width="186.8" height="148" fill="#030318"/>
<g clip-path="url(#f3)">
<circle cx="275" cy="1025" r="4.3" fill="url(#cs)"/><circle cx="308" cy="1020" r="4.3" fill="url(#cs)"/><circle cx="318.7" cy="1028.7" r="5.0" fill="url(#cs)"/><circle cx="338" cy="1030" r="5.0" fill="url(#cs)"/><circle cx="360.7" cy="1023" r="4.3" fill="url(#cs)"/><circle cx="383" cy="1029.5" r="5.0" fill="url(#cs)"/><circle cx="267" cy="1034.5" r="5.0" fill="url(#cs)"/><circle cx="278.7" cy="1033.7" r="4.3" fill="url(#cs)"/><circle cx="327" cy="1038.7" r="5.0" fill="url(#cs)"/><circle cx="335.7" cy="1041" r="5.0" fill="url(#cs)"/><circle cx="316" cy="1043" r="5.0" fill="url(#cs)"/><circle cx="373" cy="1042" r="4.3" fill="url(#cs)"/><circle cx="239" cy="1049" r="4.3" fill="url(#cs)"/><circle cx="260" cy="1049" r="5.0" fill="url(#cs)"/><circle cx="280.5" cy="1047" r="5.7" fill="url(#cs)"/><circle cx="335" cy="1049.5" r="5.0" fill="url(#cs)"/><circle cx="309.5" cy="1050.7" r="4.3" fill="url(#cs)"/><circle cx="248.7" cy="1056" r="4.3" fill="url(#cs)"/><circle cx="246" cy="1063.7" r="5.0" fill="url(#cs)"/><circle cx="254.5" cy="1063.7" r="5.0" fill="url(#cs)"/><circle cx="263" cy="1080" r="5.7" fill="url(#cs)"/><circle cx="275" cy="1077.5" r="5.0" fill="url(#cs)"/><circle cx="284.5" cy="1073.7" r="5.0" fill="url(#cs)"/><circle cx="297.5" cy="1077.5" r="5.7" fill="url(#cs)"/><circle cx="313.7" cy="1083" r="5.0" fill="url(#cs)"/><ellipse cx="360" cy="1071" rx="7.5" ry="5.0" fill="url(#cs)" transform="rotate(10 360 1071)"/><circle cx="208.7" cy="1080" r="5.7" fill="url(#cs)"/><circle cx="211" cy="1086" r="5.0" fill="url(#cs)"/><circle cx="206" cy="1091" r="4.3" fill="url(#cs)"/><circle cx="252" cy="1097" r="3.5" fill="url(#cs)"/><ellipse cx="300.7" cy="1098.7" rx="8.0" ry="5.7" fill="url(#cs)" transform="rotate(0 300.7 1098.7)"/><circle cx="325" cy="1098" r="4.3" fill="url(#cs)"/><circle cx="322.5" cy="1105.5" r="4.3" fill="url(#cs)"/><circle cx="334" cy="1107.5" r="5.0" fill="url(#cs)"/><circle cx="352" cy="1093" r="5.0" fill="url(#cs)"/><circle cx="351" cy="1098.7" r="4.3" fill="url(#cs)"/><circle cx="377.5" cy="1089.5" r="5.0" fill="url(#cs)"/><circle cx="381" cy="1098" r="4.3" fill="url(#cs)"/><circle cx="366" cy="1107.5" r="5.0" fill="url(#cs)"/><circle cx="350" cy="1113.7" r="4.3" fill="url(#cs)"/><circle cx="211" cy="1098" r="5.0" fill="url(#cs)"/><circle cx="218.7" cy="1104.5" r="5.7" fill="url(#cs)"/><circle cx="206" cy="1102.5" r="4.3" fill="url(#cs)"/><circle cx="327" cy="1115" r="5.0" fill="url(#cs)"/><circle cx="230" cy="1120" r="4.3" fill="url(#cd)"/><circle cx="268" cy="1127.5" r="4.3" fill="url(#cs)"/><circle cx="208.7" cy="1133.7" r="4.3" fill="url(#cd)"/><circle cx="330" cy="1139.5" r="6.4" fill="url(#cs)"/><circle cx="335" cy="1141" r="5.7" fill="url(#cs)"/><circle cx="351" cy="1140" r="5.7" fill="url(#cs)"/><circle cx="352.5" cy="1146" r="5.0" fill="url(#cs)"/><circle cx="375" cy="1140" r="4.3" fill="url(#cs)"/><circle cx="380.5" cy="1140" r="4.3" fill="url(#cs)"/><circle cx="241" cy="1150" r="6.4" fill="url(#cs)"/><circle cx="242.5" cy="1156" r="5.0" fill="url(#cs)"/><circle cx="239" cy="1146" r="4.3" fill="url(#cs)"/>
<path d="M242 1059.3H318.8V1119" fill="none" stroke="#b4b4bc" stroke-width="1.15"/>
<line x1="241.6" y1="1119" x2="319.4" y2="1119" stroke="#bcbcc4" stroke-width="1.9"/>
<line x1="242" y1="1119.2" x2="200.5" y2="1162.5" stroke="#a0a0a0" stroke-width="1"/>
<line x1="318.7" y1="1119.2" x2="387.3" y2="1162.5" stroke="#a0a0a0" stroke-width="1"/>
</g>
<clipPath id="f4"><rect x="200.5" y="1169.5" width="186.8" height="148.0"/></clipPath>
<rect x="200.5" y="1169.5" width="186.8" height="148.0" fill="#040420"/>
<g clip-path="url(#f4)">
<circle cx="290" cy="1215" r="75" fill="url(#hz)"/>
<circle cx="340" cy="1225" r="60" fill="url(#hz)"/>
<circle cx="240" cy="1200" r="55" fill="url(#hz)"/>
<circle cx="208" cy="1178" r="8.4" fill="url(#cg)"/><circle cx="228.7" cy="1177.5" r="8.4" fill="url(#cg)"/><circle cx="249" cy="1220" r="9.6" fill="url(#cg)"/><circle cx="280" cy="1213" r="9.6" fill="url(#cg)"/><circle cx="303" cy="1204" r="8.4" fill="url(#cg)"/><circle cx="335" cy="1212.5" r="10.8" fill="url(#cg)"/><ellipse cx="378" cy="1227.5" rx="11.7" ry="10.2" fill="url(#cg)" transform="rotate(0 378 1227.5)"/><ellipse cx="223.7" cy="1261" rx="6.3" ry="8.4" fill="url(#cg)" transform="rotate(-30 223.7 1261)"/><ellipse cx="342.5" cy="1267.5" rx="13.0" ry="9.6" fill="url(#cg)" transform="rotate(0 342.5 1267.5)"/>
</g>
<clipPath id="f5"><rect x="390" y="1015" width="186.2" height="148"/></clipPath>
<rect x="390" y="1015" width="186.2" height="148" fill="#030312"/>
<g clip-path="url(#f5)">
<circle cx="404" cy="1025.7" r="3.7" fill="url(#cs)"/><circle cx="410" cy="1035.5" r="4.3" fill="url(#cs)"/><circle cx="393" cy="1043" r="3.5" fill="url(#cd)"/><ellipse cx="427" cy="1061" rx="3.0" ry="4.3" fill="url(#cs)" transform="rotate(0 427 1061)"/><circle cx="447.5" cy="1055.7" r="2.8" fill="url(#cs)"/><circle cx="450" cy="1068.7" r="2.8" fill="url(#cs)"/><circle cx="417.5" cy="1075" r="2.8" fill="url(#cs)"/><circle cx="529" cy="1059.5" r="3.7" fill="url(#cs)"/><circle cx="538" cy="1085.5" r="3.5" fill="url(#cs)"/><circle cx="428" cy="1110.7" r="2.8" fill="url(#cs)"/><circle cx="471" cy="1103.7" r="3.5" fill="url(#cs)"/><circle cx="476.7" cy="1107.5" r="3.5" fill="url(#cs)"/><circle cx="486.7" cy="1111" r="3.5" fill="url(#cs)"/><circle cx="520" cy="1107.5" r="3.5" fill="url(#cs)"/><circle cx="519" cy="1114" r="3.5" fill="url(#cs)"/><circle cx="490" cy="1128" r="2.8" fill="url(#cs)"/><circle cx="486" cy="1131" r="2.8" fill="url(#cs)"/><circle cx="466" cy="1152.5" r="4.3" fill="url(#cs)"/><circle cx="461.7" cy="1156" r="3.5" fill="url(#cs)"/><circle cx="511.7" cy="1154" r="2.8" fill="url(#cs)"/><circle cx="567.5" cy="1026" r="4.3" fill="url(#cd)"/><circle cx="502" cy="1082" r="3.5" fill="url(#cd)"/><circle cx="495" cy="1144.5" r="3.5" fill="url(#cd)"/>
<rect x="455" y="1078" width="75.7" height="59.5" fill="none" stroke="#9a9a9a" stroke-width="1.1"/>
<line x1="455" y1="1137.5" x2="391" y2="1162.5" stroke="#9a9a9a" stroke-width="1"/>
<line x1="530.7" y1="1137.5" x2="575" y2="1162.5" stroke="#9a9a9a" stroke-width="1"/>
<text class="r" font-size="15" text-anchor="middle" fill="#f2f2f2" textLength="29.3" lengthAdjust="spacingAndGlyphs" x="552.9" y="1157">25μm</text>
<line x1="545.5" y1="1159.9" x2="560.8" y2="1159.9" stroke="#fff" stroke-width="1.4"/>
</g>
<clipPath id="f6"><rect x="390" y="1169.5" width="186.2" height="148.0"/></clipPath>
<rect x="390" y="1169.5" width="186.2" height="148.0" fill="#030312"/>
<g clip-path="url(#f6)">
<circle cx="507" cy="1177" r="6.0" fill="url(#cd)"/><circle cx="430" cy="1235.5" r="5.5" fill="url(#cg)"/><circle cx="446" cy="1245" r="5.5" fill="url(#cg)"/><circle cx="470" cy="1253" r="6.0" fill="url(#cg)"/><circle cx="550" cy="1245.7" r="5.5" fill="url(#cg)"/><circle cx="549" cy="1260.7" r="6.0" fill="url(#cg)"/><circle cx="477.5" cy="1294.5" r="4.8" fill="url(#cg)"/><circle cx="468" cy="1302.5" r="5.5" fill="url(#cg)"/>
<text class="r" font-size="15" text-anchor="middle" fill="#f2f2f2" textLength="29.3" lengthAdjust="spacingAndGlyphs" x="552.9" y="1311.6">25μm</text>
<line x1="534.5" y1="1315" x2="570" y2="1315" stroke="#fff" stroke-width="1.6"/>
</g>
</svg>
</body></html>
